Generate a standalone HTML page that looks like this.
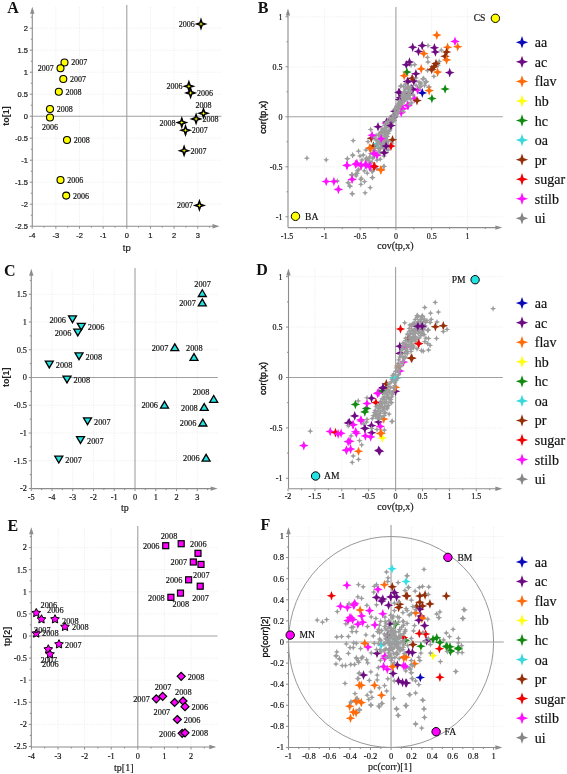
<!DOCTYPE html>
<html><head><meta charset="utf-8"><style>
html,body{margin:0;padding:0;background:#fff;}
body{width:567px;height:774px;overflow:hidden;}
svg{display:block;filter:blur(0.3px);}
</style></head><body>
<svg width="567" height="774" viewBox="0 0 567 774">
<rect width="567" height="774" fill="#fff"/>
<line x1="55.85" y1="7" x2="55.85" y2="226.2" stroke="#ebebeb" stroke-width="0.8" stroke-dasharray="1.2,1.2"/>
<line x1="79.5" y1="7" x2="79.5" y2="226.2" stroke="#ebebeb" stroke-width="0.8" stroke-dasharray="1.2,1.2"/>
<line x1="103.15" y1="7" x2="103.15" y2="226.2" stroke="#ebebeb" stroke-width="0.8" stroke-dasharray="1.2,1.2"/>
<line x1="150.45" y1="7" x2="150.45" y2="226.2" stroke="#ebebeb" stroke-width="0.8" stroke-dasharray="1.2,1.2"/>
<line x1="174.1" y1="7" x2="174.1" y2="226.2" stroke="#ebebeb" stroke-width="0.8" stroke-dasharray="1.2,1.2"/>
<line x1="197.75" y1="7" x2="197.75" y2="226.2" stroke="#ebebeb" stroke-width="0.8" stroke-dasharray="1.2,1.2"/>
<line x1="32.3" y1="28.2" x2="221.5" y2="28.2" stroke="#ebebeb" stroke-width="0.8" stroke-dasharray="1.2,1.2"/>
<line x1="32.3" y1="50.2" x2="221.5" y2="50.2" stroke="#ebebeb" stroke-width="0.8" stroke-dasharray="1.2,1.2"/>
<line x1="32.3" y1="72.2" x2="221.5" y2="72.2" stroke="#ebebeb" stroke-width="0.8" stroke-dasharray="1.2,1.2"/>
<line x1="32.3" y1="94.2" x2="221.5" y2="94.2" stroke="#ebebeb" stroke-width="0.8" stroke-dasharray="1.2,1.2"/>
<line x1="32.3" y1="138.2" x2="221.5" y2="138.2" stroke="#ebebeb" stroke-width="0.8" stroke-dasharray="1.2,1.2"/>
<line x1="32.3" y1="160.2" x2="221.5" y2="160.2" stroke="#ebebeb" stroke-width="0.8" stroke-dasharray="1.2,1.2"/>
<line x1="32.3" y1="182.2" x2="221.5" y2="182.2" stroke="#ebebeb" stroke-width="0.8" stroke-dasharray="1.2,1.2"/>
<line x1="32.3" y1="204.2" x2="221.5" y2="204.2" stroke="#ebebeb" stroke-width="0.8" stroke-dasharray="1.2,1.2"/>
<line x1="126.8" y1="5" x2="126.8" y2="226.2" stroke="#a0a0a0" stroke-width="1.1"/>
<line x1="32.3" y1="116.2" x2="221.5" y2="116.2" stroke="#a0a0a0" stroke-width="1.1"/>
<line x1="32.3" y1="226.2" x2="32.3" y2="11.8" stroke="#8c8c8c" stroke-width="1.1"/>
<path d="M32.3 6.8 L30.1 13.8 L34.5 13.8 Z" fill="#8c8c8c"/>
<line x1="32.3" y1="226.2" x2="214.5" y2="226.2" stroke="#8c8c8c" stroke-width="1.1"/>
<path d="M219.5 226.2 L212.5 224 L212.5 228.4 Z" fill="#8c8c8c"/>
<line x1="29.8" y1="226.2" x2="32.3" y2="226.2" stroke="#8c8c8c" stroke-width="1"/>
<line x1="29.8" y1="204.2" x2="32.3" y2="204.2" stroke="#8c8c8c" stroke-width="1"/>
<line x1="29.8" y1="182.2" x2="32.3" y2="182.2" stroke="#8c8c8c" stroke-width="1"/>
<line x1="29.8" y1="160.2" x2="32.3" y2="160.2" stroke="#8c8c8c" stroke-width="1"/>
<line x1="29.8" y1="138.2" x2="32.3" y2="138.2" stroke="#8c8c8c" stroke-width="1"/>
<line x1="29.8" y1="116.2" x2="32.3" y2="116.2" stroke="#8c8c8c" stroke-width="1"/>
<line x1="29.8" y1="94.2" x2="32.3" y2="94.2" stroke="#8c8c8c" stroke-width="1"/>
<line x1="29.8" y1="72.2" x2="32.3" y2="72.2" stroke="#8c8c8c" stroke-width="1"/>
<line x1="29.8" y1="50.2" x2="32.3" y2="50.2" stroke="#8c8c8c" stroke-width="1"/>
<line x1="29.8" y1="28.2" x2="32.3" y2="28.2" stroke="#8c8c8c" stroke-width="1"/>
<line x1="30.8" y1="215.2" x2="32.3" y2="215.2" stroke="#8c8c8c" stroke-width="1"/>
<line x1="30.8" y1="193.2" x2="32.3" y2="193.2" stroke="#8c8c8c" stroke-width="1"/>
<line x1="30.8" y1="171.2" x2="32.3" y2="171.2" stroke="#8c8c8c" stroke-width="1"/>
<line x1="30.8" y1="149.2" x2="32.3" y2="149.2" stroke="#8c8c8c" stroke-width="1"/>
<line x1="30.8" y1="127.2" x2="32.3" y2="127.2" stroke="#8c8c8c" stroke-width="1"/>
<line x1="30.8" y1="105.2" x2="32.3" y2="105.2" stroke="#8c8c8c" stroke-width="1"/>
<line x1="30.8" y1="83.2" x2="32.3" y2="83.2" stroke="#8c8c8c" stroke-width="1"/>
<line x1="30.8" y1="61.2" x2="32.3" y2="61.2" stroke="#8c8c8c" stroke-width="1"/>
<line x1="30.8" y1="39.2" x2="32.3" y2="39.2" stroke="#8c8c8c" stroke-width="1"/>
<line x1="30.8" y1="17.2" x2="32.3" y2="17.2" stroke="#8c8c8c" stroke-width="1"/>
<line x1="32.2" y1="226.2" x2="32.2" y2="228.7" stroke="#8c8c8c" stroke-width="1"/>
<line x1="55.85" y1="226.2" x2="55.85" y2="228.7" stroke="#8c8c8c" stroke-width="1"/>
<line x1="79.5" y1="226.2" x2="79.5" y2="228.7" stroke="#8c8c8c" stroke-width="1"/>
<line x1="103.15" y1="226.2" x2="103.15" y2="228.7" stroke="#8c8c8c" stroke-width="1"/>
<line x1="126.8" y1="226.2" x2="126.8" y2="228.7" stroke="#8c8c8c" stroke-width="1"/>
<line x1="150.45" y1="226.2" x2="150.45" y2="228.7" stroke="#8c8c8c" stroke-width="1"/>
<line x1="174.1" y1="226.2" x2="174.1" y2="228.7" stroke="#8c8c8c" stroke-width="1"/>
<line x1="197.75" y1="226.2" x2="197.75" y2="228.7" stroke="#8c8c8c" stroke-width="1"/>
<line x1="44.03" y1="226.2" x2="44.03" y2="227.7" stroke="#8c8c8c" stroke-width="1"/>
<line x1="67.67" y1="226.2" x2="67.67" y2="227.7" stroke="#8c8c8c" stroke-width="1"/>
<line x1="91.33" y1="226.2" x2="91.33" y2="227.7" stroke="#8c8c8c" stroke-width="1"/>
<line x1="114.97" y1="226.2" x2="114.97" y2="227.7" stroke="#8c8c8c" stroke-width="1"/>
<line x1="138.62" y1="226.2" x2="138.62" y2="227.7" stroke="#8c8c8c" stroke-width="1"/>
<line x1="162.27" y1="226.2" x2="162.27" y2="227.7" stroke="#8c8c8c" stroke-width="1"/>
<line x1="185.93" y1="226.2" x2="185.93" y2="227.7" stroke="#8c8c8c" stroke-width="1"/>
<line x1="209.57" y1="226.2" x2="209.57" y2="227.7" stroke="#8c8c8c" stroke-width="1"/>
<text x="28" y="229" font-size="7.5" font-family="Liberation Sans" text-anchor="end" fill="#111" stroke="#111" stroke-width="0.18" >-2.5</text>
<text x="28" y="207" font-size="7.5" font-family="Liberation Sans" text-anchor="end" fill="#111" stroke="#111" stroke-width="0.18" >-2</text>
<text x="28" y="185" font-size="7.5" font-family="Liberation Sans" text-anchor="end" fill="#111" stroke="#111" stroke-width="0.18" >-1.5</text>
<text x="28" y="163" font-size="7.5" font-family="Liberation Sans" text-anchor="end" fill="#111" stroke="#111" stroke-width="0.18" >-1</text>
<text x="28" y="141" font-size="7.5" font-family="Liberation Sans" text-anchor="end" fill="#111" stroke="#111" stroke-width="0.18" >-0.5</text>
<text x="28" y="119" font-size="7.5" font-family="Liberation Sans" text-anchor="end" fill="#111" stroke="#111" stroke-width="0.18" >0</text>
<text x="28" y="97" font-size="7.5" font-family="Liberation Sans" text-anchor="end" fill="#111" stroke="#111" stroke-width="0.18" >0.5</text>
<text x="28" y="75" font-size="7.5" font-family="Liberation Sans" text-anchor="end" fill="#111" stroke="#111" stroke-width="0.18" >1</text>
<text x="28" y="53" font-size="7.5" font-family="Liberation Sans" text-anchor="end" fill="#111" stroke="#111" stroke-width="0.18" >1.5</text>
<text x="28" y="31" font-size="7.5" font-family="Liberation Sans" text-anchor="end" fill="#111" stroke="#111" stroke-width="0.18" >2</text>
<text x="32.2" y="237.5" font-size="7.5" font-family="Liberation Sans" text-anchor="middle" fill="#111" stroke="#111" stroke-width="0.18" >-4</text>
<text x="55.85" y="237.5" font-size="7.5" font-family="Liberation Sans" text-anchor="middle" fill="#111" stroke="#111" stroke-width="0.18" >-3</text>
<text x="79.5" y="237.5" font-size="7.5" font-family="Liberation Sans" text-anchor="middle" fill="#111" stroke="#111" stroke-width="0.18" >-2</text>
<text x="103.15" y="237.5" font-size="7.5" font-family="Liberation Sans" text-anchor="middle" fill="#111" stroke="#111" stroke-width="0.18" >-1</text>
<text x="126.8" y="237.5" font-size="7.5" font-family="Liberation Sans" text-anchor="middle" fill="#111" stroke="#111" stroke-width="0.18" >0</text>
<text x="150.45" y="237.5" font-size="7.5" font-family="Liberation Sans" text-anchor="middle" fill="#111" stroke="#111" stroke-width="0.18" >1</text>
<text x="174.1" y="237.5" font-size="7.5" font-family="Liberation Sans" text-anchor="middle" fill="#111" stroke="#111" stroke-width="0.18" >2</text>
<text x="197.75" y="237.5" font-size="7.5" font-family="Liberation Sans" text-anchor="middle" fill="#111" stroke="#111" stroke-width="0.18" >3</text>
<text x="7.3" y="13" font-size="16" font-family="Liberation Serif" text-anchor="start" fill="#111" font-weight="bold" >A</text>
<text x="126.8" y="250.5" font-size="9.5" font-family="Liberation Sans" text-anchor="middle" fill="#222" stroke="#111" stroke-width="0.18" >tp</text>
<text x="0" y="0" font-size="9" font-family="Liberation Sans" font-weight="bold" fill="#222" text-anchor="middle" transform="translate(9.0,116) rotate(-90)">to[1]</text>
<circle cx="64.5" cy="62.5" r="3.5" fill="#ffff00" stroke="#000" stroke-width="1.1"/>
<text x="71.2" y="65.4" font-size="8.0" font-family="Liberation Serif" text-anchor="start" fill="#111" stroke="#111" stroke-width="0.18" >2007</text>
<circle cx="60.5" cy="68.3" r="3.5" fill="#ffff00" stroke="#000" stroke-width="1.1"/>
<text x="53.8" y="71.2" font-size="8.0" font-family="Liberation Serif" text-anchor="end" fill="#111" stroke="#111" stroke-width="0.18" >2007</text>
<circle cx="63.3" cy="79" r="3.5" fill="#ffff00" stroke="#000" stroke-width="1.1"/>
<text x="70" y="81.9" font-size="8.0" font-family="Liberation Serif" text-anchor="start" fill="#111" stroke="#111" stroke-width="0.18" >2007</text>
<circle cx="58.8" cy="91.8" r="3.5" fill="#ffff00" stroke="#000" stroke-width="1.1"/>
<text x="65.5" y="94.7" font-size="8.0" font-family="Liberation Serif" text-anchor="start" fill="#111" stroke="#111" stroke-width="0.18" >2008</text>
<circle cx="50" cy="109" r="3.5" fill="#ffff00" stroke="#000" stroke-width="1.1"/>
<text x="56.7" y="111.9" font-size="8.0" font-family="Liberation Serif" text-anchor="start" fill="#111" stroke="#111" stroke-width="0.18" >2008</text>
<circle cx="50" cy="117.5" r="3.5" fill="#ffff00" stroke="#000" stroke-width="1.1"/>
<text x="50" y="129.5" font-size="8.0" font-family="Liberation Serif" text-anchor="middle" fill="#111" stroke="#111" stroke-width="0.18" >2006</text>
<circle cx="67" cy="140" r="3.5" fill="#ffff00" stroke="#000" stroke-width="1.1"/>
<text x="73.7" y="142.9" font-size="8.0" font-family="Liberation Serif" text-anchor="start" fill="#111" stroke="#111" stroke-width="0.18" >2008</text>
<circle cx="60.5" cy="180" r="3.5" fill="#ffff00" stroke="#000" stroke-width="1.1"/>
<text x="67.2" y="182.9" font-size="8.0" font-family="Liberation Serif" text-anchor="start" fill="#111" stroke="#111" stroke-width="0.18" >2006</text>
<circle cx="66.2" cy="195.6" r="3.5" fill="#ffff00" stroke="#000" stroke-width="1.1"/>
<text x="72.9" y="198.5" font-size="8.0" font-family="Liberation Serif" text-anchor="start" fill="#111" stroke="#111" stroke-width="0.18" >2006</text>
<path d="M201 19.7 L202.09 22.91 L205.3 24 L202.09 25.09 L201 28.3 L199.91 25.09 L196.7 24 L199.91 22.91Z" fill="#ffff00" stroke="#000" stroke-width="1.5" stroke-linejoin="miter"/>
<text x="194.7" y="26.9" font-size="8.0" font-family="Liberation Serif" text-anchor="end" fill="#111" stroke="#111" stroke-width="0.18" >2006</text>
<path d="M188.9 81.9 L189.99 85.11 L193.2 86.2 L189.99 87.29 L188.9 90.5 L187.81 87.29 L184.6 86.2 L187.81 85.11Z" fill="#ffff00" stroke="#000" stroke-width="1.5" stroke-linejoin="miter"/>
<text x="182.6" y="89.1" font-size="8.0" font-family="Liberation Serif" text-anchor="end" fill="#111" stroke="#111" stroke-width="0.18" >2006</text>
<path d="M190.6 88.6 L191.69 91.81 L194.9 92.9 L191.69 93.99 L190.6 97.2 L189.51 93.99 L186.3 92.9 L189.51 91.81Z" fill="#ffff00" stroke="#000" stroke-width="1.5" stroke-linejoin="miter"/>
<text x="196.9" y="95.8" font-size="8.0" font-family="Liberation Serif" text-anchor="start" fill="#111" stroke="#111" stroke-width="0.18" >2006</text>
<path d="M203.5 108.9 L204.59 112.11 L207.8 113.2 L204.59 114.29 L203.5 117.5 L202.41 114.29 L199.2 113.2 L202.41 112.11Z" fill="#ffff00" stroke="#000" stroke-width="1.5" stroke-linejoin="miter"/>
<text x="203.5" y="107.7" font-size="8.0" font-family="Liberation Serif" text-anchor="middle" fill="#111" stroke="#111" stroke-width="0.18" >2008</text>
<path d="M196.1 114.6 L197.19 117.81 L200.4 118.9 L197.19 119.99 L196.1 123.2 L195.01 119.99 L191.8 118.9 L195.01 117.81Z" fill="#ffff00" stroke="#000" stroke-width="1.5" stroke-linejoin="miter"/>
<text x="202.4" y="121.8" font-size="8.0" font-family="Liberation Serif" text-anchor="start" fill="#111" stroke="#111" stroke-width="0.18" >2008</text>
<path d="M181.8 118.3 L182.89 121.51 L186.1 122.6 L182.89 123.69 L181.8 126.9 L180.71 123.69 L177.5 122.6 L180.71 121.51Z" fill="#ffff00" stroke="#000" stroke-width="1.5" stroke-linejoin="miter"/>
<text x="175.5" y="125.5" font-size="8.0" font-family="Liberation Serif" text-anchor="end" fill="#111" stroke="#111" stroke-width="0.18" >2008</text>
<path d="M185.5 126 L186.59 129.21 L189.8 130.3 L186.59 131.39 L185.5 134.6 L184.41 131.39 L181.2 130.3 L184.41 129.21Z" fill="#ffff00" stroke="#000" stroke-width="1.5" stroke-linejoin="miter"/>
<text x="191.8" y="133.2" font-size="8.0" font-family="Liberation Serif" text-anchor="start" fill="#111" stroke="#111" stroke-width="0.18" >2007</text>
<path d="M184.1 146.5 L185.19 149.71 L188.4 150.8 L185.19 151.89 L184.1 155.1 L183.01 151.89 L179.8 150.8 L183.01 149.71Z" fill="#ffff00" stroke="#000" stroke-width="1.5" stroke-linejoin="miter"/>
<text x="190.4" y="153.7" font-size="8.0" font-family="Liberation Serif" text-anchor="start" fill="#111" stroke="#111" stroke-width="0.18" >2007</text>
<path d="M199.4 201.1 L200.49 204.31 L203.7 205.4 L200.49 206.49 L199.4 209.7 L198.31 206.49 L195.1 205.4 L198.31 204.31Z" fill="#ffff00" stroke="#000" stroke-width="1.5" stroke-linejoin="miter"/>
<text x="193.1" y="208.3" font-size="8.0" font-family="Liberation Serif" text-anchor="end" fill="#111" stroke="#111" stroke-width="0.18" >2007</text>
<line x1="52" y1="270" x2="52" y2="488.6" stroke="#ebebeb" stroke-width="0.8" stroke-dasharray="1.2,1.2"/>
<line x1="72.75" y1="270" x2="72.75" y2="488.6" stroke="#ebebeb" stroke-width="0.8" stroke-dasharray="1.2,1.2"/>
<line x1="93.5" y1="270" x2="93.5" y2="488.6" stroke="#ebebeb" stroke-width="0.8" stroke-dasharray="1.2,1.2"/>
<line x1="114.25" y1="270" x2="114.25" y2="488.6" stroke="#ebebeb" stroke-width="0.8" stroke-dasharray="1.2,1.2"/>
<line x1="155.75" y1="270" x2="155.75" y2="488.6" stroke="#ebebeb" stroke-width="0.8" stroke-dasharray="1.2,1.2"/>
<line x1="176.5" y1="270" x2="176.5" y2="488.6" stroke="#ebebeb" stroke-width="0.8" stroke-dasharray="1.2,1.2"/>
<line x1="197.25" y1="270" x2="197.25" y2="488.6" stroke="#ebebeb" stroke-width="0.8" stroke-dasharray="1.2,1.2"/>
<line x1="31.3" y1="294.25" x2="217.7" y2="294.25" stroke="#ebebeb" stroke-width="0.8" stroke-dasharray="1.2,1.2"/>
<line x1="31.3" y1="322" x2="217.7" y2="322" stroke="#ebebeb" stroke-width="0.8" stroke-dasharray="1.2,1.2"/>
<line x1="31.3" y1="349.75" x2="217.7" y2="349.75" stroke="#ebebeb" stroke-width="0.8" stroke-dasharray="1.2,1.2"/>
<line x1="31.3" y1="405.25" x2="217.7" y2="405.25" stroke="#ebebeb" stroke-width="0.8" stroke-dasharray="1.2,1.2"/>
<line x1="31.3" y1="433" x2="217.7" y2="433" stroke="#ebebeb" stroke-width="0.8" stroke-dasharray="1.2,1.2"/>
<line x1="31.3" y1="460.75" x2="217.7" y2="460.75" stroke="#ebebeb" stroke-width="0.8" stroke-dasharray="1.2,1.2"/>
<line x1="135" y1="268" x2="135" y2="488.6" stroke="#a0a0a0" stroke-width="1.1"/>
<line x1="31.3" y1="377.5" x2="217.7" y2="377.5" stroke="#a0a0a0" stroke-width="1.1"/>
<line x1="31.3" y1="488.6" x2="31.3" y2="273.8" stroke="#8c8c8c" stroke-width="1.1"/>
<path d="M31.3 268.8 L29.1 275.8 L33.5 275.8 Z" fill="#8c8c8c"/>
<line x1="31.3" y1="488.6" x2="212.7" y2="488.6" stroke="#8c8c8c" stroke-width="1.1"/>
<path d="M217.7 488.6 L210.7 486.4 L210.7 490.8 Z" fill="#8c8c8c"/>
<line x1="28.8" y1="488.5" x2="31.3" y2="488.5" stroke="#8c8c8c" stroke-width="1"/>
<line x1="28.8" y1="460.75" x2="31.3" y2="460.75" stroke="#8c8c8c" stroke-width="1"/>
<line x1="28.8" y1="433" x2="31.3" y2="433" stroke="#8c8c8c" stroke-width="1"/>
<line x1="28.8" y1="405.25" x2="31.3" y2="405.25" stroke="#8c8c8c" stroke-width="1"/>
<line x1="28.8" y1="377.5" x2="31.3" y2="377.5" stroke="#8c8c8c" stroke-width="1"/>
<line x1="28.8" y1="349.75" x2="31.3" y2="349.75" stroke="#8c8c8c" stroke-width="1"/>
<line x1="28.8" y1="322" x2="31.3" y2="322" stroke="#8c8c8c" stroke-width="1"/>
<line x1="28.8" y1="294.25" x2="31.3" y2="294.25" stroke="#8c8c8c" stroke-width="1"/>
<line x1="29.8" y1="474.62" x2="31.3" y2="474.62" stroke="#8c8c8c" stroke-width="1"/>
<line x1="29.8" y1="446.88" x2="31.3" y2="446.88" stroke="#8c8c8c" stroke-width="1"/>
<line x1="29.8" y1="419.12" x2="31.3" y2="419.12" stroke="#8c8c8c" stroke-width="1"/>
<line x1="29.8" y1="391.38" x2="31.3" y2="391.38" stroke="#8c8c8c" stroke-width="1"/>
<line x1="29.8" y1="363.62" x2="31.3" y2="363.62" stroke="#8c8c8c" stroke-width="1"/>
<line x1="29.8" y1="335.88" x2="31.3" y2="335.88" stroke="#8c8c8c" stroke-width="1"/>
<line x1="29.8" y1="308.12" x2="31.3" y2="308.12" stroke="#8c8c8c" stroke-width="1"/>
<line x1="29.8" y1="280.38" x2="31.3" y2="280.38" stroke="#8c8c8c" stroke-width="1"/>
<line x1="31.25" y1="488.6" x2="31.25" y2="491.1" stroke="#8c8c8c" stroke-width="1"/>
<line x1="52" y1="488.6" x2="52" y2="491.1" stroke="#8c8c8c" stroke-width="1"/>
<line x1="72.75" y1="488.6" x2="72.75" y2="491.1" stroke="#8c8c8c" stroke-width="1"/>
<line x1="93.5" y1="488.6" x2="93.5" y2="491.1" stroke="#8c8c8c" stroke-width="1"/>
<line x1="114.25" y1="488.6" x2="114.25" y2="491.1" stroke="#8c8c8c" stroke-width="1"/>
<line x1="135" y1="488.6" x2="135" y2="491.1" stroke="#8c8c8c" stroke-width="1"/>
<line x1="155.75" y1="488.6" x2="155.75" y2="491.1" stroke="#8c8c8c" stroke-width="1"/>
<line x1="176.5" y1="488.6" x2="176.5" y2="491.1" stroke="#8c8c8c" stroke-width="1"/>
<line x1="197.25" y1="488.6" x2="197.25" y2="491.1" stroke="#8c8c8c" stroke-width="1"/>
<line x1="41.62" y1="488.6" x2="41.62" y2="490.1" stroke="#8c8c8c" stroke-width="1"/>
<line x1="62.38" y1="488.6" x2="62.38" y2="490.1" stroke="#8c8c8c" stroke-width="1"/>
<line x1="83.12" y1="488.6" x2="83.12" y2="490.1" stroke="#8c8c8c" stroke-width="1"/>
<line x1="103.88" y1="488.6" x2="103.88" y2="490.1" stroke="#8c8c8c" stroke-width="1"/>
<line x1="124.62" y1="488.6" x2="124.62" y2="490.1" stroke="#8c8c8c" stroke-width="1"/>
<line x1="145.38" y1="488.6" x2="145.38" y2="490.1" stroke="#8c8c8c" stroke-width="1"/>
<line x1="166.12" y1="488.6" x2="166.12" y2="490.1" stroke="#8c8c8c" stroke-width="1"/>
<line x1="186.88" y1="488.6" x2="186.88" y2="490.1" stroke="#8c8c8c" stroke-width="1"/>
<line x1="207.62" y1="488.6" x2="207.62" y2="490.1" stroke="#8c8c8c" stroke-width="1"/>
<text x="27" y="491.3" font-size="8.3" font-family="Liberation Serif" text-anchor="end" fill="#111" stroke="#111" stroke-width="0.18" >-2</text>
<text x="27" y="463.55" font-size="8.3" font-family="Liberation Serif" text-anchor="end" fill="#111" stroke="#111" stroke-width="0.18" >-1.5</text>
<text x="27" y="435.8" font-size="8.3" font-family="Liberation Serif" text-anchor="end" fill="#111" stroke="#111" stroke-width="0.18" >-1</text>
<text x="27" y="408.05" font-size="8.3" font-family="Liberation Serif" text-anchor="end" fill="#111" stroke="#111" stroke-width="0.18" >-0.5</text>
<text x="27" y="380.3" font-size="8.3" font-family="Liberation Serif" text-anchor="end" fill="#111" stroke="#111" stroke-width="0.18" >0</text>
<text x="27" y="352.55" font-size="8.3" font-family="Liberation Serif" text-anchor="end" fill="#111" stroke="#111" stroke-width="0.18" >0.5</text>
<text x="27" y="324.8" font-size="8.3" font-family="Liberation Serif" text-anchor="end" fill="#111" stroke="#111" stroke-width="0.18" >1</text>
<text x="27" y="297.05" font-size="8.3" font-family="Liberation Serif" text-anchor="end" fill="#111" stroke="#111" stroke-width="0.18" >1.5</text>
<text x="31.25" y="500" font-size="8.3" font-family="Liberation Serif" text-anchor="middle" fill="#111" stroke="#111" stroke-width="0.18" >-5</text>
<text x="52" y="500" font-size="8.3" font-family="Liberation Serif" text-anchor="middle" fill="#111" stroke="#111" stroke-width="0.18" >-4</text>
<text x="72.75" y="500" font-size="8.3" font-family="Liberation Serif" text-anchor="middle" fill="#111" stroke="#111" stroke-width="0.18" >-3</text>
<text x="93.5" y="500" font-size="8.3" font-family="Liberation Serif" text-anchor="middle" fill="#111" stroke="#111" stroke-width="0.18" >-2</text>
<text x="114.25" y="500" font-size="8.3" font-family="Liberation Serif" text-anchor="middle" fill="#111" stroke="#111" stroke-width="0.18" >-1</text>
<text x="135" y="500" font-size="8.3" font-family="Liberation Serif" text-anchor="middle" fill="#111" stroke="#111" stroke-width="0.18" >0</text>
<text x="155.75" y="500" font-size="8.3" font-family="Liberation Serif" text-anchor="middle" fill="#111" stroke="#111" stroke-width="0.18" >1</text>
<text x="176.5" y="500" font-size="8.3" font-family="Liberation Serif" text-anchor="middle" fill="#111" stroke="#111" stroke-width="0.18" >2</text>
<text x="197.25" y="500" font-size="8.3" font-family="Liberation Serif" text-anchor="middle" fill="#111" stroke="#111" stroke-width="0.18" >3</text>
<text x="4" y="275.5" font-size="16" font-family="Liberation Serif" text-anchor="start" fill="#111" font-weight="bold" >C</text>
<text x="124.9" y="510.8" font-size="10" font-family="Liberation Serif" text-anchor="middle" fill="#222" stroke="#111" stroke-width="0.18" >tp</text>
<text x="0" y="0" font-size="9" font-family="Liberation Sans" font-weight="bold" fill="#222" text-anchor="middle" transform="translate(9.2,377.3) rotate(-90)">to[1]</text>
<path d="M68.5 315.9 L76.5 315.9 L72.5 322.7 Z" fill="#22e2e2" stroke="#000" stroke-width="1.3" stroke-linejoin="miter"/>
<text x="66" y="322.8" font-size="8.3" font-family="Liberation Serif" text-anchor="end" fill="#111" stroke="#111" stroke-width="0.18" >2006</text>
<path d="M77.3 323.4 L85.3 323.4 L81.3 330.2 Z" fill="#22e2e2" stroke="#000" stroke-width="1.3" stroke-linejoin="miter"/>
<text x="87.8" y="330.3" font-size="8.3" font-family="Liberation Serif" text-anchor="start" fill="#111" stroke="#111" stroke-width="0.18" >2006</text>
<path d="M73.8 329.1 L81.8 329.1 L77.8 335.9 Z" fill="#22e2e2" stroke="#000" stroke-width="1.3" stroke-linejoin="miter"/>
<text x="71.3" y="336" font-size="8.3" font-family="Liberation Serif" text-anchor="end" fill="#111" stroke="#111" stroke-width="0.18" >2006</text>
<path d="M75 352.9 L83 352.9 L79 359.7 Z" fill="#22e2e2" stroke="#000" stroke-width="1.3" stroke-linejoin="miter"/>
<text x="85.5" y="359.8" font-size="8.3" font-family="Liberation Serif" text-anchor="start" fill="#111" stroke="#111" stroke-width="0.18" >2008</text>
<path d="M45.3 361.1 L53.3 361.1 L49.3 367.9 Z" fill="#22e2e2" stroke="#000" stroke-width="1.3" stroke-linejoin="miter"/>
<text x="55.8" y="368" font-size="8.3" font-family="Liberation Serif" text-anchor="start" fill="#111" stroke="#111" stroke-width="0.18" >2008</text>
<path d="M63 376.1 L71 376.1 L67 382.9 Z" fill="#22e2e2" stroke="#000" stroke-width="1.3" stroke-linejoin="miter"/>
<text x="73.5" y="383" font-size="8.3" font-family="Liberation Serif" text-anchor="start" fill="#111" stroke="#111" stroke-width="0.18" >2008</text>
<path d="M83.5 417.9 L91.5 417.9 L87.5 424.7 Z" fill="#22e2e2" stroke="#000" stroke-width="1.3" stroke-linejoin="miter"/>
<text x="94" y="424.8" font-size="8.3" font-family="Liberation Serif" text-anchor="start" fill="#111" stroke="#111" stroke-width="0.18" >2007</text>
<path d="M76.5 436.6 L84.5 436.6 L80.5 443.4 Z" fill="#22e2e2" stroke="#000" stroke-width="1.3" stroke-linejoin="miter"/>
<text x="87" y="443.5" font-size="8.3" font-family="Liberation Serif" text-anchor="start" fill="#111" stroke="#111" stroke-width="0.18" >2007</text>
<path d="M54.8 456.2 L62.8 456.2 L58.8 463 Z" fill="#22e2e2" stroke="#000" stroke-width="1.3" stroke-linejoin="miter"/>
<text x="65.3" y="463.1" font-size="8.3" font-family="Liberation Serif" text-anchor="start" fill="#111" stroke="#111" stroke-width="0.18" >2007</text>
<path d="M198.3 296.5 L206.3 296.5 L202.3 289.7 Z" fill="#22e2e2" stroke="#000" stroke-width="1.3" stroke-linejoin="miter"/>
<text x="194.3" y="287.1" font-size="8.3" font-family="Liberation Serif" text-anchor="start" fill="#111" stroke="#111" stroke-width="0.18" >2007</text>
<path d="M198.3 305.9 L206.3 305.9 L202.3 299.1 Z" fill="#22e2e2" stroke="#000" stroke-width="1.3" stroke-linejoin="miter"/>
<text x="195.8" y="306" font-size="8.3" font-family="Liberation Serif" text-anchor="end" fill="#111" stroke="#111" stroke-width="0.18" >2007</text>
<path d="M170.8 350.7 L178.8 350.7 L174.8 343.9 Z" fill="#22e2e2" stroke="#000" stroke-width="1.3" stroke-linejoin="miter"/>
<text x="168.3" y="350.8" font-size="8.3" font-family="Liberation Serif" text-anchor="end" fill="#111" stroke="#111" stroke-width="0.18" >2007</text>
<path d="M190 360.4 L198 360.4 L194 353.6 Z" fill="#22e2e2" stroke="#000" stroke-width="1.3" stroke-linejoin="miter"/>
<text x="186" y="351.2" font-size="8.3" font-family="Liberation Serif" text-anchor="start" fill="#111" stroke="#111" stroke-width="0.18" >2008</text>
<path d="M160.5 408.2 L168.5 408.2 L164.5 401.4 Z" fill="#22e2e2" stroke="#000" stroke-width="1.3" stroke-linejoin="miter"/>
<text x="158" y="408.3" font-size="8.3" font-family="Liberation Serif" text-anchor="end" fill="#111" stroke="#111" stroke-width="0.18" >2006</text>
<path d="M209.7 402.3 L217.7 402.3 L213.7 395.5 Z" fill="#22e2e2" stroke="#000" stroke-width="1.3" stroke-linejoin="miter"/>
<text x="192.7" y="394.9" font-size="8.3" font-family="Liberation Serif" text-anchor="start" fill="#111" stroke="#111" stroke-width="0.18" >2008</text>
<path d="M200.2 410.4 L208.2 410.4 L204.2 403.6 Z" fill="#22e2e2" stroke="#000" stroke-width="1.3" stroke-linejoin="miter"/>
<text x="197.7" y="410.5" font-size="8.3" font-family="Liberation Serif" text-anchor="end" fill="#111" stroke="#111" stroke-width="0.18" >2008</text>
<path d="M198.9 426 L206.9 426 L202.9 419.2 Z" fill="#22e2e2" stroke="#000" stroke-width="1.3" stroke-linejoin="miter"/>
<text x="196.4" y="426.1" font-size="8.3" font-family="Liberation Serif" text-anchor="end" fill="#111" stroke="#111" stroke-width="0.18" >2006</text>
<path d="M202.1 461.1 L210.1 461.1 L206.1 454.3 Z" fill="#22e2e2" stroke="#000" stroke-width="1.3" stroke-linejoin="miter"/>
<text x="199.6" y="461.2" font-size="8.3" font-family="Liberation Serif" text-anchor="end" fill="#111" stroke="#111" stroke-width="0.18" >2006</text>
<line x1="58" y1="528" x2="58" y2="747" stroke="#ebebeb" stroke-width="0.8" stroke-dasharray="1.2,1.2"/>
<line x1="84.6" y1="528" x2="84.6" y2="747" stroke="#ebebeb" stroke-width="0.8" stroke-dasharray="1.2,1.2"/>
<line x1="111.2" y1="528" x2="111.2" y2="747" stroke="#ebebeb" stroke-width="0.8" stroke-dasharray="1.2,1.2"/>
<line x1="164.4" y1="528" x2="164.4" y2="747" stroke="#ebebeb" stroke-width="0.8" stroke-dasharray="1.2,1.2"/>
<line x1="191" y1="528" x2="191" y2="747" stroke="#ebebeb" stroke-width="0.8" stroke-dasharray="1.2,1.2"/>
<line x1="31.3" y1="547.6" x2="217.5" y2="547.6" stroke="#ebebeb" stroke-width="0.8" stroke-dasharray="1.2,1.2"/>
<line x1="31.3" y1="569.7" x2="217.5" y2="569.7" stroke="#ebebeb" stroke-width="0.8" stroke-dasharray="1.2,1.2"/>
<line x1="31.3" y1="591.8" x2="217.5" y2="591.8" stroke="#ebebeb" stroke-width="0.8" stroke-dasharray="1.2,1.2"/>
<line x1="31.3" y1="613.9" x2="217.5" y2="613.9" stroke="#ebebeb" stroke-width="0.8" stroke-dasharray="1.2,1.2"/>
<line x1="31.3" y1="658.1" x2="217.5" y2="658.1" stroke="#ebebeb" stroke-width="0.8" stroke-dasharray="1.2,1.2"/>
<line x1="31.3" y1="680.2" x2="217.5" y2="680.2" stroke="#ebebeb" stroke-width="0.8" stroke-dasharray="1.2,1.2"/>
<line x1="31.3" y1="702.3" x2="217.5" y2="702.3" stroke="#ebebeb" stroke-width="0.8" stroke-dasharray="1.2,1.2"/>
<line x1="31.3" y1="724.4" x2="217.5" y2="724.4" stroke="#ebebeb" stroke-width="0.8" stroke-dasharray="1.2,1.2"/>
<line x1="137.8" y1="526" x2="137.8" y2="747" stroke="#a0a0a0" stroke-width="1.1"/>
<line x1="31.3" y1="636" x2="217.5" y2="636" stroke="#a0a0a0" stroke-width="1.1"/>
<line x1="31.3" y1="747" x2="31.3" y2="532.3" stroke="#8c8c8c" stroke-width="1.1"/>
<path d="M31.3 527.3 L29.1 534.3 L33.5 534.3 Z" fill="#8c8c8c"/>
<line x1="31.3" y1="747" x2="211.3" y2="747" stroke="#8c8c8c" stroke-width="1.1"/>
<path d="M216.3 747 L209.3 744.8 L209.3 749.2 Z" fill="#8c8c8c"/>
<line x1="28.8" y1="746.5" x2="31.3" y2="746.5" stroke="#8c8c8c" stroke-width="1"/>
<line x1="28.8" y1="724.4" x2="31.3" y2="724.4" stroke="#8c8c8c" stroke-width="1"/>
<line x1="28.8" y1="702.3" x2="31.3" y2="702.3" stroke="#8c8c8c" stroke-width="1"/>
<line x1="28.8" y1="680.2" x2="31.3" y2="680.2" stroke="#8c8c8c" stroke-width="1"/>
<line x1="28.8" y1="658.1" x2="31.3" y2="658.1" stroke="#8c8c8c" stroke-width="1"/>
<line x1="28.8" y1="636" x2="31.3" y2="636" stroke="#8c8c8c" stroke-width="1"/>
<line x1="28.8" y1="613.9" x2="31.3" y2="613.9" stroke="#8c8c8c" stroke-width="1"/>
<line x1="28.8" y1="591.8" x2="31.3" y2="591.8" stroke="#8c8c8c" stroke-width="1"/>
<line x1="28.8" y1="569.7" x2="31.3" y2="569.7" stroke="#8c8c8c" stroke-width="1"/>
<line x1="28.8" y1="547.6" x2="31.3" y2="547.6" stroke="#8c8c8c" stroke-width="1"/>
<line x1="29.8" y1="735.45" x2="31.3" y2="735.45" stroke="#8c8c8c" stroke-width="1"/>
<line x1="29.8" y1="713.35" x2="31.3" y2="713.35" stroke="#8c8c8c" stroke-width="1"/>
<line x1="29.8" y1="691.25" x2="31.3" y2="691.25" stroke="#8c8c8c" stroke-width="1"/>
<line x1="29.8" y1="669.15" x2="31.3" y2="669.15" stroke="#8c8c8c" stroke-width="1"/>
<line x1="29.8" y1="647.05" x2="31.3" y2="647.05" stroke="#8c8c8c" stroke-width="1"/>
<line x1="29.8" y1="624.95" x2="31.3" y2="624.95" stroke="#8c8c8c" stroke-width="1"/>
<line x1="29.8" y1="602.85" x2="31.3" y2="602.85" stroke="#8c8c8c" stroke-width="1"/>
<line x1="29.8" y1="580.75" x2="31.3" y2="580.75" stroke="#8c8c8c" stroke-width="1"/>
<line x1="29.8" y1="558.65" x2="31.3" y2="558.65" stroke="#8c8c8c" stroke-width="1"/>
<line x1="29.8" y1="536.55" x2="31.3" y2="536.55" stroke="#8c8c8c" stroke-width="1"/>
<line x1="31.4" y1="747" x2="31.4" y2="749.5" stroke="#8c8c8c" stroke-width="1"/>
<line x1="58" y1="747" x2="58" y2="749.5" stroke="#8c8c8c" stroke-width="1"/>
<line x1="84.6" y1="747" x2="84.6" y2="749.5" stroke="#8c8c8c" stroke-width="1"/>
<line x1="111.2" y1="747" x2="111.2" y2="749.5" stroke="#8c8c8c" stroke-width="1"/>
<line x1="137.8" y1="747" x2="137.8" y2="749.5" stroke="#8c8c8c" stroke-width="1"/>
<line x1="164.4" y1="747" x2="164.4" y2="749.5" stroke="#8c8c8c" stroke-width="1"/>
<line x1="191" y1="747" x2="191" y2="749.5" stroke="#8c8c8c" stroke-width="1"/>
<line x1="44.7" y1="747" x2="44.7" y2="748.5" stroke="#8c8c8c" stroke-width="1"/>
<line x1="71.3" y1="747" x2="71.3" y2="748.5" stroke="#8c8c8c" stroke-width="1"/>
<line x1="97.9" y1="747" x2="97.9" y2="748.5" stroke="#8c8c8c" stroke-width="1"/>
<line x1="124.5" y1="747" x2="124.5" y2="748.5" stroke="#8c8c8c" stroke-width="1"/>
<line x1="151.1" y1="747" x2="151.1" y2="748.5" stroke="#8c8c8c" stroke-width="1"/>
<line x1="177.7" y1="747" x2="177.7" y2="748.5" stroke="#8c8c8c" stroke-width="1"/>
<line x1="204.3" y1="747" x2="204.3" y2="748.5" stroke="#8c8c8c" stroke-width="1"/>
<text x="27" y="749.3" font-size="8.3" font-family="Liberation Serif" text-anchor="end" fill="#111" stroke="#111" stroke-width="0.18" >-2.5</text>
<text x="27" y="727.2" font-size="8.3" font-family="Liberation Serif" text-anchor="end" fill="#111" stroke="#111" stroke-width="0.18" >-2</text>
<text x="27" y="705.1" font-size="8.3" font-family="Liberation Serif" text-anchor="end" fill="#111" stroke="#111" stroke-width="0.18" >-1.5</text>
<text x="27" y="683" font-size="8.3" font-family="Liberation Serif" text-anchor="end" fill="#111" stroke="#111" stroke-width="0.18" >-1</text>
<text x="27" y="660.9" font-size="8.3" font-family="Liberation Serif" text-anchor="end" fill="#111" stroke="#111" stroke-width="0.18" >-0.5</text>
<text x="27" y="638.8" font-size="8.3" font-family="Liberation Serif" text-anchor="end" fill="#111" stroke="#111" stroke-width="0.18" >0</text>
<text x="27" y="616.7" font-size="8.3" font-family="Liberation Serif" text-anchor="end" fill="#111" stroke="#111" stroke-width="0.18" >0.5</text>
<text x="27" y="594.6" font-size="8.3" font-family="Liberation Serif" text-anchor="end" fill="#111" stroke="#111" stroke-width="0.18" >1</text>
<text x="27" y="572.5" font-size="8.3" font-family="Liberation Serif" text-anchor="end" fill="#111" stroke="#111" stroke-width="0.18" >1.5</text>
<text x="27" y="550.4" font-size="8.3" font-family="Liberation Serif" text-anchor="end" fill="#111" stroke="#111" stroke-width="0.18" >2</text>
<text x="31.4" y="759.3" font-size="8.3" font-family="Liberation Serif" text-anchor="middle" fill="#111" stroke="#111" stroke-width="0.18" >-4</text>
<text x="58" y="759.3" font-size="8.3" font-family="Liberation Serif" text-anchor="middle" fill="#111" stroke="#111" stroke-width="0.18" >-3</text>
<text x="84.6" y="759.3" font-size="8.3" font-family="Liberation Serif" text-anchor="middle" fill="#111" stroke="#111" stroke-width="0.18" >-2</text>
<text x="111.2" y="759.3" font-size="8.3" font-family="Liberation Serif" text-anchor="middle" fill="#111" stroke="#111" stroke-width="0.18" >-1</text>
<text x="137.8" y="759.3" font-size="8.3" font-family="Liberation Serif" text-anchor="middle" fill="#111" stroke="#111" stroke-width="0.18" >0</text>
<text x="164.4" y="759.3" font-size="8.3" font-family="Liberation Serif" text-anchor="middle" fill="#111" stroke="#111" stroke-width="0.18" >1</text>
<text x="191" y="759.3" font-size="8.3" font-family="Liberation Serif" text-anchor="middle" fill="#111" stroke="#111" stroke-width="0.18" >2</text>
<text x="7.5" y="530.5" font-size="16" font-family="Liberation Serif" text-anchor="start" fill="#111" font-weight="bold" >E</text>
<text x="123.8" y="770.5" font-size="10" font-family="Liberation Serif" text-anchor="middle" fill="#222" stroke="#111" stroke-width="0.18" >tp[1]</text>
<text x="0" y="0" font-size="9" font-family="Liberation Sans" fill="#222" text-anchor="middle" font-weight="bold" transform="translate(10.2,636.5) rotate(-90)">tp[2]</text>
<path d="M36.3 608.4 L37.65 611.14 L40.67 611.58 L38.49 613.71 L39 616.72 L36.3 615.3 L33.6 616.72 L34.11 613.71 L31.93 611.58 L34.95 611.14Z" fill="#ff00ff" stroke="#000" stroke-width="1" stroke-linejoin="miter"/>
<path d="M41.5 614.7 L42.85 617.44 L45.87 617.88 L43.69 620.01 L44.2 623.02 L41.5 621.6 L38.8 623.02 L39.31 620.01 L37.13 617.88 L40.15 617.44Z" fill="#ff00ff" stroke="#000" stroke-width="1" stroke-linejoin="miter"/>
<path d="M55 614.7 L56.35 617.44 L59.37 617.88 L57.19 620.01 L57.7 623.02 L55 621.6 L52.3 623.02 L52.81 620.01 L50.63 617.88 L53.65 617.44Z" fill="#ff00ff" stroke="#000" stroke-width="1" stroke-linejoin="miter"/>
<path d="M65 622.2 L66.35 624.94 L69.37 625.38 L67.19 627.51 L67.7 630.52 L65 629.1 L62.3 630.52 L62.81 627.51 L60.63 625.38 L63.65 624.94Z" fill="#ff00ff" stroke="#000" stroke-width="1" stroke-linejoin="miter"/>
<path d="M36.3 628.9 L37.65 631.64 L40.67 632.08 L38.49 634.21 L39 637.22 L36.3 635.8 L33.6 637.22 L34.11 634.21 L31.93 632.08 L34.95 631.64Z" fill="#ff00ff" stroke="#000" stroke-width="1" stroke-linejoin="miter"/>
<path d="M59 639.7 L60.35 642.44 L63.37 642.88 L61.19 645.01 L61.7 648.02 L59 646.6 L56.3 648.02 L56.81 645.01 L54.63 642.88 L57.65 642.44Z" fill="#ff00ff" stroke="#000" stroke-width="1" stroke-linejoin="miter"/>
<path d="M48.3 644.7 L49.65 647.44 L52.67 647.88 L50.49 650.01 L51 653.02 L48.3 651.6 L45.6 653.02 L46.11 650.01 L43.93 647.88 L46.95 647.44Z" fill="#ff00ff" stroke="#000" stroke-width="1" stroke-linejoin="miter"/>
<path d="M50 649.7 L51.35 652.44 L54.37 652.88 L52.19 655.01 L52.7 658.02 L50 656.6 L47.3 658.02 L47.81 655.01 L45.63 652.88 L48.65 652.44Z" fill="#ff00ff" stroke="#000" stroke-width="1" stroke-linejoin="miter"/>
<text x="40.5" y="608" font-size="8.3" font-family="Liberation Serif" text-anchor="start" fill="#111" stroke="#111" stroke-width="0.18" >2006</text>
<text x="47" y="613" font-size="8.3" font-family="Liberation Serif" text-anchor="start" fill="#111" stroke="#111" stroke-width="0.18" >2006</text>
<text x="62" y="623.7" font-size="8.3" font-family="Liberation Serif" text-anchor="start" fill="#111" stroke="#111" stroke-width="0.18" >2008</text>
<text x="72" y="630.2" font-size="8.3" font-family="Liberation Serif" text-anchor="start" fill="#111" stroke="#111" stroke-width="0.18" >2008</text>
<text x="34" y="632.5" font-size="8.3" font-family="Liberation Serif" text-anchor="start" fill="#111" stroke="#111" stroke-width="0.18" >2007</text>
<text x="42" y="636.2" font-size="8.3" font-family="Liberation Serif" text-anchor="start" fill="#111" stroke="#111" stroke-width="0.18" >2008</text>
<text x="65" y="647.7" font-size="8.3" font-family="Liberation Serif" text-anchor="start" fill="#111" stroke="#111" stroke-width="0.18" >2007</text>
<text x="40.5" y="662.7" font-size="8.3" font-family="Liberation Serif" text-anchor="start" fill="#111" stroke="#111" stroke-width="0.18" >2007</text>
<text x="42" y="666.5" font-size="8.3" font-family="Liberation Serif" text-anchor="start" fill="#111" stroke="#111" stroke-width="0.18" >2006</text>
<rect x="162.7" y="542.7" width="6" height="6" fill="#ff00ff" stroke="#000" stroke-width="1.2"/>
<text x="159.5" y="549" font-size="8.3" font-family="Liberation Serif" text-anchor="end" fill="#111" stroke="#111" stroke-width="0.18" >2006</text>
<rect x="178.2" y="540.7" width="6" height="6" fill="#ff00ff" stroke="#000" stroke-width="1.2"/>
<text x="160.7" y="538.5" font-size="8.3" font-family="Liberation Serif" text-anchor="start" fill="#111" stroke="#111" stroke-width="0.18" >2008</text>
<rect x="195" y="550.3" width="6" height="6" fill="#ff00ff" stroke="#000" stroke-width="1.2"/>
<text x="190" y="546.8" font-size="8.3" font-family="Liberation Serif" text-anchor="start" fill="#111" stroke="#111" stroke-width="0.18" >2006</text>
<rect x="190.3" y="559" width="6" height="6" fill="#ff00ff" stroke="#000" stroke-width="1.2"/>
<text x="187.1" y="565.3" font-size="8.3" font-family="Liberation Serif" text-anchor="end" fill="#111" stroke="#111" stroke-width="0.18" >2007</text>
<rect x="198" y="561.4" width="6" height="6" fill="#ff00ff" stroke="#000" stroke-width="1.2"/>
<text x="193" y="578.4" font-size="8.3" font-family="Liberation Serif" text-anchor="start" fill="#111" stroke="#111" stroke-width="0.18" >2007</text>
<rect x="185.6" y="576.8" width="6" height="6" fill="#ff00ff" stroke="#000" stroke-width="1.2"/>
<text x="182.4" y="583.1" font-size="8.3" font-family="Liberation Serif" text-anchor="end" fill="#111" stroke="#111" stroke-width="0.18" >2006</text>
<rect x="197.2" y="583.2" width="6" height="6" fill="#ff00ff" stroke="#000" stroke-width="1.2"/>
<text x="192.2" y="600.5" font-size="8.3" font-family="Liberation Serif" text-anchor="start" fill="#111" stroke="#111" stroke-width="0.18" >2007</text>
<rect x="177.5" y="590.1" width="6" height="6" fill="#ff00ff" stroke="#000" stroke-width="1.2"/>
<text x="172.5" y="607.3" font-size="8.3" font-family="Liberation Serif" text-anchor="start" fill="#111" stroke="#111" stroke-width="0.18" >2008</text>
<rect x="167.9" y="594.3" width="6" height="6" fill="#ff00ff" stroke="#000" stroke-width="1.2"/>
<text x="164.7" y="600.6" font-size="8.3" font-family="Liberation Serif" text-anchor="end" fill="#111" stroke="#111" stroke-width="0.18" >2008</text>
<path d="M181.2 672.3 L185.2 676.3 L181.2 680.3 L177.2 676.3 Z" fill="#ff00ff" stroke="#000" stroke-width="1.2"/>
<text x="187.7" y="679.6" font-size="8.3" font-family="Liberation Serif" text-anchor="start" fill="#111" stroke="#111" stroke-width="0.18" >2008</text>
<path d="M162.7 692.3 L166.7 696.3 L162.7 700.3 L158.7 696.3 Z" fill="#ff00ff" stroke="#000" stroke-width="1.2"/>
<text x="154.7" y="689.8" font-size="8.3" font-family="Liberation Serif" text-anchor="start" fill="#111" stroke="#111" stroke-width="0.18" >2007</text>
<path d="M156.3 694.8 L160.3 698.8 L156.3 702.8 L152.3 698.8 Z" fill="#ff00ff" stroke="#000" stroke-width="1.2"/>
<text x="149.8" y="702.1" font-size="8.3" font-family="Liberation Serif" text-anchor="end" fill="#111" stroke="#111" stroke-width="0.18" >2007</text>
<path d="M174.6 698.5 L178.6 702.5 L174.6 706.5 L170.6 702.5 Z" fill="#ff00ff" stroke="#000" stroke-width="1.2"/>
<text x="153.6" y="714.5" font-size="8.3" font-family="Liberation Serif" text-anchor="start" fill="#111" stroke="#111" stroke-width="0.18" >2007</text>
<path d="M183 697 L187 701 L183 705 L179 701 Z" fill="#ff00ff" stroke="#000" stroke-width="1.2"/>
<text x="175" y="694.5" font-size="8.3" font-family="Liberation Serif" text-anchor="start" fill="#111" stroke="#111" stroke-width="0.18" >2008</text>
<path d="M185 702.7 L189 706.7 L185 710.7 L181 706.7 Z" fill="#ff00ff" stroke="#000" stroke-width="1.2"/>
<text x="191.5" y="710" font-size="8.3" font-family="Liberation Serif" text-anchor="start" fill="#111" stroke="#111" stroke-width="0.18" >2006</text>
<path d="M177.3 715.5 L181.3 719.5 L177.3 723.5 L173.3 719.5 Z" fill="#ff00ff" stroke="#000" stroke-width="1.2"/>
<text x="183.8" y="722.8" font-size="8.3" font-family="Liberation Serif" text-anchor="start" fill="#111" stroke="#111" stroke-width="0.18" >2006</text>
<path d="M182.2 729.3 L186.2 733.3 L182.2 737.3 L178.2 733.3 Z" fill="#ff00ff" stroke="#000" stroke-width="1.2"/>
<text x="175.7" y="736.6" font-size="8.3" font-family="Liberation Serif" text-anchor="end" fill="#111" stroke="#111" stroke-width="0.18" >2006</text>
<path d="M185 728.8 L189 732.8 L185 736.8 L181 732.8 Z" fill="#ff00ff" stroke="#000" stroke-width="1.2"/>
<text x="191.5" y="736.1" font-size="8.3" font-family="Liberation Serif" text-anchor="start" fill="#111" stroke="#111" stroke-width="0.18" >2008</text>
<line x1="324.4" y1="9" x2="324.4" y2="227.6" stroke="#ebebeb" stroke-width="0.8" stroke-dasharray="1.2,1.2"/>
<line x1="360.15" y1="9" x2="360.15" y2="227.6" stroke="#ebebeb" stroke-width="0.8" stroke-dasharray="1.2,1.2"/>
<line x1="431.65" y1="9" x2="431.65" y2="227.6" stroke="#ebebeb" stroke-width="0.8" stroke-dasharray="1.2,1.2"/>
<line x1="467.4" y1="9" x2="467.4" y2="227.6" stroke="#ebebeb" stroke-width="0.8" stroke-dasharray="1.2,1.2"/>
<line x1="288" y1="16.8" x2="502.8" y2="16.8" stroke="#ebebeb" stroke-width="0.8" stroke-dasharray="1.2,1.2"/>
<line x1="288" y1="66.8" x2="502.8" y2="66.8" stroke="#ebebeb" stroke-width="0.8" stroke-dasharray="1.2,1.2"/>
<line x1="288" y1="166.8" x2="502.8" y2="166.8" stroke="#ebebeb" stroke-width="0.8" stroke-dasharray="1.2,1.2"/>
<line x1="288" y1="216.8" x2="502.8" y2="216.8" stroke="#ebebeb" stroke-width="0.8" stroke-dasharray="1.2,1.2"/>
<line x1="395.9" y1="7" x2="395.9" y2="227.6" stroke="#a0a0a0" stroke-width="1.1"/>
<line x1="288" y1="116.8" x2="502.8" y2="116.8" stroke="#a0a0a0" stroke-width="1.1"/>
<line x1="288" y1="227.6" x2="288" y2="13.5" stroke="#8c8c8c" stroke-width="1.1"/>
<path d="M288 8.5 L285.8 15.5 L290.2 15.5 Z" fill="#8c8c8c"/>
<line x1="288" y1="227.6" x2="497.4" y2="227.6" stroke="#8c8c8c" stroke-width="1.1"/>
<path d="M502.4 227.6 L495.4 225.4 L495.4 229.8 Z" fill="#8c8c8c"/>
<line x1="285.5" y1="216.8" x2="288" y2="216.8" stroke="#8c8c8c" stroke-width="1"/>
<line x1="285.5" y1="166.8" x2="288" y2="166.8" stroke="#8c8c8c" stroke-width="1"/>
<line x1="285.5" y1="116.8" x2="288" y2="116.8" stroke="#8c8c8c" stroke-width="1"/>
<line x1="285.5" y1="66.8" x2="288" y2="66.8" stroke="#8c8c8c" stroke-width="1"/>
<line x1="285.5" y1="16.8" x2="288" y2="16.8" stroke="#8c8c8c" stroke-width="1"/>
<line x1="286.5" y1="191.8" x2="288" y2="191.8" stroke="#8c8c8c" stroke-width="1"/>
<line x1="286.5" y1="141.8" x2="288" y2="141.8" stroke="#8c8c8c" stroke-width="1"/>
<line x1="286.5" y1="91.8" x2="288" y2="91.8" stroke="#8c8c8c" stroke-width="1"/>
<line x1="286.5" y1="41.8" x2="288" y2="41.8" stroke="#8c8c8c" stroke-width="1"/>
<line x1="324.4" y1="227.6" x2="324.4" y2="230.1" stroke="#8c8c8c" stroke-width="1"/>
<line x1="360.15" y1="227.6" x2="360.15" y2="230.1" stroke="#8c8c8c" stroke-width="1"/>
<line x1="395.9" y1="227.6" x2="395.9" y2="230.1" stroke="#8c8c8c" stroke-width="1"/>
<line x1="431.65" y1="227.6" x2="431.65" y2="230.1" stroke="#8c8c8c" stroke-width="1"/>
<line x1="467.4" y1="227.6" x2="467.4" y2="230.1" stroke="#8c8c8c" stroke-width="1"/>
<line x1="306.52" y1="227.6" x2="306.52" y2="229.1" stroke="#8c8c8c" stroke-width="1"/>
<line x1="342.27" y1="227.6" x2="342.27" y2="229.1" stroke="#8c8c8c" stroke-width="1"/>
<line x1="378.02" y1="227.6" x2="378.02" y2="229.1" stroke="#8c8c8c" stroke-width="1"/>
<line x1="413.77" y1="227.6" x2="413.77" y2="229.1" stroke="#8c8c8c" stroke-width="1"/>
<line x1="449.52" y1="227.6" x2="449.52" y2="229.1" stroke="#8c8c8c" stroke-width="1"/>
<line x1="485.27" y1="227.6" x2="485.27" y2="229.1" stroke="#8c8c8c" stroke-width="1"/>
<text x="282.5" y="219.6" font-size="8" font-family="Liberation Serif" text-anchor="end" fill="#111" stroke="#111" stroke-width="0.18" >-1</text>
<text x="282.5" y="169.6" font-size="8" font-family="Liberation Serif" text-anchor="end" fill="#111" stroke="#111" stroke-width="0.18" >-0.5</text>
<text x="282.5" y="119.6" font-size="8" font-family="Liberation Serif" text-anchor="end" fill="#111" stroke="#111" stroke-width="0.18" >0</text>
<text x="282.5" y="69.6" font-size="8" font-family="Liberation Serif" text-anchor="end" fill="#111" stroke="#111" stroke-width="0.18" >0.5</text>
<text x="282.5" y="19.6" font-size="8" font-family="Liberation Serif" text-anchor="end" fill="#111" stroke="#111" stroke-width="0.18" >1</text>
<text x="324.4" y="238.8" font-size="8" font-family="Liberation Serif" text-anchor="middle" fill="#111" stroke="#111" stroke-width="0.18" >-1</text>
<text x="360.15" y="238.8" font-size="8" font-family="Liberation Serif" text-anchor="middle" fill="#111" stroke="#111" stroke-width="0.18" >-0.5</text>
<text x="395.9" y="238.8" font-size="8" font-family="Liberation Serif" text-anchor="middle" fill="#111" stroke="#111" stroke-width="0.18" >0</text>
<text x="431.65" y="238.8" font-size="8" font-family="Liberation Serif" text-anchor="middle" fill="#111" stroke="#111" stroke-width="0.18" >0.5</text>
<text x="467.4" y="238.8" font-size="8" font-family="Liberation Serif" text-anchor="middle" fill="#111" stroke="#111" stroke-width="0.18" >1</text>
<text x="287" y="238.8" font-size="8" font-family="Liberation Serif" text-anchor="middle" fill="#111" stroke="#111" stroke-width="0.18" >-1.5</text>
<text x="257.8" y="13.4" font-size="16" font-family="Liberation Serif" text-anchor="start" fill="#111" font-weight="bold" >B</text>
<text x="395.5" y="249" font-size="10" font-family="Liberation Serif" text-anchor="middle" fill="#222" stroke="#111" stroke-width="0.18" >cov(tp,x)</text>
<text x="0" y="0" font-size="9" font-family="Liberation Sans" fill="#111" stroke="#111" stroke-width="0.35" text-anchor="middle" transform="translate(266,117.3) rotate(-90)">cor(tp,x)</text>
<path d="M522 36.1 L523.58 40.72 L528.2 42.3 L523.58 43.88 L522 48.5 L520.42 43.88 L515.8 42.3 L520.42 40.72Z" fill="#0808b8"/>
<text x="534.8" y="47.3" font-size="14" font-family="Liberation Serif" text-anchor="start" fill="#111" stroke="#111" stroke-width="0.18" >aa</text>
<path d="M522 55.66 L523.58 60.28 L528.2 61.86 L523.58 63.44 L522 68.06 L520.42 63.44 L515.8 61.86 L520.42 60.28Z" fill="#6e0a82"/>
<text x="534.8" y="66.86" font-size="14" font-family="Liberation Serif" text-anchor="start" fill="#111" stroke="#111" stroke-width="0.18" >ac</text>
<path d="M522 75.22 L523.58 79.84 L528.2 81.42 L523.58 83 L522 87.62 L520.42 83 L515.8 81.42 L520.42 79.84Z" fill="#ff6a0a"/>
<text x="534.8" y="86.42" font-size="14" font-family="Liberation Serif" text-anchor="start" fill="#111" stroke="#111" stroke-width="0.18" >flav</text>
<path d="M522 94.78 L523.58 99.4 L528.2 100.98 L523.58 102.56 L522 107.18 L520.42 102.56 L515.8 100.98 L520.42 99.4Z" fill="#ffff10"/>
<text x="534.8" y="105.98" font-size="14" font-family="Liberation Serif" text-anchor="start" fill="#111" stroke="#111" stroke-width="0.18" >hb</text>
<path d="M522 114.34 L523.58 118.96 L528.2 120.54 L523.58 122.12 L522 126.74 L520.42 122.12 L515.8 120.54 L520.42 118.96Z" fill="#108a10"/>
<text x="534.8" y="125.54" font-size="14" font-family="Liberation Serif" text-anchor="start" fill="#111" stroke="#111" stroke-width="0.18" >hc</text>
<path d="M522 133.9 L523.58 138.52 L528.2 140.1 L523.58 141.68 L522 146.3 L520.42 141.68 L515.8 140.1 L520.42 138.52Z" fill="#38d8dc"/>
<text x="534.8" y="145.1" font-size="14" font-family="Liberation Serif" text-anchor="start" fill="#111" stroke="#111" stroke-width="0.18" >oa</text>
<path d="M522 153.46 L523.58 158.08 L528.2 159.66 L523.58 161.24 L522 165.86 L520.42 161.24 L515.8 159.66 L520.42 158.08Z" fill="#952f0a"/>
<text x="534.8" y="164.66" font-size="14" font-family="Liberation Serif" text-anchor="start" fill="#111" stroke="#111" stroke-width="0.18" >pr</text>
<path d="M522 173.02 L523.58 177.64 L528.2 179.22 L523.58 180.8 L522 185.42 L520.42 180.8 L515.8 179.22 L520.42 177.64Z" fill="#f00000"/>
<text x="534.8" y="184.22" font-size="14" font-family="Liberation Serif" text-anchor="start" fill="#111" stroke="#111" stroke-width="0.18" >sugar</text>
<path d="M522 192.58 L523.58 197.2 L528.2 198.78 L523.58 200.36 L522 204.98 L520.42 200.36 L515.8 198.78 L520.42 197.2Z" fill="#ff10ff"/>
<text x="534.8" y="203.78" font-size="14" font-family="Liberation Serif" text-anchor="start" fill="#111" stroke="#111" stroke-width="0.18" >stilb</text>
<path d="M522 212.14 L523.58 216.76 L528.2 218.34 L523.58 219.92 L522 224.54 L520.42 219.92 L515.8 218.34 L520.42 216.76Z" fill="#858585"/>
<text x="534.8" y="223.34" font-size="14" font-family="Liberation Serif" text-anchor="start" fill="#111" stroke="#111" stroke-width="0.18" >ui</text>
<line x1="314.9" y1="269" x2="314.9" y2="488.7" stroke="#ebebeb" stroke-width="0.8" stroke-dasharray="1.2,1.2"/>
<line x1="341.8" y1="269" x2="341.8" y2="488.7" stroke="#ebebeb" stroke-width="0.8" stroke-dasharray="1.2,1.2"/>
<line x1="368.7" y1="269" x2="368.7" y2="488.7" stroke="#ebebeb" stroke-width="0.8" stroke-dasharray="1.2,1.2"/>
<line x1="422.5" y1="269" x2="422.5" y2="488.7" stroke="#ebebeb" stroke-width="0.8" stroke-dasharray="1.2,1.2"/>
<line x1="449.4" y1="269" x2="449.4" y2="488.7" stroke="#ebebeb" stroke-width="0.8" stroke-dasharray="1.2,1.2"/>
<line x1="476.3" y1="269" x2="476.3" y2="488.7" stroke="#ebebeb" stroke-width="0.8" stroke-dasharray="1.2,1.2"/>
<line x1="288.5" y1="276.7" x2="502.8" y2="276.7" stroke="#ebebeb" stroke-width="0.8" stroke-dasharray="1.2,1.2"/>
<line x1="288.5" y1="327.1" x2="502.8" y2="327.1" stroke="#ebebeb" stroke-width="0.8" stroke-dasharray="1.2,1.2"/>
<line x1="288.5" y1="427.9" x2="502.8" y2="427.9" stroke="#ebebeb" stroke-width="0.8" stroke-dasharray="1.2,1.2"/>
<line x1="288.5" y1="478.3" x2="502.8" y2="478.3" stroke="#ebebeb" stroke-width="0.8" stroke-dasharray="1.2,1.2"/>
<line x1="395.6" y1="267" x2="395.6" y2="488.7" stroke="#a0a0a0" stroke-width="1.1"/>
<line x1="288.5" y1="377.5" x2="502.8" y2="377.5" stroke="#a0a0a0" stroke-width="1.1"/>
<line x1="288.5" y1="488.7" x2="288.5" y2="273.5" stroke="#8c8c8c" stroke-width="1.1"/>
<path d="M288.5 268.5 L286.3 275.5 L290.7 275.5 Z" fill="#8c8c8c"/>
<line x1="288.5" y1="488.7" x2="497.4" y2="488.7" stroke="#8c8c8c" stroke-width="1.1"/>
<path d="M502.4 488.7 L495.4 486.5 L495.4 490.9 Z" fill="#8c8c8c"/>
<line x1="286" y1="478.3" x2="288.5" y2="478.3" stroke="#8c8c8c" stroke-width="1"/>
<line x1="286" y1="427.9" x2="288.5" y2="427.9" stroke="#8c8c8c" stroke-width="1"/>
<line x1="286" y1="377.5" x2="288.5" y2="377.5" stroke="#8c8c8c" stroke-width="1"/>
<line x1="286" y1="327.1" x2="288.5" y2="327.1" stroke="#8c8c8c" stroke-width="1"/>
<line x1="286" y1="276.7" x2="288.5" y2="276.7" stroke="#8c8c8c" stroke-width="1"/>
<line x1="287" y1="453.1" x2="288.5" y2="453.1" stroke="#8c8c8c" stroke-width="1"/>
<line x1="287" y1="402.7" x2="288.5" y2="402.7" stroke="#8c8c8c" stroke-width="1"/>
<line x1="287" y1="352.3" x2="288.5" y2="352.3" stroke="#8c8c8c" stroke-width="1"/>
<line x1="287" y1="301.9" x2="288.5" y2="301.9" stroke="#8c8c8c" stroke-width="1"/>
<line x1="288" y1="488.7" x2="288" y2="491.2" stroke="#8c8c8c" stroke-width="1"/>
<line x1="314.9" y1="488.7" x2="314.9" y2="491.2" stroke="#8c8c8c" stroke-width="1"/>
<line x1="341.8" y1="488.7" x2="341.8" y2="491.2" stroke="#8c8c8c" stroke-width="1"/>
<line x1="368.7" y1="488.7" x2="368.7" y2="491.2" stroke="#8c8c8c" stroke-width="1"/>
<line x1="395.6" y1="488.7" x2="395.6" y2="491.2" stroke="#8c8c8c" stroke-width="1"/>
<line x1="422.5" y1="488.7" x2="422.5" y2="491.2" stroke="#8c8c8c" stroke-width="1"/>
<line x1="449.4" y1="488.7" x2="449.4" y2="491.2" stroke="#8c8c8c" stroke-width="1"/>
<line x1="476.3" y1="488.7" x2="476.3" y2="491.2" stroke="#8c8c8c" stroke-width="1"/>
<line x1="301.45" y1="488.7" x2="301.45" y2="490.2" stroke="#8c8c8c" stroke-width="1"/>
<line x1="328.35" y1="488.7" x2="328.35" y2="490.2" stroke="#8c8c8c" stroke-width="1"/>
<line x1="355.25" y1="488.7" x2="355.25" y2="490.2" stroke="#8c8c8c" stroke-width="1"/>
<line x1="382.15" y1="488.7" x2="382.15" y2="490.2" stroke="#8c8c8c" stroke-width="1"/>
<line x1="409.05" y1="488.7" x2="409.05" y2="490.2" stroke="#8c8c8c" stroke-width="1"/>
<line x1="435.95" y1="488.7" x2="435.95" y2="490.2" stroke="#8c8c8c" stroke-width="1"/>
<line x1="462.85" y1="488.7" x2="462.85" y2="490.2" stroke="#8c8c8c" stroke-width="1"/>
<line x1="489.75" y1="488.7" x2="489.75" y2="490.2" stroke="#8c8c8c" stroke-width="1"/>
<text x="282.5" y="481.1" font-size="8" font-family="Liberation Serif" text-anchor="end" fill="#111" stroke="#111" stroke-width="0.18" >-1</text>
<text x="282.5" y="430.7" font-size="8" font-family="Liberation Serif" text-anchor="end" fill="#111" stroke="#111" stroke-width="0.18" >-0.5</text>
<text x="282.5" y="380.3" font-size="8" font-family="Liberation Serif" text-anchor="end" fill="#111" stroke="#111" stroke-width="0.18" >0</text>
<text x="282.5" y="329.9" font-size="8" font-family="Liberation Serif" text-anchor="end" fill="#111" stroke="#111" stroke-width="0.18" >0.5</text>
<text x="282.5" y="279.5" font-size="8" font-family="Liberation Serif" text-anchor="end" fill="#111" stroke="#111" stroke-width="0.18" >1</text>
<text x="288" y="499" font-size="8" font-family="Liberation Serif" text-anchor="middle" fill="#111" stroke="#111" stroke-width="0.18" >-2</text>
<text x="314.9" y="499" font-size="8" font-family="Liberation Serif" text-anchor="middle" fill="#111" stroke="#111" stroke-width="0.18" >-1.5</text>
<text x="341.8" y="499" font-size="8" font-family="Liberation Serif" text-anchor="middle" fill="#111" stroke="#111" stroke-width="0.18" >-1</text>
<text x="368.7" y="499" font-size="8" font-family="Liberation Serif" text-anchor="middle" fill="#111" stroke="#111" stroke-width="0.18" >-0.5</text>
<text x="395.6" y="499" font-size="8" font-family="Liberation Serif" text-anchor="middle" fill="#111" stroke="#111" stroke-width="0.18" >0</text>
<text x="422.5" y="499" font-size="8" font-family="Liberation Serif" text-anchor="middle" fill="#111" stroke="#111" stroke-width="0.18" >0.5</text>
<text x="449.4" y="499" font-size="8" font-family="Liberation Serif" text-anchor="middle" fill="#111" stroke="#111" stroke-width="0.18" >1</text>
<text x="476.3" y="499" font-size="8" font-family="Liberation Serif" text-anchor="middle" fill="#111" stroke="#111" stroke-width="0.18" >1.5</text>
<text x="256.3" y="274.7" font-size="16" font-family="Liberation Serif" text-anchor="start" fill="#111" font-weight="bold" >D</text>
<text x="395.5" y="509.5" font-size="10" font-family="Liberation Serif" text-anchor="middle" fill="#222" stroke="#111" stroke-width="0.18" >cov(tp,x)</text>
<text x="0" y="0" font-size="9" font-family="Liberation Sans" fill="#111" stroke="#111" stroke-width="0.35" text-anchor="middle" transform="translate(266,378.5) rotate(-90)">cor(tp,x)</text>
<path d="M522 296.9 L523.58 301.52 L528.2 303.1 L523.58 304.68 L522 309.3 L520.42 304.68 L515.8 303.1 L520.42 301.52Z" fill="#0808b8"/>
<text x="534.8" y="308.1" font-size="14" font-family="Liberation Serif" text-anchor="start" fill="#111" stroke="#111" stroke-width="0.18" >aa</text>
<path d="M522 316.46 L523.58 321.08 L528.2 322.66 L523.58 324.24 L522 328.86 L520.42 324.24 L515.8 322.66 L520.42 321.08Z" fill="#6e0a82"/>
<text x="534.8" y="327.66" font-size="14" font-family="Liberation Serif" text-anchor="start" fill="#111" stroke="#111" stroke-width="0.18" >ac</text>
<path d="M522 336.02 L523.58 340.64 L528.2 342.22 L523.58 343.8 L522 348.42 L520.42 343.8 L515.8 342.22 L520.42 340.64Z" fill="#ff6a0a"/>
<text x="534.8" y="347.22" font-size="14" font-family="Liberation Serif" text-anchor="start" fill="#111" stroke="#111" stroke-width="0.18" >flav</text>
<path d="M522 355.58 L523.58 360.2 L528.2 361.78 L523.58 363.36 L522 367.98 L520.42 363.36 L515.8 361.78 L520.42 360.2Z" fill="#ffff10"/>
<text x="534.8" y="366.78" font-size="14" font-family="Liberation Serif" text-anchor="start" fill="#111" stroke="#111" stroke-width="0.18" >hb</text>
<path d="M522 375.14 L523.58 379.76 L528.2 381.34 L523.58 382.92 L522 387.54 L520.42 382.92 L515.8 381.34 L520.42 379.76Z" fill="#108a10"/>
<text x="534.8" y="386.34" font-size="14" font-family="Liberation Serif" text-anchor="start" fill="#111" stroke="#111" stroke-width="0.18" >hc</text>
<path d="M522 394.7 L523.58 399.32 L528.2 400.9 L523.58 402.48 L522 407.1 L520.42 402.48 L515.8 400.9 L520.42 399.32Z" fill="#38d8dc"/>
<text x="534.8" y="405.9" font-size="14" font-family="Liberation Serif" text-anchor="start" fill="#111" stroke="#111" stroke-width="0.18" >oa</text>
<path d="M522 414.26 L523.58 418.88 L528.2 420.46 L523.58 422.04 L522 426.66 L520.42 422.04 L515.8 420.46 L520.42 418.88Z" fill="#952f0a"/>
<text x="534.8" y="425.46" font-size="14" font-family="Liberation Serif" text-anchor="start" fill="#111" stroke="#111" stroke-width="0.18" >pr</text>
<path d="M522 433.82 L523.58 438.44 L528.2 440.02 L523.58 441.6 L522 446.22 L520.42 441.6 L515.8 440.02 L520.42 438.44Z" fill="#f00000"/>
<text x="534.8" y="445.02" font-size="14" font-family="Liberation Serif" text-anchor="start" fill="#111" stroke="#111" stroke-width="0.18" >sugar</text>
<path d="M522 453.38 L523.58 458 L528.2 459.58 L523.58 461.16 L522 465.78 L520.42 461.16 L515.8 459.58 L520.42 458Z" fill="#ff10ff"/>
<text x="534.8" y="464.58" font-size="14" font-family="Liberation Serif" text-anchor="start" fill="#111" stroke="#111" stroke-width="0.18" >stilb</text>
<path d="M522 472.94 L523.58 477.56 L528.2 479.14 L523.58 480.72 L522 485.34 L520.42 480.72 L515.8 479.14 L520.42 477.56Z" fill="#858585"/>
<text x="534.8" y="484.14" font-size="14" font-family="Liberation Serif" text-anchor="start" fill="#111" stroke="#111" stroke-width="0.18" >ui</text>
<line x1="309.01" y1="527" x2="309.01" y2="747.5" stroke="#ebebeb" stroke-width="0.8" stroke-dasharray="1.2,1.2"/>
<line x1="329.52" y1="527" x2="329.52" y2="747.5" stroke="#ebebeb" stroke-width="0.8" stroke-dasharray="1.2,1.2"/>
<line x1="350.03" y1="527" x2="350.03" y2="747.5" stroke="#ebebeb" stroke-width="0.8" stroke-dasharray="1.2,1.2"/>
<line x1="370.54" y1="527" x2="370.54" y2="747.5" stroke="#ebebeb" stroke-width="0.8" stroke-dasharray="1.2,1.2"/>
<line x1="411.56" y1="527" x2="411.56" y2="747.5" stroke="#ebebeb" stroke-width="0.8" stroke-dasharray="1.2,1.2"/>
<line x1="432.07" y1="527" x2="432.07" y2="747.5" stroke="#ebebeb" stroke-width="0.8" stroke-dasharray="1.2,1.2"/>
<line x1="452.58" y1="527" x2="452.58" y2="747.5" stroke="#ebebeb" stroke-width="0.8" stroke-dasharray="1.2,1.2"/>
<line x1="473.09" y1="527" x2="473.09" y2="747.5" stroke="#ebebeb" stroke-width="0.8" stroke-dasharray="1.2,1.2"/>
<line x1="493.6" y1="527" x2="493.6" y2="747.5" stroke="#ebebeb" stroke-width="0.8" stroke-dasharray="1.2,1.2"/>
<line x1="288.5" y1="536.5" x2="503.8" y2="536.5" stroke="#ebebeb" stroke-width="0.8" stroke-dasharray="1.2,1.2"/>
<line x1="288.5" y1="557.6" x2="503.8" y2="557.6" stroke="#ebebeb" stroke-width="0.8" stroke-dasharray="1.2,1.2"/>
<line x1="288.5" y1="578.7" x2="503.8" y2="578.7" stroke="#ebebeb" stroke-width="0.8" stroke-dasharray="1.2,1.2"/>
<line x1="288.5" y1="599.8" x2="503.8" y2="599.8" stroke="#ebebeb" stroke-width="0.8" stroke-dasharray="1.2,1.2"/>
<line x1="288.5" y1="620.9" x2="503.8" y2="620.9" stroke="#ebebeb" stroke-width="0.8" stroke-dasharray="1.2,1.2"/>
<line x1="288.5" y1="663.1" x2="503.8" y2="663.1" stroke="#ebebeb" stroke-width="0.8" stroke-dasharray="1.2,1.2"/>
<line x1="288.5" y1="684.2" x2="503.8" y2="684.2" stroke="#ebebeb" stroke-width="0.8" stroke-dasharray="1.2,1.2"/>
<line x1="288.5" y1="705.3" x2="503.8" y2="705.3" stroke="#ebebeb" stroke-width="0.8" stroke-dasharray="1.2,1.2"/>
<line x1="288.5" y1="726.4" x2="503.8" y2="726.4" stroke="#ebebeb" stroke-width="0.8" stroke-dasharray="1.2,1.2"/>
<line x1="391.05" y1="525" x2="391.05" y2="747.5" stroke="#a0a0a0" stroke-width="1.1"/>
<line x1="288.5" y1="642" x2="503.8" y2="642" stroke="#a0a0a0" stroke-width="1.1"/>
<line x1="288.5" y1="747.5" x2="288.5" y2="532.3" stroke="#8c8c8c" stroke-width="1.1"/>
<path d="M288.5 527.3 L286.3 534.3 L290.7 534.3 Z" fill="#8c8c8c"/>
<line x1="288.5" y1="747.5" x2="497.4" y2="747.5" stroke="#8c8c8c" stroke-width="1.1"/>
<path d="M502.4 747.5 L495.4 745.3 L495.4 749.7 Z" fill="#8c8c8c"/>
<line x1="286" y1="747.5" x2="288.5" y2="747.5" stroke="#8c8c8c" stroke-width="1"/>
<line x1="286" y1="726.4" x2="288.5" y2="726.4" stroke="#8c8c8c" stroke-width="1"/>
<line x1="286" y1="705.3" x2="288.5" y2="705.3" stroke="#8c8c8c" stroke-width="1"/>
<line x1="286" y1="684.2" x2="288.5" y2="684.2" stroke="#8c8c8c" stroke-width="1"/>
<line x1="286" y1="663.1" x2="288.5" y2="663.1" stroke="#8c8c8c" stroke-width="1"/>
<line x1="286" y1="642" x2="288.5" y2="642" stroke="#8c8c8c" stroke-width="1"/>
<line x1="286" y1="620.9" x2="288.5" y2="620.9" stroke="#8c8c8c" stroke-width="1"/>
<line x1="286" y1="599.8" x2="288.5" y2="599.8" stroke="#8c8c8c" stroke-width="1"/>
<line x1="286" y1="578.7" x2="288.5" y2="578.7" stroke="#8c8c8c" stroke-width="1"/>
<line x1="286" y1="557.6" x2="288.5" y2="557.6" stroke="#8c8c8c" stroke-width="1"/>
<line x1="286" y1="536.5" x2="288.5" y2="536.5" stroke="#8c8c8c" stroke-width="1"/>
<line x1="287" y1="736.95" x2="288.5" y2="736.95" stroke="#8c8c8c" stroke-width="1"/>
<line x1="287" y1="715.85" x2="288.5" y2="715.85" stroke="#8c8c8c" stroke-width="1"/>
<line x1="287" y1="694.75" x2="288.5" y2="694.75" stroke="#8c8c8c" stroke-width="1"/>
<line x1="287" y1="673.65" x2="288.5" y2="673.65" stroke="#8c8c8c" stroke-width="1"/>
<line x1="287" y1="652.55" x2="288.5" y2="652.55" stroke="#8c8c8c" stroke-width="1"/>
<line x1="287" y1="631.45" x2="288.5" y2="631.45" stroke="#8c8c8c" stroke-width="1"/>
<line x1="287" y1="610.35" x2="288.5" y2="610.35" stroke="#8c8c8c" stroke-width="1"/>
<line x1="287" y1="589.25" x2="288.5" y2="589.25" stroke="#8c8c8c" stroke-width="1"/>
<line x1="287" y1="568.15" x2="288.5" y2="568.15" stroke="#8c8c8c" stroke-width="1"/>
<line x1="287" y1="547.05" x2="288.5" y2="547.05" stroke="#8c8c8c" stroke-width="1"/>
<line x1="288.5" y1="747.5" x2="288.5" y2="750" stroke="#8c8c8c" stroke-width="1"/>
<line x1="309.01" y1="747.5" x2="309.01" y2="750" stroke="#8c8c8c" stroke-width="1"/>
<line x1="329.52" y1="747.5" x2="329.52" y2="750" stroke="#8c8c8c" stroke-width="1"/>
<line x1="350.03" y1="747.5" x2="350.03" y2="750" stroke="#8c8c8c" stroke-width="1"/>
<line x1="370.54" y1="747.5" x2="370.54" y2="750" stroke="#8c8c8c" stroke-width="1"/>
<line x1="391.05" y1="747.5" x2="391.05" y2="750" stroke="#8c8c8c" stroke-width="1"/>
<line x1="411.56" y1="747.5" x2="411.56" y2="750" stroke="#8c8c8c" stroke-width="1"/>
<line x1="432.07" y1="747.5" x2="432.07" y2="750" stroke="#8c8c8c" stroke-width="1"/>
<line x1="452.58" y1="747.5" x2="452.58" y2="750" stroke="#8c8c8c" stroke-width="1"/>
<line x1="473.09" y1="747.5" x2="473.09" y2="750" stroke="#8c8c8c" stroke-width="1"/>
<line x1="493.6" y1="747.5" x2="493.6" y2="750" stroke="#8c8c8c" stroke-width="1"/>
<line x1="298.75" y1="747.5" x2="298.75" y2="749" stroke="#8c8c8c" stroke-width="1"/>
<line x1="319.26" y1="747.5" x2="319.26" y2="749" stroke="#8c8c8c" stroke-width="1"/>
<line x1="339.78" y1="747.5" x2="339.78" y2="749" stroke="#8c8c8c" stroke-width="1"/>
<line x1="360.29" y1="747.5" x2="360.29" y2="749" stroke="#8c8c8c" stroke-width="1"/>
<line x1="380.8" y1="747.5" x2="380.8" y2="749" stroke="#8c8c8c" stroke-width="1"/>
<line x1="401.31" y1="747.5" x2="401.31" y2="749" stroke="#8c8c8c" stroke-width="1"/>
<line x1="421.81" y1="747.5" x2="421.81" y2="749" stroke="#8c8c8c" stroke-width="1"/>
<line x1="442.32" y1="747.5" x2="442.32" y2="749" stroke="#8c8c8c" stroke-width="1"/>
<line x1="462.84" y1="747.5" x2="462.84" y2="749" stroke="#8c8c8c" stroke-width="1"/>
<line x1="483.35" y1="747.5" x2="483.35" y2="749" stroke="#8c8c8c" stroke-width="1"/>
<text x="283.9" y="750.3" font-size="8.5" font-family="Liberation Serif" text-anchor="end" fill="#111" stroke="#111" stroke-width="0.18" >-1</text>
<text x="283.9" y="729.2" font-size="8.5" font-family="Liberation Serif" text-anchor="end" fill="#111" stroke="#111" stroke-width="0.18" >-0.8</text>
<text x="283.9" y="708.1" font-size="8.5" font-family="Liberation Serif" text-anchor="end" fill="#111" stroke="#111" stroke-width="0.18" >-0.6</text>
<text x="283.9" y="687" font-size="8.5" font-family="Liberation Serif" text-anchor="end" fill="#111" stroke="#111" stroke-width="0.18" >-0.4</text>
<text x="283.9" y="665.9" font-size="8.5" font-family="Liberation Serif" text-anchor="end" fill="#111" stroke="#111" stroke-width="0.18" >-0.2</text>
<text x="283.9" y="644.8" font-size="8.5" font-family="Liberation Serif" text-anchor="end" fill="#111" stroke="#111" stroke-width="0.18" >0</text>
<text x="283.9" y="623.7" font-size="8.5" font-family="Liberation Serif" text-anchor="end" fill="#111" stroke="#111" stroke-width="0.18" >0.2</text>
<text x="283.9" y="602.6" font-size="8.5" font-family="Liberation Serif" text-anchor="end" fill="#111" stroke="#111" stroke-width="0.18" >0.4</text>
<text x="283.9" y="581.5" font-size="8.5" font-family="Liberation Serif" text-anchor="end" fill="#111" stroke="#111" stroke-width="0.18" >0.6</text>
<text x="283.9" y="560.4" font-size="8.5" font-family="Liberation Serif" text-anchor="end" fill="#111" stroke="#111" stroke-width="0.18" >0.8</text>
<text x="283.9" y="539.3" font-size="8.5" font-family="Liberation Serif" text-anchor="end" fill="#111" stroke="#111" stroke-width="0.18" >1</text>
<text x="288.5" y="759" font-size="8.5" font-family="Liberation Serif" text-anchor="middle" fill="#111" stroke="#111" stroke-width="0.18" >-1</text>
<text x="309.01" y="759" font-size="8.5" font-family="Liberation Serif" text-anchor="middle" fill="#111" stroke="#111" stroke-width="0.18" >-0.8</text>
<text x="329.52" y="759" font-size="8.5" font-family="Liberation Serif" text-anchor="middle" fill="#111" stroke="#111" stroke-width="0.18" >-0.6</text>
<text x="350.03" y="759" font-size="8.5" font-family="Liberation Serif" text-anchor="middle" fill="#111" stroke="#111" stroke-width="0.18" >-0.4</text>
<text x="370.54" y="759" font-size="8.5" font-family="Liberation Serif" text-anchor="middle" fill="#111" stroke="#111" stroke-width="0.18" >-0.2</text>
<text x="391.05" y="759" font-size="8.5" font-family="Liberation Serif" text-anchor="middle" fill="#111" stroke="#111" stroke-width="0.18" >0</text>
<text x="411.56" y="759" font-size="8.5" font-family="Liberation Serif" text-anchor="middle" fill="#111" stroke="#111" stroke-width="0.18" >0.2</text>
<text x="432.07" y="759" font-size="8.5" font-family="Liberation Serif" text-anchor="middle" fill="#111" stroke="#111" stroke-width="0.18" >0.4</text>
<text x="452.58" y="759" font-size="8.5" font-family="Liberation Serif" text-anchor="middle" fill="#111" stroke="#111" stroke-width="0.18" >0.6</text>
<text x="473.09" y="759" font-size="8.5" font-family="Liberation Serif" text-anchor="middle" fill="#111" stroke="#111" stroke-width="0.18" >0.8</text>
<text x="493.6" y="759" font-size="8.5" font-family="Liberation Serif" text-anchor="middle" fill="#111" stroke="#111" stroke-width="0.18" >1</text>
<ellipse cx="391.05" cy="642" rx="102.55" ry="105.5" fill="none" stroke="#999" stroke-width="1"/>
<text x="260.4" y="530.1" font-size="16" font-family="Liberation Serif" text-anchor="start" fill="#111" font-weight="bold" >F</text>
<text x="390" y="770" font-size="10" font-family="Liberation Serif" text-anchor="middle" fill="#222" stroke="#111" stroke-width="0.18" >pc(corr)[1]</text>
<text x="0" y="0" font-size="9" font-family="Liberation Sans" fill="#111" stroke="#111" stroke-width="0.35" text-anchor="middle" transform="translate(267.5,637) rotate(-90)">pc(corr)[2]</text>
<path d="M522 555.7 L523.58 560.32 L528.2 561.9 L523.58 563.48 L522 568.1 L520.42 563.48 L515.8 561.9 L520.42 560.32Z" fill="#0808b8"/>
<text x="534.8" y="566.9" font-size="14" font-family="Liberation Serif" text-anchor="start" fill="#111" stroke="#111" stroke-width="0.18" >aa</text>
<path d="M522 575.23 L523.58 579.85 L528.2 581.43 L523.58 583.01 L522 587.63 L520.42 583.01 L515.8 581.43 L520.42 579.85Z" fill="#6e0a82"/>
<text x="534.8" y="586.43" font-size="14" font-family="Liberation Serif" text-anchor="start" fill="#111" stroke="#111" stroke-width="0.18" >ac</text>
<path d="M522 594.76 L523.58 599.38 L528.2 600.96 L523.58 602.54 L522 607.16 L520.42 602.54 L515.8 600.96 L520.42 599.38Z" fill="#ff6a0a"/>
<text x="534.8" y="605.96" font-size="14" font-family="Liberation Serif" text-anchor="start" fill="#111" stroke="#111" stroke-width="0.18" >flav</text>
<path d="M522 614.29 L523.58 618.91 L528.2 620.49 L523.58 622.07 L522 626.69 L520.42 622.07 L515.8 620.49 L520.42 618.91Z" fill="#ffff10"/>
<text x="534.8" y="625.49" font-size="14" font-family="Liberation Serif" text-anchor="start" fill="#111" stroke="#111" stroke-width="0.18" >hb</text>
<path d="M522 633.82 L523.58 638.44 L528.2 640.02 L523.58 641.6 L522 646.22 L520.42 641.6 L515.8 640.02 L520.42 638.44Z" fill="#108a10"/>
<text x="534.8" y="645.02" font-size="14" font-family="Liberation Serif" text-anchor="start" fill="#111" stroke="#111" stroke-width="0.18" >hc</text>
<path d="M522 653.35 L523.58 657.97 L528.2 659.55 L523.58 661.13 L522 665.75 L520.42 661.13 L515.8 659.55 L520.42 657.97Z" fill="#38d8dc"/>
<text x="534.8" y="664.55" font-size="14" font-family="Liberation Serif" text-anchor="start" fill="#111" stroke="#111" stroke-width="0.18" >oa</text>
<path d="M522 672.88 L523.58 677.5 L528.2 679.08 L523.58 680.66 L522 685.28 L520.42 680.66 L515.8 679.08 L520.42 677.5Z" fill="#952f0a"/>
<text x="534.8" y="684.08" font-size="14" font-family="Liberation Serif" text-anchor="start" fill="#111" stroke="#111" stroke-width="0.18" >pr</text>
<path d="M522 692.41 L523.58 697.03 L528.2 698.61 L523.58 700.19 L522 704.81 L520.42 700.19 L515.8 698.61 L520.42 697.03Z" fill="#f00000"/>
<text x="534.8" y="703.61" font-size="14" font-family="Liberation Serif" text-anchor="start" fill="#111" stroke="#111" stroke-width="0.18" >sugar</text>
<path d="M522 711.94 L523.58 716.56 L528.2 718.14 L523.58 719.72 L522 724.34 L520.42 719.72 L515.8 718.14 L520.42 716.56Z" fill="#ff10ff"/>
<text x="534.8" y="723.14" font-size="14" font-family="Liberation Serif" text-anchor="start" fill="#111" stroke="#111" stroke-width="0.18" >stilb</text>
<path d="M522 731.47 L523.58 736.09 L528.2 737.67 L523.58 739.25 L522 743.87 L520.42 739.25 L515.8 737.67 L520.42 736.09Z" fill="#858585"/>
<text x="534.8" y="742.67" font-size="14" font-family="Liberation Serif" text-anchor="start" fill="#111" stroke="#111" stroke-width="0.18" >ui</text>
<path d="M407.4 76.8 L408.72 80.28 L412.2 81.6 L408.72 82.92 L407.4 86.4 L406.08 82.92 L402.6 81.6 L406.08 80.28Z" fill="#6e0a82"/>
<path d="M413.8 76.3 L415.12 79.78 L418.6 81.1 L415.12 82.42 L413.8 85.9 L412.48 82.42 L409 81.1 L412.48 79.78Z" fill="#6e0a82"/>
<path d="M412.2 73.6 L413.52 77.08 L417 78.4 L413.52 79.72 L412.2 83.2 L410.88 79.72 L407.4 78.4 L410.88 77.08Z" fill="#952f0a"/>
<path d="M414.4 93.7 L415.72 97.18 L419.2 98.5 L415.72 99.82 L414.4 103.3 L413.08 99.82 L409.6 98.5 L413.08 97.18Z" fill="#ff10ff"/>
<path d="M417 95.8 L418.32 99.28 L421.8 100.6 L418.32 101.92 L417 105.4 L415.68 101.92 L412.2 100.6 L415.68 99.28Z" fill="#952f0a"/>
<path d="M417.6 85.2 L418.92 88.68 L422.4 90 L418.92 91.32 L417.6 94.8 L416.28 91.32 L412.8 90 L416.28 88.68Z" fill="#ff10ff"/>
<path d="M412.8 84.7 L414.12 88.18 L417.6 89.5 L414.12 90.82 L412.8 94.3 L411.48 90.82 L408 89.5 L411.48 88.18Z" fill="#6e0a82"/>
<path d="M408 76.8 L409.32 80.28 L412.8 81.6 L409.32 82.92 L408 86.4 L406.68 82.92 L403.2 81.6 L406.68 80.28Z" fill="#6e0a82"/>
<path d="M399.6 87.9 L400.92 91.38 L404.4 92.7 L400.92 94.02 L399.6 97.5 L398.28 94.02 L394.8 92.7 L398.28 91.38Z" fill="#6e0a82"/>
<path d="M400.1 94.8 L401.42 98.28 L404.9 99.6 L401.42 100.92 L400.1 104.4 L398.78 100.92 L395.3 99.6 L398.78 98.28Z" fill="#6e0a82"/>
<path d="M408.6 89 L409.92 92.48 L413.4 93.8 L409.92 95.12 L408.6 98.6 L407.28 95.12 L403.8 93.8 L407.28 92.48Z" fill="#6e0a82"/>
<path d="M398.8 87.5 L400.12 90.98 L403.6 92.3 L400.12 93.62 L398.8 97.1 L397.48 93.62 L394 92.3 L397.48 90.98Z" fill="#6e0a82"/>
<path d="M400.6 92.8 L401.92 96.28 L405.4 97.6 L401.92 98.92 L400.6 102.4 L399.28 98.92 L395.8 97.6 L399.28 96.28Z" fill="#6e0a82"/>
<path d="M399.6 94.8 L400.92 98.28 L404.4 99.6 L400.92 100.92 L399.6 104.4 L398.28 100.92 L394.8 99.6 L398.28 98.28Z" fill="#6e0a82"/>
<path d="M398.9 101.5 L400.22 104.98 L403.7 106.3 L400.22 107.62 L398.9 111.1 L397.58 107.62 L394.1 106.3 L397.58 104.98Z" fill="#6e0a82"/>
<path d="M394.7 106.4 L396.02 109.88 L399.5 111.2 L396.02 112.52 L394.7 116 L393.38 112.52 L389.9 111.2 L393.38 109.88Z" fill="#6e0a82"/>
<path d="M393.3 112.8 L394.62 116.28 L398.1 117.6 L394.62 118.92 L393.3 122.4 L391.98 118.92 L388.5 117.6 L391.98 116.28Z" fill="#6e0a82"/>
<path d="M396.4 106.9 L397.72 110.38 L401.2 111.7 L397.72 113.02 L396.4 116.5 L395.08 113.02 L391.6 111.7 L395.08 110.38Z" fill="#6e0a82"/>
<path d="M393.8 111.2 L395.12 114.68 L398.6 116 L395.12 117.32 L393.8 120.8 L392.48 117.32 L389 116 L392.48 114.68Z" fill="#6e0a82"/>
<path d="M392.2 115.4 L393.52 118.88 L397 120.2 L393.52 121.52 L392.2 125 L390.88 121.52 L387.4 120.2 L390.88 118.88Z" fill="#6e0a82"/>
<path d="M388.5 117.5 L389.82 120.98 L393.3 122.3 L389.82 123.62 L388.5 127.1 L387.18 123.62 L383.7 122.3 L387.18 120.98Z" fill="#6e0a82"/>
<path d="M401.7 104.3 L403.02 107.78 L406.5 109.1 L403.02 110.42 L401.7 113.9 L400.38 110.42 L396.9 109.1 L400.38 107.78Z" fill="#ff10ff"/>
<path d="M408.1 100.8 L409.42 104.28 L412.9 105.6 L409.42 106.92 L408.1 110.4 L406.78 106.92 L403.3 105.6 L406.78 104.28Z" fill="#ff10ff"/>
<path d="M386.2 118.4 L387.52 121.88 L391 123.2 L387.52 124.52 L386.2 128 L384.88 124.52 L381.4 123.2 L384.88 121.88Z" fill="#ff10ff"/>
<path d="M402.8 103.8 L404.12 107.28 L407.6 108.6 L404.12 109.92 L402.8 113.4 L401.48 109.92 L398 108.6 L401.48 107.28Z" fill="#ff10ff"/>
<path d="M401.2 108 L402.52 111.48 L406 112.8 L402.52 114.12 L401.2 117.6 L399.88 114.12 L396.4 112.8 L399.88 111.48Z" fill="#ff10ff"/>
<path d="M407.5 100.6 L408.82 104.08 L412.3 105.4 L408.82 106.72 L407.5 110.2 L406.18 106.72 L402.7 105.4 L406.18 104.08Z" fill="#ff10ff"/>
<path d="M386.6 117.3 L387.92 120.78 L391.4 122.1 L387.92 123.42 L386.6 126.9 L385.28 123.42 L381.8 122.1 L385.28 120.78Z" fill="#6e0a82"/>
<path d="M411.8 83.7 L413.12 87.18 L416.6 88.5 L413.12 89.82 L411.8 93.3 L410.48 89.82 L407 88.5 L410.48 87.18Z" fill="#6e0a82"/>
<path d="M371.3 133.5 L372.62 136.98 L376.1 138.3 L372.62 139.62 L371.3 143.1 L369.98 139.62 L366.5 138.3 L369.98 136.98Z" fill="#952f0a"/>
<path d="M392.5 135 L393.82 138.48 L397.3 139.8 L393.82 141.12 L392.5 144.6 L391.18 141.12 L387.7 139.8 L391.18 138.48Z" fill="#952f0a"/>
<path d="M373.4 141.3 L374.72 144.78 L378.2 146.1 L374.72 147.42 L373.4 150.9 L372.08 147.42 L368.6 146.1 L372.08 144.78Z" fill="#952f0a"/>
<path d="M377.6 139 L378.92 142.48 L382.4 143.8 L378.92 145.12 L377.6 148.6 L376.28 145.12 L372.8 143.8 L376.28 142.48Z" fill="#30e0e8"/>
<path d="M369.6 143.2 L370.92 146.68 L374.4 148 L370.92 149.32 L369.6 152.8 L368.28 149.32 L364.8 148 L368.28 146.68Z" fill="#ff6a0a"/>
<path d="M383.9 148 L385.22 151.48 L388.7 152.8 L385.22 154.12 L383.9 157.6 L382.58 154.12 L379.1 152.8 L382.58 151.48Z" fill="#6e0a82"/>
<path d="M373.9 149.1 L375.22 152.58 L378.7 153.9 L375.22 155.22 L373.9 158.7 L372.58 155.22 L369.1 153.9 L372.58 152.58Z" fill="#ff10ff"/>
<path d="M428 42.5 L428.88 44.72 L431.1 45.6 L428.88 46.48 L428 48.7 L427.12 46.48 L424.9 45.6 L427.12 44.72Z" fill="#9c9c9c"/>
<path d="M441.3 47.1 L442.18 49.32 L444.4 50.2 L442.18 51.08 L441.3 53.3 L440.42 51.08 L438.2 50.2 L440.42 49.32Z" fill="#9c9c9c"/>
<path d="M427.5 54.2 L428.38 56.42 L430.6 57.3 L428.38 58.18 L427.5 60.4 L426.62 58.18 L424.4 57.3 L426.62 56.42Z" fill="#9c9c9c"/>
<path d="M428 58.9 L428.88 61.12 L431.1 62 L428.88 62.88 L428 65.1 L427.12 62.88 L424.9 62 L427.12 61.12Z" fill="#9c9c9c"/>
<path d="M414.8 61.6 L415.68 63.82 L417.9 64.7 L415.68 65.58 L414.8 67.8 L413.92 65.58 L411.7 64.7 L413.92 63.82Z" fill="#9c9c9c"/>
<path d="M411.1 62.1 L411.98 64.32 L414.2 65.2 L411.98 66.08 L411.1 68.3 L410.22 66.08 L408 65.2 L410.22 64.32Z" fill="#9c9c9c"/>
<path d="M439.2 58.4 L440.08 60.62 L442.3 61.5 L440.08 62.38 L439.2 64.6 L438.32 62.38 L436.1 61.5 L438.32 60.62Z" fill="#9c9c9c"/>
<path d="M438.1 62.1 L438.98 64.32 L441.2 65.2 L438.98 66.08 L438.1 68.3 L437.22 66.08 L435 65.2 L437.22 64.32Z" fill="#9c9c9c"/>
<path d="M427.5 67.4 L428.38 69.62 L430.6 70.5 L428.38 71.38 L427.5 73.6 L426.62 71.38 L424.4 70.5 L426.62 69.62Z" fill="#9c9c9c"/>
<path d="M430.7 66.3 L431.58 68.52 L433.8 69.4 L431.58 70.28 L430.7 72.5 L429.82 70.28 L427.6 69.4 L429.82 68.52Z" fill="#9c9c9c"/>
<path d="M433.9 73.2 L434.78 75.42 L437 76.3 L434.78 77.18 L433.9 79.4 L433.02 77.18 L430.8 76.3 L433.02 75.42Z" fill="#9c9c9c"/>
<path d="M415.9 74.8 L416.78 77.02 L419 77.9 L416.78 78.78 L415.9 81 L415.02 78.78 L412.8 77.9 L415.02 77.02Z" fill="#9c9c9c"/>
<path d="M422.8 75.9 L423.68 78.12 L425.9 79 L423.68 79.88 L422.8 82.1 L421.92 79.88 L419.7 79 L421.92 78.12Z" fill="#9c9c9c"/>
<path d="M425.9 79 L426.78 81.22 L429 82.1 L426.78 82.98 L425.9 85.2 L425.02 82.98 L422.8 82.1 L425.02 81.22Z" fill="#9c9c9c"/>
<path d="M419 79 L419.88 81.22 L422.1 82.1 L419.88 82.98 L419 85.2 L418.12 82.98 L415.9 82.1 L418.12 81.22Z" fill="#9c9c9c"/>
<path d="M428.7 84.3 L429.58 86.52 L431.8 87.4 L429.58 88.28 L428.7 90.5 L427.82 88.28 L425.6 87.4 L427.82 86.52Z" fill="#9c9c9c"/>
<path d="M425.5 79 L426.38 81.22 L428.6 82.1 L426.38 82.98 L425.5 85.2 L424.62 82.98 L422.4 82.1 L424.62 81.22Z" fill="#9c9c9c"/>
<path d="M401.2 82.7 L402.08 84.92 L404.3 85.8 L402.08 86.68 L401.2 88.9 L400.32 86.68 L398.1 85.8 L400.32 84.92Z" fill="#9c9c9c"/>
<path d="M405.4 81.1 L406.28 83.32 L408.5 84.2 L406.28 85.08 L405.4 87.3 L404.52 85.08 L402.3 84.2 L404.52 83.32Z" fill="#9c9c9c"/>
<path d="M403.8 89.6 L404.68 91.82 L406.9 92.7 L404.68 93.58 L403.8 95.8 L402.92 93.58 L400.7 92.7 L402.92 91.82Z" fill="#9c9c9c"/>
<path d="M405.4 92.8 L406.28 95.02 L408.5 95.9 L406.28 96.78 L405.4 99 L404.52 96.78 L402.3 95.9 L404.52 95.02Z" fill="#9c9c9c"/>
<path d="M403.3 95.9 L404.18 98.12 L406.4 99 L404.18 99.88 L403.3 102.1 L402.42 99.88 L400.2 99 L402.42 98.12Z" fill="#9c9c9c"/>
<path d="M411.7 99.7 L412.58 101.92 L414.8 102.8 L412.58 103.68 L411.7 105.9 L410.82 103.68 L408.6 102.8 L410.82 101.92Z" fill="#9c9c9c"/>
<path d="M416 82.2 L416.88 84.42 L419.1 85.3 L416.88 86.18 L416 88.4 L415.12 86.18 L412.9 85.3 L415.12 84.42Z" fill="#9c9c9c"/>
<path d="M420.2 81.1 L421.08 83.32 L423.3 84.2 L421.08 85.08 L420.2 87.3 L419.32 85.08 L417.1 84.2 L419.32 83.32Z" fill="#9c9c9c"/>
<path d="M420.7 83.2 L421.58 85.42 L423.8 86.3 L421.58 87.18 L420.7 89.4 L419.82 87.18 L417.6 86.3 L419.82 85.42Z" fill="#9c9c9c"/>
<path d="M404.3 98.1 L405.18 100.32 L407.4 101.2 L405.18 102.08 L404.3 104.3 L403.42 102.08 L401.2 101.2 L403.42 100.32Z" fill="#9c9c9c"/>
<path d="M409.6 101.2 L410.48 103.42 L412.7 104.3 L410.48 105.18 L409.6 107.4 L408.72 105.18 L406.5 104.3 L408.72 103.42Z" fill="#9c9c9c"/>
<path d="M400.6 83.1 L401.48 85.32 L403.7 86.2 L401.48 87.08 L400.6 89.3 L399.72 87.08 L397.5 86.2 L399.72 85.32Z" fill="#9c9c9c"/>
<path d="M407 84.9 L407.88 87.12 L410.1 88 L407.88 88.88 L407 91.1 L406.12 88.88 L403.9 88 L406.12 87.12Z" fill="#9c9c9c"/>
<path d="M410 88.9 L410.88 91.12 L413.1 92 L410.88 92.88 L410 95.1 L409.12 92.88 L406.9 92 L409.12 91.12Z" fill="#9c9c9c"/>
<path d="M413 91.9 L413.88 94.12 L416.1 95 L413.88 95.88 L413 98.1 L412.12 95.88 L409.9 95 L412.12 94.12Z" fill="#9c9c9c"/>
<path d="M407 95.9 L407.88 98.12 L410.1 99 L407.88 99.88 L407 102.1 L406.12 99.88 L403.9 99 L406.12 98.12Z" fill="#9c9c9c"/>
<path d="M402 100.9 L402.88 103.12 L405.1 104 L402.88 104.88 L402 107.1 L401.12 104.88 L398.9 104 L401.12 103.12Z" fill="#9c9c9c"/>
<path d="M403.9 96.1 L404.78 98.32 L407 99.2 L404.78 100.08 L403.9 102.3 L403.02 100.08 L400.8 99.2 L403.02 98.32Z" fill="#9c9c9c"/>
<path d="M406.7 94.7 L407.58 96.92 L409.8 97.8 L407.58 98.68 L406.7 100.9 L405.82 98.68 L403.6 97.8 L405.82 96.92Z" fill="#9c9c9c"/>
<path d="M399.6 99.7 L400.48 101.92 L402.7 102.8 L400.48 103.68 L399.6 105.9 L398.72 103.68 L396.5 102.8 L398.72 101.92Z" fill="#9c9c9c"/>
<path d="M398.2 108.9 L399.08 111.12 L401.3 112 L399.08 112.88 L398.2 115.1 L397.32 112.88 L395.1 112 L397.32 111.12Z" fill="#9c9c9c"/>
<path d="M396.8 111.7 L397.68 113.92 L399.9 114.8 L397.68 115.68 L396.8 117.9 L395.92 115.68 L393.7 114.8 L395.92 113.92Z" fill="#9c9c9c"/>
<path d="M394 117.3 L394.88 119.52 L397.1 120.4 L394.88 121.28 L394 123.5 L393.12 121.28 L390.9 120.4 L393.12 119.52Z" fill="#9c9c9c"/>
<path d="M391.2 118 L392.08 120.22 L394.3 121.1 L392.08 121.98 L391.2 124.2 L390.32 121.98 L388.1 121.1 L390.32 120.22Z" fill="#9c9c9c"/>
<path d="M388.4 121.5 L389.28 123.72 L391.5 124.6 L389.28 125.48 L388.4 127.7 L387.52 125.48 L385.3 124.6 L387.52 123.72Z" fill="#9c9c9c"/>
<path d="M384.1 125.8 L384.98 128.02 L387.2 128.9 L384.98 129.78 L384.1 132 L383.22 129.78 L381 128.9 L383.22 128.02Z" fill="#9c9c9c"/>
<path d="M380.6 129.3 L381.48 131.52 L383.7 132.4 L381.48 133.28 L380.6 135.5 L379.72 133.28 L377.5 132.4 L379.72 131.52Z" fill="#9c9c9c"/>
<path d="M386.9 129.3 L387.78 131.52 L390 132.4 L387.78 133.28 L386.9 135.5 L386.02 133.28 L383.8 132.4 L386.02 131.52Z" fill="#9c9c9c"/>
<path d="M403.2 108.1 L404.08 110.32 L406.3 111.2 L404.08 112.08 L403.2 114.3 L402.32 112.08 L400.1 111.2 L402.32 110.32Z" fill="#9c9c9c"/>
<path d="M397.5 103.2 L398.38 105.42 L400.6 106.3 L398.38 107.18 L397.5 109.4 L396.62 107.18 L394.4 106.3 L396.62 105.42Z" fill="#9c9c9c"/>
<path d="M395.4 105.3 L396.28 107.52 L398.5 108.4 L396.28 109.28 L395.4 111.5 L394.52 109.28 L392.3 108.4 L394.52 107.52Z" fill="#9c9c9c"/>
<path d="M389.8 115.2 L390.68 117.42 L392.9 118.3 L390.68 119.18 L389.8 121.4 L388.92 119.18 L386.7 118.3 L388.92 117.42Z" fill="#9c9c9c"/>
<path d="M386.3 124.4 L387.18 126.62 L389.4 127.5 L387.18 128.38 L386.3 130.6 L385.42 128.38 L383.2 127.5 L385.42 126.62Z" fill="#9c9c9c"/>
<path d="M383.4 128.6 L384.28 130.82 L386.5 131.7 L384.28 132.58 L383.4 134.8 L382.52 132.58 L380.3 131.7 L382.52 130.82Z" fill="#9c9c9c"/>
<path d="M378.5 132.2 L379.38 134.42 L381.6 135.3 L379.38 136.18 L378.5 138.4 L377.62 136.18 L375.4 135.3 L377.62 134.42Z" fill="#9c9c9c"/>
<path d="M385 132.4 L385.88 134.62 L388.1 135.5 L385.88 136.38 L385 138.6 L384.12 136.38 L381.9 135.5 L384.12 134.62Z" fill="#9c9c9c"/>
<path d="M389 127.9 L389.88 130.12 L392.1 131 L389.88 131.88 L389 134.1 L388.12 131.88 L385.9 131 L388.12 130.12Z" fill="#9c9c9c"/>
<path d="M370.7 126.4 L371.58 128.62 L373.8 129.5 L371.58 130.38 L370.7 132.6 L369.82 130.38 L367.6 129.5 L369.82 128.62Z" fill="#9c9c9c"/>
<path d="M353.2 137.5 L354.08 139.72 L356.3 140.6 L354.08 141.48 L353.2 143.7 L352.32 141.48 L350.1 140.6 L352.32 139.72Z" fill="#9c9c9c"/>
<path d="M368 138.6 L368.88 140.82 L371.1 141.7 L368.88 142.58 L368 144.8 L367.12 142.58 L364.9 141.7 L367.12 140.82Z" fill="#9c9c9c"/>
<path d="M358.5 148.1 L359.38 150.32 L361.6 151.2 L359.38 152.08 L358.5 154.3 L357.62 152.08 L355.4 151.2 L357.62 150.32Z" fill="#9c9c9c"/>
<path d="M352.7 151.8 L353.58 154.02 L355.8 154.9 L353.58 155.78 L352.7 158 L351.82 155.78 L349.6 154.9 L351.82 154.02Z" fill="#9c9c9c"/>
<path d="M347.4 155.5 L348.28 157.72 L350.5 158.6 L348.28 159.48 L347.4 161.7 L346.52 159.48 L344.3 158.6 L346.52 157.72Z" fill="#9c9c9c"/>
<path d="M383.4 163.5 L384.28 165.72 L386.5 166.6 L384.28 167.48 L383.4 169.7 L382.52 167.48 L380.3 166.6 L382.52 165.72Z" fill="#9c9c9c"/>
<path d="M371.7 167.7 L372.58 169.92 L374.8 170.8 L372.58 171.68 L371.7 173.9 L370.82 171.68 L368.6 170.8 L370.82 169.92Z" fill="#9c9c9c"/>
<path d="M364.3 167.7 L365.18 169.92 L367.4 170.8 L365.18 171.68 L364.3 173.9 L363.42 171.68 L361.2 170.8 L363.42 169.92Z" fill="#9c9c9c"/>
<path d="M357.5 167.7 L358.38 169.92 L360.6 170.8 L358.38 171.68 L357.5 173.9 L356.62 171.68 L354.4 170.8 L356.62 169.92Z" fill="#9c9c9c"/>
<path d="M355.9 170.9 L356.78 173.12 L359 174 L356.78 174.88 L355.9 177.1 L355.02 174.88 L352.8 174 L355.02 173.12Z" fill="#9c9c9c"/>
<path d="M351.6 171.9 L352.48 174.12 L354.7 175 L352.48 175.88 L351.6 178.1 L350.72 175.88 L348.5 175 L350.72 174.12Z" fill="#9c9c9c"/>
<path d="M361.2 175.1 L362.08 177.32 L364.3 178.2 L362.08 179.08 L361.2 181.3 L360.32 179.08 L358.1 178.2 L360.32 177.32Z" fill="#9c9c9c"/>
<path d="M372.3 174.6 L373.18 176.82 L375.4 177.7 L373.18 178.58 L372.3 180.8 L371.42 178.58 L369.2 177.7 L371.42 176.82Z" fill="#9c9c9c"/>
<path d="M382.3 129.6 L383.18 131.82 L385.4 132.7 L383.18 133.58 L382.3 135.8 L381.42 133.58 L379.2 132.7 L381.42 131.82Z" fill="#9c9c9c"/>
<path d="M386.6 129.6 L387.48 131.82 L389.7 132.7 L387.48 133.58 L386.6 135.8 L385.72 133.58 L383.5 132.7 L385.72 131.82Z" fill="#9c9c9c"/>
<path d="M385.5 133.9 L386.38 136.12 L388.6 137 L386.38 137.88 L385.5 140.1 L384.62 137.88 L382.4 137 L384.62 136.12Z" fill="#9c9c9c"/>
<path d="M387.6 137.9 L388.48 140.12 L390.7 141 L388.48 141.88 L387.6 144.1 L386.72 141.88 L384.5 141 L386.72 140.12Z" fill="#9c9c9c"/>
<path d="M382.3 142.3 L383.18 144.52 L385.4 145.4 L383.18 146.28 L382.3 148.5 L381.42 146.28 L379.2 145.4 L381.42 144.52Z" fill="#9c9c9c"/>
<path d="M378.5 145.4 L379.38 147.62 L381.6 148.5 L379.38 149.38 L378.5 151.6 L377.62 149.38 L375.4 148.5 L377.62 147.62Z" fill="#9c9c9c"/>
<path d="M375 147.6 L375.88 149.82 L378.1 150.7 L375.88 151.58 L375 153.8 L374.12 151.58 L371.9 150.7 L374.12 149.82Z" fill="#9c9c9c"/>
<path d="M380.2 156.1 L381.08 158.32 L383.3 159.2 L381.08 160.08 L380.2 162.3 L379.32 160.08 L377.1 159.2 L379.32 158.32Z" fill="#9c9c9c"/>
<path d="M377 157.1 L377.88 159.32 L380.1 160.2 L377.88 161.08 L377 163.3 L376.12 161.08 L373.9 160.2 L376.12 159.32Z" fill="#9c9c9c"/>
<path d="M371.7 159.2 L372.58 161.42 L374.8 162.3 L372.58 163.18 L371.7 165.4 L370.82 163.18 L368.6 162.3 L370.82 161.42Z" fill="#9c9c9c"/>
<path d="M366.4 155 L367.28 157.22 L369.5 158.1 L367.28 158.98 L366.4 161.2 L365.52 158.98 L363.3 158.1 L365.52 157.22Z" fill="#9c9c9c"/>
<path d="M363.3 151.9 L364.18 154.12 L366.4 155 L364.18 155.88 L363.3 158.1 L362.42 155.88 L360.2 155 L362.42 154.12Z" fill="#9c9c9c"/>
<path d="M376 136.9 L376.88 139.12 L379.1 140 L376.88 140.88 L376 143.1 L375.12 140.88 L372.9 140 L375.12 139.12Z" fill="#9c9c9c"/>
<path d="M380 139.9 L380.88 142.12 L383.1 143 L380.88 143.88 L380 146.1 L379.12 143.88 L376.9 143 L379.12 142.12Z" fill="#9c9c9c"/>
<path d="M386 142.9 L386.88 145.12 L389.1 146 L386.88 146.88 L386 149.1 L385.12 146.88 L382.9 146 L385.12 145.12Z" fill="#9c9c9c"/>
<path d="M374 133.9 L374.88 136.12 L377.1 137 L374.88 137.88 L374 140.1 L373.12 137.88 L370.9 137 L373.12 136.12Z" fill="#9c9c9c"/>
<path d="M366 146.9 L366.88 149.12 L369.1 150 L366.88 150.88 L366 153.1 L365.12 150.88 L362.9 150 L365.12 149.12Z" fill="#9c9c9c"/>
<path d="M362 156.9 L362.88 159.12 L365.1 160 L362.88 160.88 L362 163.1 L361.12 160.88 L358.9 160 L361.12 159.12Z" fill="#9c9c9c"/>
<path d="M368 156.9 L368.88 159.12 L371.1 160 L368.88 160.88 L368 163.1 L367.12 160.88 L364.9 160 L367.12 159.12Z" fill="#9c9c9c"/>
<path d="M380 149.9 L380.88 152.12 L383.1 153 L380.88 153.88 L380 156.1 L379.12 153.88 L376.9 153 L379.12 152.12Z" fill="#9c9c9c"/>
<path d="M384 152.9 L384.88 155.12 L387.1 156 L384.88 156.88 L384 159.1 L383.12 156.88 L380.9 156 L383.12 155.12Z" fill="#9c9c9c"/>
<path d="M388 146.9 L388.88 149.12 L391.1 150 L388.88 150.88 L388 153.1 L387.12 150.88 L384.9 150 L387.12 149.12Z" fill="#9c9c9c"/>
<path d="M360 152.9 L360.88 155.12 L363.1 156 L360.88 156.88 L360 159.1 L359.12 156.88 L356.9 156 L359.12 155.12Z" fill="#9c9c9c"/>
<path d="M306.9 155.1 L307.78 157.32 L310 158.2 L307.78 159.08 L306.9 161.3 L306.02 159.08 L303.8 158.2 L306.02 157.32Z" fill="#9c9c9c"/>
<path d="M326.2 156.7 L327.08 158.92 L329.3 159.8 L327.08 160.68 L326.2 162.9 L325.32 160.68 L323.1 159.8 L325.32 158.92Z" fill="#9c9c9c"/>
<path d="M347.4 155.7 L348.28 157.92 L350.5 158.8 L348.28 159.68 L347.4 161.9 L346.52 159.68 L344.3 158.8 L346.52 157.92Z" fill="#9c9c9c"/>
<path d="M352.7 152.5 L353.58 154.72 L355.8 155.6 L353.58 156.48 L352.7 158.7 L351.82 156.48 L349.6 155.6 L351.82 154.72Z" fill="#9c9c9c"/>
<path d="M337.3 177.9 L338.18 180.12 L340.4 181 L338.18 181.88 L337.3 184.1 L336.42 181.88 L334.2 181 L336.42 180.12Z" fill="#9c9c9c"/>
<path d="M352.1 171.5 L352.98 173.72 L355.2 174.6 L352.98 175.48 L352.1 177.7 L351.22 175.48 L349 174.6 L351.22 173.72Z" fill="#9c9c9c"/>
<path d="M348.4 179.5 L349.28 181.72 L351.5 182.6 L349.28 183.48 L348.4 185.7 L347.52 183.48 L345.3 182.6 L347.52 181.72Z" fill="#9c9c9c"/>
<path d="M350 183.2 L350.88 185.42 L353.1 186.3 L350.88 187.18 L350 189.4 L349.12 187.18 L346.9 186.3 L349.12 185.42Z" fill="#9c9c9c"/>
<path d="M352.1 190.6 L352.98 192.82 L355.2 193.7 L352.98 194.58 L352.1 196.8 L351.22 194.58 L349 193.7 L351.22 192.82Z" fill="#9c9c9c"/>
<path d="M384.2 163.2 L385.08 165.42 L387.3 166.3 L385.08 167.18 L384.2 169.4 L383.32 167.18 L381.1 166.3 L383.32 165.42Z" fill="#9c9c9c"/>
<path d="M376.7 165.4 L377.58 167.62 L379.8 168.5 L377.58 169.38 L376.7 171.6 L375.82 169.38 L373.6 168.5 L375.82 167.62Z" fill="#9c9c9c"/>
<path d="M372.5 168.5 L373.38 170.72 L375.6 171.6 L373.38 172.48 L372.5 174.7 L371.62 172.48 L369.4 171.6 L371.62 170.72Z" fill="#9c9c9c"/>
<path d="M367.2 170.1 L368.08 172.32 L370.3 173.2 L368.08 174.08 L367.2 176.3 L366.32 174.08 L364.1 173.2 L366.32 172.32Z" fill="#9c9c9c"/>
<path d="M358.8 166.4 L359.68 168.62 L361.9 169.5 L359.68 170.38 L358.8 172.6 L357.92 170.38 L355.7 169.5 L357.92 168.62Z" fill="#9c9c9c"/>
<path d="M357.2 170.1 L358.08 172.32 L360.3 173.2 L358.08 174.08 L357.2 176.3 L356.32 174.08 L354.1 173.2 L356.32 172.32Z" fill="#9c9c9c"/>
<path d="M351.9 171.7 L352.78 173.92 L355 174.8 L352.78 175.68 L351.9 177.9 L351.02 175.68 L348.8 174.8 L351.02 173.92Z" fill="#9c9c9c"/>
<path d="M356.1 172.8 L356.98 175.02 L359.2 175.9 L356.98 176.78 L356.1 179 L355.22 176.78 L353 175.9 L355.22 175.02Z" fill="#9c9c9c"/>
<path d="M372.5 174.4 L373.38 176.62 L375.6 177.5 L373.38 178.38 L372.5 180.6 L371.62 178.38 L369.4 177.5 L371.62 176.62Z" fill="#9c9c9c"/>
<path d="M360.9 176.5 L361.78 178.72 L364 179.6 L361.78 180.48 L360.9 182.7 L360.02 180.48 L357.8 179.6 L360.02 178.72Z" fill="#9c9c9c"/>
<path d="M364.6 178.6 L365.48 180.82 L367.7 181.7 L365.48 182.58 L364.6 184.8 L363.72 182.58 L361.5 181.7 L363.72 180.82Z" fill="#9c9c9c"/>
<path d="M348.2 179.7 L349.08 181.92 L351.3 182.8 L349.08 183.68 L348.2 185.9 L347.32 183.68 L345.1 182.8 L347.32 181.92Z" fill="#9c9c9c"/>
<path d="M349.8 182.8 L350.68 185.02 L352.9 185.9 L350.68 186.78 L349.8 189 L348.92 186.78 L346.7 185.9 L348.92 185.02Z" fill="#9c9c9c"/>
<path d="M360.9 181.2 L361.78 183.42 L364 184.3 L361.78 185.18 L360.9 187.4 L360.02 185.18 L357.8 184.3 L360.02 183.42Z" fill="#9c9c9c"/>
<path d="M370.2 184.6 L371.08 186.82 L373.3 187.7 L371.08 188.58 L370.2 190.8 L369.32 188.58 L367.1 187.7 L369.32 186.82Z" fill="#9c9c9c"/>
<path d="M365.1 189.7 L365.98 191.92 L368.2 192.8 L365.98 193.68 L365.1 195.9 L364.22 193.68 L362 192.8 L364.22 191.92Z" fill="#9c9c9c"/>
<path d="M352.4 190.8 L353.28 193.02 L355.5 193.9 L353.28 194.78 L352.4 197 L351.52 194.78 L349.3 193.9 L351.52 193.02Z" fill="#9c9c9c"/>
<path d="M369.3 160.1 L370.18 162.32 L372.4 163.2 L370.18 164.08 L369.3 166.3 L368.42 164.08 L366.2 163.2 L368.42 162.32Z" fill="#9c9c9c"/>
<path d="M423.7 75.3 L424.58 77.52 L426.8 78.4 L424.58 79.28 L423.7 81.5 L422.82 79.28 L420.6 78.4 L422.82 77.52Z" fill="#9c9c9c"/>
<path d="M426.3 78.4 L427.18 80.62 L429.4 81.5 L427.18 82.38 L426.3 84.6 L425.42 82.38 L423.2 81.5 L425.42 80.62Z" fill="#9c9c9c"/>
<path d="M424.6 82.3 L425.48 84.52 L427.7 85.4 L425.48 86.28 L424.6 88.5 L423.72 86.28 L421.5 85.4 L423.72 84.52Z" fill="#9c9c9c"/>
<path d="M429 83.7 L429.88 85.92 L432.1 86.8 L429.88 87.68 L429 89.9 L428.12 87.68 L425.9 86.8 L428.12 85.92Z" fill="#9c9c9c"/>
<path d="M421 80.1 L421.88 82.32 L424.1 83.2 L421.88 84.08 L421 86.3 L420.12 84.08 L417.9 83.2 L420.12 82.32Z" fill="#9c9c9c"/>
<path d="M419.7 84.5 L420.58 86.72 L422.8 87.6 L420.58 88.48 L419.7 90.7 L418.82 88.48 L416.6 87.6 L418.82 86.72Z" fill="#9c9c9c"/>
<path d="M403.6 83.42 L404.47 85.64 L406.7 86.52 L404.47 87.39 L403.6 89.62 L402.72 87.39 L400.5 86.52 L402.72 85.64Z" fill="#9c9c9c"/>
<path d="M408.12 82.91 L409 85.13 L411.22 86.01 L409 86.89 L408.12 89.11 L407.25 86.89 L405.02 86.01 L407.25 85.13Z" fill="#9c9c9c"/>
<path d="M410.52 83.66 L411.4 85.89 L413.62 86.76 L411.4 87.64 L410.52 89.86 L409.64 87.64 L407.42 86.76 L409.64 85.89Z" fill="#9c9c9c"/>
<path d="M405.14 86.05 L406.02 88.27 L408.24 89.15 L406.02 90.03 L405.14 92.25 L404.26 90.03 L402.04 89.15 L404.26 88.27Z" fill="#9c9c9c"/>
<path d="M407.81 85.39 L408.69 87.61 L410.91 88.49 L408.69 89.36 L407.81 91.59 L406.94 89.36 L404.71 88.49 L406.94 87.61Z" fill="#9c9c9c"/>
<path d="M410.01 85.71 L410.88 87.93 L413.11 88.81 L410.88 89.69 L410.01 91.91 L409.13 89.69 L406.91 88.81 L409.13 87.93Z" fill="#9c9c9c"/>
<path d="M404.6 88.05 L405.48 90.27 L407.7 91.15 L405.48 92.02 L404.6 94.25 L403.73 92.02 L401.5 91.15 L403.73 90.27Z" fill="#9c9c9c"/>
<path d="M408.51 88.44 L409.38 90.66 L411.61 91.54 L409.38 92.41 L408.51 94.64 L407.63 92.41 L405.41 91.54 L407.63 90.66Z" fill="#9c9c9c"/>
<path d="M410.56 87.98 L411.44 90.2 L413.66 91.08 L411.44 91.96 L410.56 94.18 L409.68 91.96 L407.46 91.08 L409.68 90.2Z" fill="#9c9c9c"/>
<path d="M405.59 92.71 L406.47 94.94 L408.69 95.81 L406.47 96.69 L405.59 98.91 L404.72 96.69 L402.49 95.81 L404.72 94.94Z" fill="#9c9c9c"/>
<path d="M408.7 92.42 L409.58 94.64 L411.8 95.52 L409.58 96.39 L408.7 98.62 L407.82 96.39 L405.6 95.52 L407.82 94.64Z" fill="#9c9c9c"/>
<path d="M410.08 91.73 L410.96 93.95 L413.18 94.83 L410.96 95.71 L410.08 97.93 L409.2 95.71 L406.98 94.83 L409.2 93.95Z" fill="#9c9c9c"/>
<path d="M404.39 94.28 L405.27 96.5 L407.49 97.38 L405.27 98.25 L404.39 100.48 L403.52 98.25 L401.29 97.38 L403.52 96.5Z" fill="#9c9c9c"/>
<path d="M408.88 94.88 L409.76 97.11 L411.98 97.98 L409.76 98.86 L408.88 101.08 L408.01 98.86 L405.78 97.98 L408.01 97.11Z" fill="#9c9c9c"/>
<path d="M410.37 95.96 L411.25 98.19 L413.47 99.06 L411.25 99.94 L410.37 102.16 L409.49 99.94 L407.27 99.06 L409.49 98.19Z" fill="#9c9c9c"/>
<path d="M407.93 91.28 L408.81 93.5 L411.03 94.38 L408.81 95.26 L407.93 97.48 L407.06 95.26 L404.83 94.38 L407.06 93.5Z" fill="#9c9c9c"/>
<path d="M404.74 89.62 L405.61 91.84 L407.84 92.72 L405.61 93.59 L404.74 95.82 L403.86 93.59 L401.64 92.72 L403.86 91.84Z" fill="#9c9c9c"/>
<path d="M406.43 94.32 L407.31 96.54 L409.53 97.42 L407.31 98.3 L406.43 100.52 L405.56 98.3 L403.33 97.42 L405.56 96.54Z" fill="#9c9c9c"/>
<path d="M402 91.7 L402.87 93.93 L405.1 94.8 L402.87 95.68 L402 97.9 L401.12 95.68 L398.9 94.8 L401.12 93.93Z" fill="#9c9c9c"/>
<path d="M405.07 96.63 L405.95 98.85 L408.17 99.73 L405.95 100.61 L405.07 102.83 L404.2 100.61 L401.97 99.73 L404.2 98.85Z" fill="#9c9c9c"/>
<path d="M401.88 93.99 L402.76 96.21 L404.98 97.09 L402.76 97.96 L401.88 100.19 L401 97.96 L398.78 97.09 L401 96.21Z" fill="#9c9c9c"/>
<path d="M402.63 98.74 L403.5 100.96 L405.73 101.84 L403.5 102.71 L402.63 104.94 L401.75 102.71 L399.53 101.84 L401.75 100.96Z" fill="#9c9c9c"/>
<path d="M399.79 97.57 L400.67 99.8 L402.89 100.67 L400.67 101.55 L399.79 103.77 L398.92 101.55 L396.69 100.67 L398.92 99.8Z" fill="#9c9c9c"/>
<path d="M400.21 101.44 L401.09 103.66 L403.31 104.54 L401.09 105.42 L400.21 107.64 L399.33 105.42 L397.11 104.54 L399.33 103.66Z" fill="#9c9c9c"/>
<path d="M397.86 100.97 L398.73 103.2 L400.96 104.07 L398.73 104.95 L397.86 107.17 L396.98 104.95 L394.76 104.07 L396.98 103.2Z" fill="#9c9c9c"/>
<path d="M399.79 103.98 L400.67 106.2 L402.89 107.08 L400.67 107.95 L399.79 110.18 L398.91 107.95 L396.69 107.08 L398.91 106.2Z" fill="#9c9c9c"/>
<path d="M397.11 102.7 L397.99 104.92 L400.21 105.8 L397.99 106.68 L397.11 108.9 L396.23 106.68 L394.01 105.8 L396.23 104.92Z" fill="#9c9c9c"/>
<path d="M398.3 106.67 L399.18 108.9 L401.4 109.77 L399.18 110.65 L398.3 112.87 L397.43 110.65 L395.2 109.77 L397.43 108.9Z" fill="#9c9c9c"/>
<path d="M394.59 106.62 L395.46 108.85 L397.69 109.72 L395.46 110.6 L394.59 112.82 L393.71 110.6 L391.49 109.72 L393.71 108.85Z" fill="#9c9c9c"/>
<path d="M396.4 109.57 L397.28 111.79 L399.5 112.67 L397.28 113.54 L396.4 115.77 L395.52 113.54 L393.3 112.67 L395.52 111.79Z" fill="#9c9c9c"/>
<path d="M394.91 109.38 L395.78 111.6 L398.01 112.48 L395.78 113.35 L394.91 115.58 L394.03 113.35 L391.81 112.48 L394.03 111.6Z" fill="#9c9c9c"/>
<path d="M395.28 113.51 L396.16 115.73 L398.38 116.61 L396.16 117.49 L395.28 119.71 L394.4 117.49 L392.18 116.61 L394.4 115.73Z" fill="#9c9c9c"/>
<path d="M392.95 111.81 L393.82 114.04 L396.05 114.91 L393.82 115.79 L392.95 118.01 L392.07 115.79 L389.85 114.91 L392.07 114.04Z" fill="#9c9c9c"/>
<path d="M393.78 116.44 L394.65 118.66 L396.88 119.54 L394.65 120.41 L393.78 122.64 L392.9 120.41 L390.68 119.54 L392.9 118.66Z" fill="#9c9c9c"/>
<path d="M392.06 114.81 L392.93 117.04 L395.16 117.91 L392.93 118.79 L392.06 121.01 L391.18 118.79 L388.96 117.91 L391.18 117.04Z" fill="#9c9c9c"/>
<path d="M393.69 117.87 L394.57 120.09 L396.79 120.97 L394.57 121.84 L393.69 124.07 L392.81 121.84 L390.59 120.97 L392.81 120.09Z" fill="#9c9c9c"/>
<path d="M389.72 115.58 L390.59 117.8 L392.82 118.68 L390.59 119.55 L389.72 121.78 L388.84 119.55 L386.62 118.68 L388.84 117.8Z" fill="#9c9c9c"/>
<path d="M391.31 119.95 L392.18 122.18 L394.41 123.05 L392.18 123.93 L391.31 126.15 L390.43 123.93 L388.21 123.05 L390.43 122.18Z" fill="#9c9c9c"/>
<path d="M387.81 118.32 L388.69 120.54 L390.91 121.42 L388.69 122.29 L387.81 124.52 L386.93 122.29 L384.71 121.42 L386.93 120.54Z" fill="#9c9c9c"/>
<path d="M389.89 123.39 L390.77 125.61 L392.99 126.49 L390.77 127.37 L389.89 129.59 L389.01 127.37 L386.79 126.49 L389.01 125.61Z" fill="#9c9c9c"/>
<path d="M386.06 119.89 L386.93 122.11 L389.16 122.99 L386.93 123.87 L386.06 126.09 L385.18 123.87 L382.96 122.99 L385.18 122.11Z" fill="#9c9c9c"/>
<path d="M390.32 124.92 L391.2 127.15 L393.42 128.02 L391.2 128.9 L390.32 131.12 L389.44 128.9 L387.22 128.02 L389.44 127.15Z" fill="#9c9c9c"/>
<path d="M386.71 123.87 L387.58 126.09 L389.81 126.97 L387.58 127.85 L386.71 130.07 L385.83 127.85 L383.61 126.97 L385.83 126.09Z" fill="#9c9c9c"/>
<path d="M384.52 122.14 L385.4 124.36 L387.62 125.24 L385.4 126.11 L384.52 128.34 L383.64 126.11 L381.42 125.24 L383.64 124.36Z" fill="#9c9c9c"/>
<path d="M389.88 126.97 L390.76 129.2 L392.98 130.07 L390.76 130.95 L389.88 133.17 L389 130.95 L386.78 130.07 L389 129.2Z" fill="#9c9c9c"/>
<path d="M386.4 127.12 L387.28 129.34 L389.5 130.22 L387.28 131.1 L386.4 133.32 L385.52 131.1 L383.3 130.22 L385.52 129.34Z" fill="#9c9c9c"/>
<path d="M382.11 125.86 L382.98 128.08 L385.21 128.96 L382.98 129.83 L382.11 132.06 L381.23 129.83 L379.01 128.96 L381.23 128.08Z" fill="#9c9c9c"/>
<path d="M388.22 130.65 L389.1 132.87 L391.32 133.75 L389.1 134.62 L388.22 136.85 L387.34 134.62 L385.12 133.75 L387.34 132.87Z" fill="#9c9c9c"/>
<path d="M384.21 128.51 L385.09 130.73 L387.31 131.61 L385.09 132.48 L384.21 134.71 L383.34 132.48 L381.11 131.61 L383.34 130.73Z" fill="#9c9c9c"/>
<path d="M381.06 128.67 L381.93 130.9 L384.16 131.77 L381.93 132.65 L381.06 134.87 L380.18 132.65 L377.96 131.77 L380.18 130.9Z" fill="#9c9c9c"/>
<path d="M387.35 133.46 L388.22 135.68 L390.45 136.56 L388.22 137.44 L387.35 139.66 L386.47 137.44 L384.25 136.56 L386.47 135.68Z" fill="#9c9c9c"/>
<path d="M384.69 132.61 L385.56 134.83 L387.79 135.71 L385.56 136.58 L384.69 138.81 L383.81 136.58 L381.59 135.71 L383.81 134.83Z" fill="#9c9c9c"/>
<path d="M379.92 130.52 L380.8 132.74 L383.02 133.62 L380.8 134.5 L379.92 136.72 L379.04 134.5 L376.82 133.62 L379.04 132.74Z" fill="#9c9c9c"/>
<path d="M386.55 136.73 L387.43 138.95 L389.65 139.83 L387.43 140.7 L386.55 142.93 L385.67 140.7 L383.45 139.83 L385.67 138.95Z" fill="#9c9c9c"/>
<path d="M382.37 135.63 L383.25 137.85 L385.47 138.73 L383.25 139.61 L382.37 141.83 L381.5 139.61 L379.27 138.73 L381.5 137.85Z" fill="#9c9c9c"/>
<path d="M379.96 134.76 L380.84 136.98 L383.06 137.86 L380.84 138.73 L379.96 140.96 L379.09 138.73 L376.86 137.86 L379.09 136.98Z" fill="#9c9c9c"/>
<path d="M384.45 140.24 L385.33 142.46 L387.55 143.34 L385.33 144.21 L384.45 146.44 L383.57 144.21 L381.35 143.34 L383.57 142.46Z" fill="#9c9c9c"/>
<path d="M381.35 138.31 L382.22 140.54 L384.45 141.41 L382.22 142.29 L381.35 144.51 L380.47 142.29 L378.25 141.41 L380.47 140.54Z" fill="#9c9c9c"/>
<path d="M378.98 138.28 L379.86 140.5 L382.08 141.38 L379.86 142.25 L378.98 144.48 L378.11 142.25 L375.88 141.38 L378.11 140.5Z" fill="#9c9c9c"/>
<path d="M383.09 144.45 L383.96 146.68 L386.19 147.55 L383.96 148.43 L383.09 150.65 L382.21 148.43 L379.99 147.55 L382.21 146.68Z" fill="#9c9c9c"/>
<path d="M381.07 141.6 L381.95 143.82 L384.17 144.7 L381.95 145.58 L381.07 147.8 L380.2 145.58 L377.97 144.7 L380.2 143.82Z" fill="#9c9c9c"/>
<path d="M378.36 139.51 L379.24 141.73 L381.46 142.61 L379.24 143.49 L378.36 145.71 L377.49 143.49 L375.26 142.61 L377.49 141.73Z" fill="#9c9c9c"/>
<path d="M380.47 145.56 L381.35 147.78 L383.57 148.66 L381.35 149.53 L380.47 151.76 L379.6 149.53 L377.37 148.66 L379.6 147.78Z" fill="#9c9c9c"/>
<path d="M379.3 145.19 L380.18 147.42 L382.4 148.29 L380.18 149.17 L379.3 151.39 L378.43 149.17 L376.2 148.29 L378.43 147.42Z" fill="#9c9c9c"/>
<path d="M376.31 141.96 L377.19 144.18 L379.41 145.06 L377.19 145.94 L376.31 148.16 L375.43 145.94 L373.21 145.06 L375.43 144.18Z" fill="#9c9c9c"/>
<path d="M379.73 148.52 L380.61 150.74 L382.83 151.62 L380.61 152.49 L379.73 154.72 L378.85 152.49 L376.63 151.62 L378.85 150.74Z" fill="#9c9c9c"/>
<path d="M374.9 144.92 L375.77 147.14 L378 148.02 L375.77 148.89 L374.9 151.12 L374.02 148.89 L371.8 148.02 L374.02 147.14Z" fill="#9c9c9c"/>
<path d="M376.91 151.33 L377.78 153.55 L380.01 154.43 L377.78 155.3 L376.91 157.53 L376.03 155.3 L373.81 154.43 L376.03 153.55Z" fill="#9c9c9c"/>
<path d="M373.17 147.87 L374.05 150.09 L376.27 150.97 L374.05 151.85 L373.17 154.07 L372.3 151.85 L370.07 150.97 L372.3 150.09Z" fill="#9c9c9c"/>
<path d="M373.79 153.88 L374.67 156.11 L376.89 156.98 L374.67 157.86 L373.79 160.08 L372.92 157.86 L370.69 156.98 L372.92 156.11Z" fill="#9c9c9c"/>
<path d="M370.75 150.57 L371.62 152.8 L373.85 153.67 L371.62 154.55 L370.75 156.77 L369.87 154.55 L367.65 153.67 L369.87 152.8Z" fill="#9c9c9c"/>
<path d="M372.71 155.29 L373.59 157.52 L375.81 158.39 L373.59 159.27 L372.71 161.49 L371.84 159.27 L369.61 158.39 L371.84 157.52Z" fill="#9c9c9c"/>
<path d="M369.53 153.97 L370.41 156.19 L372.63 157.07 L370.41 157.95 L369.53 160.17 L368.66 157.95 L366.43 157.07 L368.66 156.19Z" fill="#9c9c9c"/>
<path d="M370.05 159.01 L370.92 161.23 L373.15 162.11 L370.92 162.99 L370.05 165.21 L369.17 162.99 L366.95 162.11 L369.17 161.23Z" fill="#9c9c9c"/>
<path d="M366.2 155.81 L367.08 158.03 L369.3 158.91 L367.08 159.79 L366.2 162.01 L365.32 159.79 L363.1 158.91 L365.32 158.03Z" fill="#9c9c9c"/>
<path d="M376.11 132.23 L376.99 134.46 L379.21 135.33 L376.99 136.21 L376.11 138.43 L375.23 136.21 L373.01 135.33 L375.23 134.46Z" fill="#9c9c9c"/>
<path d="M380.07 131.69 L380.95 133.91 L383.17 134.79 L380.95 135.66 L380.07 137.89 L379.19 135.66 L376.97 134.79 L379.19 133.91Z" fill="#9c9c9c"/>
<path d="M382.38 128.17 L383.26 130.39 L385.48 131.27 L383.26 132.14 L382.38 134.37 L381.5 132.14 L379.28 131.27 L381.5 130.39Z" fill="#9c9c9c"/>
<path d="M378.51 136.58 L379.39 138.81 L381.61 139.68 L379.39 140.56 L378.51 142.78 L377.63 140.56 L375.41 139.68 L377.63 138.81Z" fill="#9c9c9c"/>
<path d="M381.26 134.51 L382.14 136.73 L384.36 137.61 L382.14 138.48 L381.26 140.71 L380.38 138.48 L378.16 137.61 L380.38 136.73Z" fill="#9c9c9c"/>
<path d="M385.57 130.9 L386.45 133.13 L388.67 134 L386.45 134.88 L385.57 137.1 L384.69 134.88 L382.47 134 L384.69 133.13Z" fill="#9c9c9c"/>
<path d="M381.13 138.45 L382.01 140.68 L384.23 141.55 L382.01 142.43 L381.13 144.65 L380.25 142.43 L378.03 141.55 L380.25 140.68Z" fill="#9c9c9c"/>
<path d="M383.78 137.85 L384.66 140.07 L386.88 140.95 L384.66 141.82 L383.78 144.05 L382.9 141.82 L380.68 140.95 L382.9 140.07Z" fill="#9c9c9c"/>
<path d="M385.92 133.28 L386.8 135.5 L389.02 136.38 L386.8 137.25 L385.92 139.48 L385.04 137.25 L382.82 136.38 L385.04 135.5Z" fill="#9c9c9c"/>
<path d="M384.01 141.01 L384.89 143.23 L387.11 144.11 L384.89 144.99 L384.01 147.21 L383.13 144.99 L380.91 144.11 L383.13 143.23Z" fill="#9c9c9c"/>
<path d="M385.05 138.79 L385.93 141.01 L388.15 141.89 L385.93 142.77 L385.05 144.99 L384.18 142.77 L381.95 141.89 L384.18 141.01Z" fill="#9c9c9c"/>
<path d="M388.46 138.38 L389.33 140.6 L391.56 141.48 L389.33 142.36 L388.46 144.58 L387.58 142.36 L385.36 141.48 L387.58 140.6Z" fill="#9c9c9c"/>
<path d="M383.94 143.2 L384.82 145.42 L387.04 146.3 L384.82 147.18 L383.94 149.4 L383.06 147.18 L380.84 146.3 L383.06 145.42Z" fill="#9c9c9c"/>
<path d="M387.89 142.03 L388.76 144.25 L390.99 145.13 L388.76 146 L387.89 148.23 L387.01 146 L384.79 145.13 L387.01 144.25Z" fill="#9c9c9c"/>
<path d="M391.82 140.75 L392.69 142.98 L394.92 143.85 L392.69 144.73 L391.82 146.95 L390.94 144.73 L388.72 143.85 L390.94 142.98Z" fill="#9c9c9c"/>
<path d="M389.12 143.81 L390 146.03 L392.22 146.91 L390 147.79 L389.12 150.01 L388.24 147.79 L386.02 146.91 L388.24 146.03Z" fill="#9c9c9c"/>
<path d="M436.8 30.3 L438.12 33.78 L441.6 35.1 L438.12 36.42 L436.8 39.9 L435.48 36.42 L432 35.1 L435.48 33.78Z" fill="#ff6a0a"/>
<path d="M455 36.6 L456.32 40.08 L459.8 41.4 L456.32 42.72 L455 46.2 L453.68 42.72 L450.2 41.4 L453.68 40.08Z" fill="#ff10ff"/>
<path d="M457.7 41.9 L459.02 45.38 L462.5 46.7 L459.02 48.02 L457.7 51.5 L456.38 48.02 L452.9 46.7 L456.38 45.38Z" fill="#ff6a0a"/>
<path d="M412.7 42.4 L414.02 45.88 L417.5 47.2 L414.02 48.52 L412.7 52 L411.38 48.52 L407.9 47.2 L411.38 45.88Z" fill="#6e0a82"/>
<path d="M422.2 40.8 L423.52 44.28 L427 45.6 L423.52 46.92 L422.2 50.4 L420.88 46.92 L417.4 45.6 L420.88 44.28Z" fill="#6e0a82"/>
<path d="M434.4 43 L435.72 46.48 L439.2 47.8 L435.72 49.12 L434.4 52.6 L433.08 49.12 L429.6 47.8 L433.08 46.48Z" fill="#6e0a82"/>
<path d="M418.5 46.7 L419.82 50.18 L423.3 51.5 L419.82 52.82 L418.5 56.3 L417.18 52.82 L413.7 51.5 L417.18 50.18Z" fill="#6e0a82"/>
<path d="M423.8 48.8 L425.12 52.28 L428.6 53.6 L425.12 54.92 L423.8 58.4 L422.48 54.92 L419 53.6 L422.48 52.28Z" fill="#ff6a0a"/>
<path d="M435.4 47.2 L436.72 50.68 L440.2 52 L436.72 53.32 L435.4 56.8 L434.08 53.32 L430.6 52 L434.08 50.68Z" fill="#6e0a82"/>
<path d="M447.6 42.4 L448.92 45.88 L452.4 47.2 L448.92 48.52 L447.6 52 L446.28 48.52 L442.8 47.2 L446.28 45.88Z" fill="#ff6a0a"/>
<path d="M446.6 47.2 L447.92 50.68 L451.4 52 L447.92 53.32 L446.6 56.8 L445.28 53.32 L441.8 52 L445.28 50.68Z" fill="#952f0a"/>
<path d="M445 51.4 L446.32 54.88 L449.8 56.2 L446.32 57.52 L445 61 L443.68 57.52 L440.2 56.2 L443.68 54.88Z" fill="#952f0a"/>
<path d="M446.6 55.1 L447.92 58.58 L451.4 59.9 L447.92 61.22 L446.6 64.7 L445.28 61.22 L441.8 59.9 L445.28 58.58Z" fill="#ff6a0a"/>
<path d="M409.5 57.2 L410.82 60.68 L414.3 62 L410.82 63.32 L409.5 66.8 L408.18 63.32 L404.7 62 L408.18 60.68Z" fill="#6e0a82"/>
<path d="M406.3 59.9 L407.62 63.38 L411.1 64.7 L407.62 66.02 L406.3 69.5 L404.98 66.02 L401.5 64.7 L404.98 63.38Z" fill="#6e0a82"/>
<path d="M421.2 64.1 L422.52 67.58 L426 68.9 L422.52 70.22 L421.2 73.7 L419.88 70.22 L416.4 68.9 L419.88 67.58Z" fill="#ff6a0a"/>
<path d="M436 58.8 L437.32 62.28 L440.8 63.6 L437.32 64.92 L436 68.4 L434.68 64.92 L431.2 63.6 L434.68 62.28Z" fill="#952f0a"/>
<path d="M433.9 62 L435.22 65.48 L438.7 66.8 L435.22 68.12 L433.9 71.6 L432.58 68.12 L429.1 66.8 L432.58 65.48Z" fill="#952f0a"/>
<path d="M431.7 64.6 L433.02 68.08 L436.5 69.4 L433.02 70.72 L431.7 74.2 L430.38 70.72 L426.9 69.4 L430.38 68.08Z" fill="#952f0a"/>
<path d="M437.6 67.3 L438.92 70.78 L442.4 72.1 L438.92 73.42 L437.6 76.9 L436.28 73.42 L432.8 72.1 L436.28 70.78Z" fill="#ff6a0a"/>
<path d="M449.7 67.8 L451.02 71.28 L454.5 72.6 L451.02 73.92 L449.7 77.4 L448.38 73.92 L444.9 72.6 L448.38 71.28Z" fill="#6e0a82"/>
<path d="M406.9 67.3 L408.22 70.78 L411.7 72.1 L408.22 73.42 L406.9 76.9 L405.58 73.42 L402.1 72.1 L405.58 70.78Z" fill="#108a10"/>
<path d="M404.2 71 L405.52 74.48 L409 75.8 L405.52 77.12 L404.2 80.6 L402.88 77.12 L399.4 75.8 L402.88 74.48Z" fill="#ff6a0a"/>
<path d="M415.9 68.9 L417.22 72.38 L420.7 73.7 L417.22 75.02 L415.9 78.5 L414.58 75.02 L411.1 73.7 L414.58 72.38Z" fill="#6e0a82"/>
<path d="M422.3 88.1 L423.62 91.58 L427.1 92.9 L423.62 94.22 L422.3 97.7 L420.98 94.22 L417.5 92.9 L420.98 91.58Z" fill="#0808b8"/>
<path d="M429.2 85.8 L430.52 89.28 L434 90.6 L430.52 91.92 L429.2 95.4 L427.88 91.92 L424.4 90.6 L427.88 89.28Z" fill="#ff6a0a"/>
<path d="M431.9 93.7 L433.22 97.18 L436.7 98.5 L433.22 99.82 L431.9 103.3 L430.58 99.82 L427.1 98.5 L430.58 97.18Z" fill="#108a10"/>
<path d="M346.9 160.7 L348.22 164.18 L351.7 165.5 L348.22 166.82 L346.9 170.3 L345.58 166.82 L342.1 165.5 L345.58 164.18Z" fill="#ff10ff"/>
<path d="M356.9 158.6 L358.22 162.08 L361.7 163.4 L358.22 164.72 L356.9 168.2 L355.58 164.72 L352.1 163.4 L355.58 162.08Z" fill="#ff10ff"/>
<path d="M361.2 160.7 L362.52 164.18 L366 165.5 L362.52 166.82 L361.2 170.3 L359.88 166.82 L356.4 165.5 L359.88 164.18Z" fill="#ff10ff"/>
<path d="M365.4 159.6 L366.72 163.08 L370.2 164.4 L366.72 165.72 L365.4 169.2 L364.08 165.72 L360.6 164.4 L364.08 163.08Z" fill="#ff10ff"/>
<path d="M369.6 161.8 L370.92 165.28 L374.4 166.6 L370.92 167.92 L369.6 171.4 L368.28 167.92 L364.8 166.6 L368.28 165.28Z" fill="#ff10ff"/>
<path d="M373.9 161.8 L375.22 165.28 L378.7 166.6 L375.22 167.92 L373.9 171.4 L372.58 167.92 L369.1 166.6 L372.58 165.28Z" fill="#f00000"/>
<path d="M380.7 164.9 L382.02 168.38 L385.5 169.7 L382.02 171.02 L380.7 174.5 L379.38 171.02 L375.9 169.7 L379.38 168.38Z" fill="#ff6a0a"/>
<path d="M326.2 176.7 L327.52 180.18 L331 181.5 L327.52 182.82 L326.2 186.3 L324.88 182.82 L321.4 181.5 L324.88 180.18Z" fill="#ff10ff"/>
<path d="M333.9 176.7 L335.22 180.18 L338.7 181.5 L335.22 182.82 L333.9 186.3 L332.58 182.82 L329.1 181.5 L332.58 180.18Z" fill="#ff10ff"/>
<path d="M338.4 184.6 L339.72 188.08 L343.2 189.4 L339.72 190.72 L338.4 194.2 L337.08 190.72 L333.6 189.4 L337.08 188.08Z" fill="#ff10ff"/>
<path d="M352.1 174.6 L353.42 178.08 L356.9 179.4 L353.42 180.72 L352.1 184.2 L350.78 180.72 L347.3 179.4 L350.78 178.08Z" fill="#ff10ff"/>
<path d="M381 165.2 L382.32 168.68 L385.8 170 L382.32 171.32 L381 174.8 L379.68 171.32 L376.2 170 L379.68 168.68Z" fill="#ff6a0a"/>
<path d="M347.1 160.5 L348.42 163.98 L351.9 165.3 L348.42 166.62 L347.1 170.1 L345.78 166.62 L342.3 165.3 L345.78 163.98Z" fill="#ff10ff"/>
<path d="M355.6 159.4 L356.92 162.88 L360.4 164.2 L356.92 165.52 L355.6 169 L354.28 165.52 L350.8 164.2 L354.28 162.88Z" fill="#ff10ff"/>
<path d="M360.9 160.5 L362.22 163.98 L365.7 165.3 L362.22 166.62 L360.9 170.1 L359.58 166.62 L356.1 165.3 L359.58 163.98Z" fill="#ff10ff"/>
<path d="M366.2 160.5 L367.52 163.98 L371 165.3 L367.52 166.62 L366.2 170.1 L364.88 166.62 L361.4 165.3 L364.88 163.98Z" fill="#ff10ff"/>
<path d="M370.4 161.5 L371.72 164.98 L375.2 166.3 L371.72 167.62 L370.4 171.1 L369.08 167.62 L365.6 166.3 L369.08 164.98Z" fill="#ff10ff"/>
<path d="M374.6 161.5 L375.92 164.98 L379.4 166.3 L375.92 167.62 L374.6 171.1 L373.28 167.62 L369.8 166.3 L373.28 164.98Z" fill="#f00000"/>
<path d="M445.1 84.2 L446.42 87.68 L449.9 89 L446.42 90.32 L445.1 93.8 L443.78 90.32 L440.3 89 L443.78 87.68Z" fill="#108a10"/>
<path d="M378 121.9 L379.32 125.38 L382.8 126.7 L379.32 128.02 L378 131.5 L376.68 128.02 L373.2 126.7 L376.68 125.38Z" fill="#6e0a82"/>
<path d="M391 120.8 L392.32 124.28 L395.8 125.6 L392.32 126.92 L391 130.4 L389.68 126.92 L386.2 125.6 L389.68 124.28Z" fill="#6e0a82"/>
<path d="M381.2 133.9 L382.52 137.38 L386 138.7 L382.52 140.02 L381.2 143.5 L379.88 140.02 L376.4 138.7 L379.88 137.38Z" fill="#ff10ff"/>
<path d="M372 130.4 L373.32 133.88 L376.8 135.2 L373.32 136.52 L372 140 L370.68 136.52 L367.2 135.2 L370.68 133.88Z" fill="#ff10ff"/>
<path d="M391 141.3 L392.32 144.78 L395.8 146.1 L392.32 147.42 L391 150.9 L389.68 147.42 L386.2 146.1 L389.68 144.78Z" fill="#f00000"/>
<path d="M370.6 143.4 L371.92 146.88 L375.4 148.2 L371.92 149.52 L370.6 153 L369.28 149.52 L365.8 148.2 L369.28 146.88Z" fill="#ff6a0a"/>
<path d="M384.3 148 L385.62 151.48 L389.1 152.8 L385.62 154.12 L384.3 157.6 L382.98 154.12 L379.5 152.8 L382.98 151.48Z" fill="#6e0a82"/>
<path d="M374.1 148.4 L375.42 151.88 L378.9 153.2 L375.42 154.52 L374.1 158 L372.78 154.52 L369.3 153.2 L372.78 151.88Z" fill="#ff10ff"/>
<path d="M377 150.5 L378.32 153.98 L381.8 155.3 L378.32 156.62 L377 160.1 L375.68 156.62 L372.2 155.3 L375.68 153.98Z" fill="#ff10ff"/>
<path d="M386.1 141.3 L387.42 144.78 L390.9 146.1 L387.42 147.42 L386.1 150.9 L384.78 147.42 L381.3 146.1 L384.78 144.78Z" fill="#6e0a82"/>
<path d="M435.4 321.9 L436.72 325.38 L440.2 326.7 L436.72 328.02 L435.4 331.5 L434.08 328.02 L430.6 326.7 L434.08 325.38Z" fill="#952f0a"/>
<path d="M443.3 320.9 L444.62 324.38 L448.1 325.7 L444.62 327.02 L443.3 330.5 L441.98 327.02 L438.5 325.7 L441.98 324.38Z" fill="#952f0a"/>
<path d="M418.5 338.9 L419.82 342.38 L423.3 343.7 L419.82 345.02 L418.5 348.5 L417.18 345.02 L413.7 343.7 L417.18 342.38Z" fill="#f00000"/>
<path d="M400.5 324.2 L401.82 327.68 L405.3 329 L401.82 330.32 L400.5 333.8 L399.18 330.32 L395.7 329 L399.18 327.68Z" fill="#f00000"/>
<path d="M416.6 321.5 L417.92 324.98 L421.4 326.3 L417.92 327.62 L416.6 331.1 L415.28 327.62 L411.8 326.3 L415.28 324.98Z" fill="#6e0a82"/>
<path d="M420.6 321.5 L421.92 324.98 L425.4 326.3 L421.92 327.62 L420.6 331.1 L419.28 327.62 L415.8 326.3 L419.28 324.98Z" fill="#6e0a82"/>
<path d="M408.2 333.4 L409.52 336.88 L413 338.2 L409.52 339.52 L408.2 343 L406.88 339.52 L403.4 338.2 L406.88 336.88Z" fill="#952f0a"/>
<path d="M399.8 341.4 L401.12 344.88 L404.6 346.2 L401.12 347.52 L399.8 351 L398.48 347.52 L395 346.2 L398.48 344.88Z" fill="#6e0a82"/>
<path d="M405.6 342.7 L406.92 346.18 L410.4 347.5 L406.92 348.82 L405.6 352.3 L404.28 348.82 L400.8 347.5 L404.28 346.18Z" fill="#ff10ff"/>
<path d="M400.3 348.4 L401.62 351.88 L405.1 353.2 L401.62 354.52 L400.3 358 L398.98 354.52 L395.5 353.2 L398.98 351.88Z" fill="#6e0a82"/>
<path d="M411.3 353.3 L412.62 356.78 L416.1 358.1 L412.62 359.42 L411.3 362.9 L409.98 359.42 L406.5 358.1 L409.98 356.78Z" fill="#952f0a"/>
<path d="M400 348.6 L401.32 352.08 L404.8 353.4 L401.32 354.72 L400 358.2 L398.68 354.72 L395.2 353.4 L398.68 352.08Z" fill="#6e0a82"/>
<path d="M411.9 353.4 L413.22 356.88 L416.7 358.2 L413.22 359.52 L411.9 363 L410.58 359.52 L407.1 358.2 L410.58 356.88Z" fill="#952f0a"/>
<path d="M386.3 379 L387.62 382.48 L391.1 383.8 L387.62 385.12 L386.3 388.6 L384.98 385.12 L381.5 383.8 L384.98 382.48Z" fill="#952f0a"/>
<path d="M400 366.2 L401.32 369.68 L404.8 371 L401.32 372.32 L400 375.8 L398.68 372.32 L395.2 371 L398.68 369.68Z" fill="#ff10ff"/>
<path d="M393.5 373.2 L394.82 376.68 L398.3 378 L394.82 379.32 L393.5 382.8 L392.18 379.32 L388.7 378 L392.18 376.68Z" fill="#30e0e8"/>
<path d="M397 373.2 L398.32 376.68 L401.8 378 L398.32 379.32 L397 382.8 L395.68 379.32 L392.2 378 L395.68 376.68Z" fill="#30e0e8"/>
<path d="M403.5 357.2 L404.82 360.68 L408.3 362 L404.82 363.32 L403.5 366.8 L402.18 363.32 L398.7 362 L402.18 360.68Z" fill="#ff10ff"/>
<path d="M398.5 361.2 L399.82 364.68 L403.3 366 L399.82 367.32 L398.5 370.8 L397.18 367.32 L393.7 366 L397.18 364.68Z" fill="#ff6a0a"/>
<path d="M395.6 386.5 L396.92 389.98 L400.4 391.3 L396.92 392.62 L395.6 396.1 L394.28 392.62 L390.8 391.3 L394.28 389.98Z" fill="#6e0a82"/>
<path d="M378.8 387.8 L380.12 391.28 L383.6 392.6 L380.12 393.92 L378.8 397.4 L377.48 393.92 L374 392.6 L377.48 391.28Z" fill="#ff10ff"/>
<path d="M382.3 386.1 L383.62 389.58 L387.1 390.9 L383.62 392.22 L382.3 395.7 L380.98 392.22 L377.5 390.9 L380.98 389.58Z" fill="#108a10"/>
<path d="M383.2 383.4 L384.52 386.88 L388 388.2 L384.52 389.52 L383.2 393 L381.88 389.52 L378.4 388.2 L381.88 386.88Z" fill="#6e0a82"/>
<path d="M395.6 382.5 L396.92 385.98 L400.4 387.3 L396.92 388.62 L395.6 392.1 L394.28 388.62 L390.8 387.3 L394.28 385.98Z" fill="#ff6a0a"/>
<path d="M355.4 399.6 L356.72 403.08 L360.2 404.4 L356.72 405.72 L355.4 409.2 L354.08 405.72 L350.6 404.4 L354.08 403.08Z" fill="#108a10"/>
<path d="M364.8 407.1 L366.12 410.58 L369.6 411.9 L366.12 413.22 L364.8 416.7 L363.48 413.22 L360 411.9 L363.48 410.58Z" fill="#108a10"/>
<path d="M366.6 403.6 L367.92 407.08 L371.4 408.4 L367.92 409.72 L366.6 413.2 L365.28 409.72 L361.8 408.4 L365.28 407.08Z" fill="#108a10"/>
<path d="M371.5 393.4 L372.82 396.88 L376.3 398.2 L372.82 399.52 L371.5 403 L370.18 399.52 L366.7 398.2 L370.18 396.88Z" fill="#6e0a82"/>
<path d="M367 398.7 L368.32 402.18 L371.8 403.5 L368.32 404.82 L367 408.3 L365.68 404.82 L362.2 403.5 L365.68 402.18Z" fill="#ff10ff"/>
<path d="M377.6 388.6 L378.92 392.08 L382.4 393.4 L378.92 394.72 L377.6 398.2 L376.28 394.72 L372.8 393.4 L376.28 392.08Z" fill="#ff10ff"/>
<path d="M386.4 382 L387.72 385.48 L391.2 386.8 L387.72 388.12 L386.4 391.6 L385.08 388.12 L381.6 386.8 L385.08 385.48Z" fill="#952f0a"/>
<path d="M382.9 382.8 L384.22 386.28 L387.7 387.6 L384.22 388.92 L382.9 392.4 L381.58 388.92 L378.1 387.6 L381.58 386.28Z" fill="#6e0a82"/>
<path d="M375.9 397.8 L377.22 401.28 L380.7 402.6 L377.22 403.92 L375.9 407.4 L374.58 403.92 L371.1 402.6 L374.58 401.28Z" fill="#f00000"/>
<path d="M354.7 411.1 L356.02 414.58 L359.5 415.9 L356.02 417.22 L354.7 420.7 L353.38 417.22 L349.9 415.9 L353.38 414.58Z" fill="#6e0a82"/>
<path d="M360.9 415 L362.22 418.48 L365.7 419.8 L362.22 421.12 L360.9 424.6 L359.58 421.12 L356.1 419.8 L359.58 418.48Z" fill="#ff10ff"/>
<path d="M352.9 419.9 L354.22 423.38 L357.7 424.7 L354.22 426.02 L352.9 429.5 L351.58 426.02 L348.1 424.7 L351.58 423.38Z" fill="#ff10ff"/>
<path d="M349.4 417.7 L350.72 421.18 L354.2 422.5 L350.72 423.82 L349.4 427.3 L348.08 423.82 L344.6 422.5 L348.08 421.18Z" fill="#6e0a82"/>
<path d="M355.6 426.9 L356.92 430.38 L360.4 431.7 L356.92 433.02 L355.6 436.5 L354.28 433.02 L350.8 431.7 L354.28 430.38Z" fill="#ff10ff"/>
<path d="M364.8 423.4 L366.12 426.88 L369.6 428.2 L366.12 429.52 L364.8 433 L363.48 429.52 L360 428.2 L363.48 426.88Z" fill="#6e0a82"/>
<path d="M371.5 420.8 L372.82 424.28 L376.3 425.6 L372.82 426.92 L371.5 430.4 L370.18 426.92 L366.7 425.6 L370.18 424.28Z" fill="#6e0a82"/>
<path d="M383.8 414.2 L385.12 417.68 L388.6 419 L385.12 420.32 L383.8 423.8 L382.48 420.32 L379 419 L382.48 417.68Z" fill="#ff6a0a"/>
<path d="M378.5 417.2 L379.82 420.68 L383.3 422 L379.82 423.32 L378.5 426.8 L377.18 423.32 L373.7 422 L377.18 420.68Z" fill="#6e0a82"/>
<path d="M380.3 421.6 L381.62 425.08 L385.1 426.4 L381.62 427.72 L380.3 431.2 L378.98 427.72 L375.5 426.4 L378.98 425.08Z" fill="#ff10ff"/>
<path d="M380.3 428.7 L381.62 432.18 L385.1 433.5 L381.62 434.82 L380.3 438.3 L378.98 434.82 L375.5 433.5 L378.98 432.18Z" fill="#ff6a0a"/>
<path d="M353.2 420 L354.52 423.48 L358 424.8 L354.52 426.12 L353.2 429.6 L351.88 426.12 L348.4 424.8 L351.88 423.48Z" fill="#ff10ff"/>
<path d="M356.4 428.4 L357.72 431.88 L361.2 433.2 L357.72 434.52 L356.4 438 L355.08 434.52 L351.6 433.2 L355.08 431.88Z" fill="#ff10ff"/>
<path d="M350 436.4 L351.32 439.88 L354.8 441.2 L351.32 442.52 L350 446 L348.68 442.52 L345.2 441.2 L348.68 439.88Z" fill="#ff10ff"/>
<path d="M346.3 445.4 L347.62 448.88 L351.1 450.2 L347.62 451.52 L346.3 455 L344.98 451.52 L341.5 450.2 L344.98 448.88Z" fill="#ff10ff"/>
<path d="M350.6 444.3 L351.92 447.78 L355.4 449.1 L351.92 450.42 L350.6 453.9 L349.28 450.42 L345.8 449.1 L349.28 447.78Z" fill="#ff10ff"/>
<path d="M358.5 446.4 L359.82 449.88 L363.3 451.2 L359.82 452.52 L358.5 456 L357.18 452.52 L353.7 451.2 L357.18 449.88Z" fill="#ff6a0a"/>
<path d="M382.3 433.2 L383.62 436.68 L387.1 438 L383.62 439.32 L382.3 442.8 L380.98 439.32 L377.5 438 L380.98 436.68Z" fill="#ffff10"/>
<path d="M381.3 428.4 L382.62 431.88 L386.1 433.2 L382.62 434.52 L381.3 438 L379.98 434.52 L376.5 433.2 L379.98 431.88Z" fill="#ff6a0a"/>
<path d="M378.6 445.4 L379.92 448.88 L383.4 450.2 L379.92 451.52 L378.6 455 L377.28 451.52 L373.8 450.2 L377.28 448.88Z" fill="#6e0a82"/>
<path d="M379.7 446.4 L381.02 449.88 L384.5 451.2 L381.02 452.52 L379.7 456 L378.38 452.52 L374.9 451.2 L378.38 449.88Z" fill="#6e0a82"/>
<path d="M364.9 423.7 L366.22 427.18 L369.7 428.5 L366.22 429.82 L364.9 433.3 L363.58 429.82 L360.1 428.5 L363.58 427.18Z" fill="#6e0a82"/>
<path d="M371.7 427.9 L373.02 431.38 L376.5 432.7 L373.02 434.02 L371.7 437.5 L370.38 434.02 L366.9 432.7 L370.38 431.38Z" fill="#6e0a82"/>
<path d="M365.4 431.1 L366.72 434.58 L370.2 435.9 L366.72 437.22 L365.4 440.7 L364.08 437.22 L360.6 435.9 L364.08 434.58Z" fill="#ff10ff"/>
<path d="M370.7 432.1 L372.02 435.58 L375.5 436.9 L372.02 438.22 L370.7 441.7 L369.38 438.22 L365.9 436.9 L369.38 435.58Z" fill="#ff10ff"/>
<path d="M341.1 428.4 L342.42 431.88 L345.9 433.2 L342.42 434.52 L341.1 438 L339.78 434.52 L336.3 433.2 L339.78 431.88Z" fill="#ff10ff"/>
<path d="M361.2 416.2 L362.52 419.68 L366 421 L362.52 422.32 L361.2 425.8 L359.88 422.32 L356.4 421 L359.88 419.68Z" fill="#ff10ff"/>
<path d="M303.8 440.8 L305.12 444.28 L308.6 445.6 L305.12 446.92 L303.8 450.4 L302.48 446.92 L299 445.6 L302.48 444.28Z" fill="#ff10ff"/>
<path d="M330.2 426.7 L331.52 430.18 L335 431.5 L331.52 432.82 L330.2 436.3 L328.88 432.82 L325.4 431.5 L328.88 430.18Z" fill="#ff10ff"/>
<path d="M335.5 427.8 L336.82 431.28 L340.3 432.6 L336.82 433.92 L335.5 437.4 L334.18 433.92 L330.7 432.6 L334.18 431.28Z" fill="#f00000"/>
<path d="M338.1 429.1 L339.42 432.58 L342.9 433.9 L339.42 435.22 L338.1 438.7 L336.78 435.22 L333.3 433.9 L336.78 432.58Z" fill="#ff10ff"/>
<path d="M348.2 418.2 L349.52 421.68 L353 423 L349.52 424.32 L348.2 427.8 L346.88 424.32 L343.4 423 L346.88 421.68Z" fill="#6e0a82"/>
<path d="M348.2 436.8 L349.52 440.28 L353 441.6 L349.52 442.92 L348.2 446.4 L346.88 442.92 L343.4 441.6 L346.88 440.28Z" fill="#ff10ff"/>
<path d="M346.6 445.2 L347.92 448.68 L351.4 450 L347.92 451.32 L346.6 454.8 L345.28 451.32 L341.8 450 L345.28 448.68Z" fill="#ff10ff"/>
<path d="M426.92 317.45 L427.8 319.67 L430.02 320.55 L427.8 321.43 L426.92 323.65 L426.05 321.43 L423.82 320.55 L426.05 319.67Z" fill="#9c9c9c"/>
<path d="M424.24 315.89 L425.12 318.12 L427.34 318.99 L425.12 319.87 L424.24 322.09 L423.36 319.87 L421.14 318.99 L423.36 318.12Z" fill="#9c9c9c"/>
<path d="M421.75 313.38 L422.63 315.6 L424.85 316.48 L422.63 317.35 L421.75 319.58 L420.88 317.35 L418.65 316.48 L420.88 315.6Z" fill="#9c9c9c"/>
<path d="M417.88 312.96 L418.76 315.18 L420.98 316.06 L418.76 316.94 L417.88 319.16 L417 316.94 L414.78 316.06 L417 315.18Z" fill="#9c9c9c"/>
<path d="M425.77 319.37 L426.64 321.59 L428.87 322.47 L426.64 323.35 L425.77 325.57 L424.89 323.35 L422.67 322.47 L424.89 321.59Z" fill="#9c9c9c"/>
<path d="M423.96 318.04 L424.83 320.26 L427.06 321.14 L424.83 322.02 L423.96 324.24 L423.08 322.02 L420.86 321.14 L423.08 320.26Z" fill="#9c9c9c"/>
<path d="M420.71 316.34 L421.59 318.56 L423.81 319.44 L421.59 320.32 L420.71 322.54 L419.83 320.32 L417.61 319.44 L419.83 318.56Z" fill="#9c9c9c"/>
<path d="M417.4 314.11 L418.28 316.33 L420.5 317.21 L418.28 318.09 L417.4 320.31 L416.53 318.09 L414.3 317.21 L416.53 316.33Z" fill="#9c9c9c"/>
<path d="M425.18 322.8 L426.06 325.02 L428.28 325.9 L426.06 326.78 L425.18 329 L424.3 326.78 L422.08 325.9 L424.3 325.02Z" fill="#9c9c9c"/>
<path d="M422.69 321.28 L423.56 323.5 L425.79 324.38 L423.56 325.25 L422.69 327.48 L421.81 325.25 L419.59 324.38 L421.81 323.5Z" fill="#9c9c9c"/>
<path d="M420.61 318.87 L421.48 321.09 L423.71 321.97 L421.48 322.85 L420.61 325.07 L419.73 322.85 L417.51 321.97 L419.73 321.09Z" fill="#9c9c9c"/>
<path d="M418.43 318.39 L419.31 320.61 L421.53 321.49 L419.31 322.37 L418.43 324.59 L417.55 322.37 L415.33 321.49 L417.55 320.61Z" fill="#9c9c9c"/>
<path d="M415.38 316.17 L416.26 318.39 L418.48 319.27 L416.26 320.15 L415.38 322.37 L414.51 320.15 L412.28 319.27 L414.51 318.39Z" fill="#9c9c9c"/>
<path d="M424.36 324.59 L425.24 326.81 L427.46 327.69 L425.24 328.56 L424.36 330.79 L423.48 328.56 L421.26 327.69 L423.48 326.81Z" fill="#9c9c9c"/>
<path d="M421.74 323.87 L422.61 326.09 L424.84 326.97 L422.61 327.85 L421.74 330.07 L420.86 327.85 L418.64 326.97 L420.86 326.09Z" fill="#9c9c9c"/>
<path d="M419.34 322.57 L420.22 324.8 L422.44 325.67 L420.22 326.55 L419.34 328.77 L418.47 326.55 L416.24 325.67 L418.47 324.8Z" fill="#9c9c9c"/>
<path d="M416.44 321.02 L417.32 323.24 L419.54 324.12 L417.32 324.99 L416.44 327.22 L415.57 324.99 L413.34 324.12 L415.57 323.24Z" fill="#9c9c9c"/>
<path d="M414.14 319.87 L415.01 322.09 L417.24 322.97 L415.01 323.84 L414.14 326.07 L413.26 323.84 L411.04 322.97 L413.26 322.09Z" fill="#9c9c9c"/>
<path d="M423.19 326.4 L424.07 328.62 L426.29 329.5 L424.07 330.38 L423.19 332.6 L422.32 330.38 L420.09 329.5 L422.32 328.62Z" fill="#9c9c9c"/>
<path d="M419.54 325.19 L420.42 327.41 L422.64 328.29 L420.42 329.16 L419.54 331.39 L418.67 329.16 L416.44 328.29 L418.67 327.41Z" fill="#9c9c9c"/>
<path d="M418.41 324.13 L419.29 326.35 L421.51 327.23 L419.29 328.11 L418.41 330.33 L417.53 328.11 L415.31 327.23 L417.53 326.35Z" fill="#9c9c9c"/>
<path d="M415.41 322.51 L416.29 324.73 L418.51 325.61 L416.29 326.49 L415.41 328.71 L414.53 326.49 L412.31 325.61 L414.53 324.73Z" fill="#9c9c9c"/>
<path d="M412.76 321.24 L413.64 323.46 L415.86 324.34 L413.64 325.22 L412.76 327.44 L411.88 325.22 L409.66 324.34 L411.88 323.46Z" fill="#9c9c9c"/>
<path d="M421.16 329.6 L422.04 331.82 L424.26 332.7 L422.04 333.57 L421.16 335.8 L420.28 333.57 L418.06 332.7 L420.28 331.82Z" fill="#9c9c9c"/>
<path d="M419 328.66 L419.88 330.88 L422.1 331.76 L419.88 332.64 L419 334.86 L418.12 332.64 L415.9 331.76 L418.12 330.88Z" fill="#9c9c9c"/>
<path d="M416.62 327.25 L417.5 329.48 L419.72 330.35 L417.5 331.23 L416.62 333.45 L415.75 331.23 L413.52 330.35 L415.75 329.48Z" fill="#9c9c9c"/>
<path d="M414.37 325.91 L415.25 328.13 L417.47 329.01 L415.25 329.88 L414.37 332.11 L413.49 329.88 L411.27 329.01 L413.49 328.13Z" fill="#9c9c9c"/>
<path d="M411.54 323.13 L412.42 325.36 L414.64 326.23 L412.42 327.11 L411.54 329.33 L410.67 327.11 L408.44 326.23 L410.67 325.36Z" fill="#9c9c9c"/>
<path d="M420.86 332.49 L421.74 334.71 L423.96 335.59 L421.74 336.46 L420.86 338.69 L419.98 336.46 L417.76 335.59 L419.98 334.71Z" fill="#9c9c9c"/>
<path d="M418.29 330.43 L419.17 332.66 L421.39 333.53 L419.17 334.41 L418.29 336.63 L417.41 334.41 L415.19 333.53 L417.41 332.66Z" fill="#9c9c9c"/>
<path d="M415.34 328.44 L416.22 330.66 L418.44 331.54 L416.22 332.41 L415.34 334.64 L414.47 332.41 L412.24 331.54 L414.47 330.66Z" fill="#9c9c9c"/>
<path d="M412.89 327.6 L413.77 329.82 L415.99 330.7 L413.77 331.57 L412.89 333.8 L412.01 331.57 L409.79 330.7 L412.01 329.82Z" fill="#9c9c9c"/>
<path d="M409.37 325.36 L410.25 327.58 L412.47 328.46 L410.25 329.33 L409.37 331.56 L408.5 329.33 L406.27 328.46 L408.5 327.58Z" fill="#9c9c9c"/>
<path d="M419.1 334.94 L419.97 337.16 L422.2 338.04 L419.97 338.92 L419.1 341.14 L418.22 338.92 L416 338.04 L418.22 337.16Z" fill="#9c9c9c"/>
<path d="M415.41 333.31 L416.28 335.53 L418.51 336.41 L416.28 337.29 L415.41 339.51 L414.53 337.29 L412.31 336.41 L414.53 335.53Z" fill="#9c9c9c"/>
<path d="M413.46 330.94 L414.33 333.16 L416.56 334.04 L414.33 334.92 L413.46 337.14 L412.58 334.92 L410.36 334.04 L412.58 333.16Z" fill="#9c9c9c"/>
<path d="M410.8 330.6 L411.68 332.83 L413.9 333.7 L411.68 334.58 L410.8 336.8 L409.93 334.58 L407.7 333.7 L409.93 332.83Z" fill="#9c9c9c"/>
<path d="M409.27 328.12 L410.14 330.34 L412.37 331.22 L410.14 332.09 L409.27 334.32 L408.39 332.09 L406.17 331.22 L408.39 330.34Z" fill="#9c9c9c"/>
<path d="M416.96 335.84 L417.84 338.06 L420.06 338.94 L417.84 339.81 L416.96 342.04 L416.08 339.81 L413.86 338.94 L416.08 338.06Z" fill="#9c9c9c"/>
<path d="M414.84 335.06 L415.72 337.29 L417.94 338.16 L415.72 339.04 L414.84 341.26 L413.96 339.04 L411.74 338.16 L413.96 337.29Z" fill="#9c9c9c"/>
<path d="M412.81 334.87 L413.69 337.09 L415.91 337.97 L413.69 338.85 L412.81 341.07 L411.93 338.85 L409.71 337.97 L411.93 337.09Z" fill="#9c9c9c"/>
<path d="M409.92 333.66 L410.8 335.89 L413.02 336.76 L410.8 337.64 L409.92 339.86 L409.04 337.64 L406.82 336.76 L409.04 335.89Z" fill="#9c9c9c"/>
<path d="M407.32 330.96 L408.19 333.18 L410.42 334.06 L408.19 334.93 L407.32 337.16 L406.44 334.93 L404.22 334.06 L406.44 333.18Z" fill="#9c9c9c"/>
<path d="M415.19 338.23 L416.06 340.45 L418.29 341.33 L416.06 342.2 L415.19 344.43 L414.31 342.2 L412.09 341.33 L414.31 340.45Z" fill="#9c9c9c"/>
<path d="M411.72 337.31 L412.6 339.53 L414.82 340.41 L412.6 341.29 L411.72 343.51 L410.85 341.29 L408.62 340.41 L410.85 339.53Z" fill="#9c9c9c"/>
<path d="M409.57 335.39 L410.44 337.61 L412.67 338.49 L410.44 339.37 L409.57 341.59 L408.69 339.37 L406.47 338.49 L408.69 337.61Z" fill="#9c9c9c"/>
<path d="M405.84 335.01 L406.72 337.24 L408.94 338.11 L406.72 338.99 L405.84 341.21 L404.96 338.99 L402.74 338.11 L404.96 337.24Z" fill="#9c9c9c"/>
<path d="M412.98 342.12 L413.85 344.34 L416.08 345.22 L413.85 346.1 L412.98 348.32 L412.1 346.1 L409.88 345.22 L412.1 344.34Z" fill="#9c9c9c"/>
<path d="M411.33 339.8 L412.2 342.02 L414.43 342.9 L412.2 343.78 L411.33 346 L410.45 343.78 L408.23 342.9 L410.45 342.02Z" fill="#9c9c9c"/>
<path d="M408.05 338.64 L408.92 340.86 L411.15 341.74 L408.92 342.61 L408.05 344.84 L407.17 342.61 L404.95 341.74 L407.17 340.86Z" fill="#9c9c9c"/>
<path d="M405.76 337.37 L406.63 339.59 L408.86 340.47 L406.63 341.34 L405.76 343.57 L404.88 341.34 L402.66 340.47 L404.88 339.59Z" fill="#9c9c9c"/>
<path d="M411.73 343.77 L412.6 345.99 L414.83 346.87 L412.6 347.75 L411.73 349.97 L410.85 347.75 L408.63 346.87 L410.85 345.99Z" fill="#9c9c9c"/>
<path d="M409.92 342.47 L410.79 344.69 L413.02 345.57 L410.79 346.45 L409.92 348.67 L409.04 346.45 L406.82 345.57 L409.04 344.69Z" fill="#9c9c9c"/>
<path d="M406.68 341.69 L407.56 343.92 L409.78 344.79 L407.56 345.67 L406.68 347.89 L405.8 345.67 L403.58 344.79 L405.8 343.92Z" fill="#9c9c9c"/>
<path d="M403.95 339.91 L404.83 342.13 L407.05 343.01 L404.83 343.88 L403.95 346.11 L403.07 343.88 L400.85 343.01 L403.07 342.13Z" fill="#9c9c9c"/>
<path d="M410.83 346.04 L411.71 348.27 L413.93 349.14 L411.71 350.02 L410.83 352.24 L409.96 350.02 L407.73 349.14 L409.96 348.27Z" fill="#9c9c9c"/>
<path d="M406.88 343.72 L407.75 345.94 L409.98 346.82 L407.75 347.7 L406.88 349.92 L406 347.7 L403.78 346.82 L406 345.94Z" fill="#9c9c9c"/>
<path d="M403.4 343.12 L404.27 345.34 L406.5 346.22 L404.27 347.1 L403.4 349.32 L402.52 347.1 L400.3 346.22 L402.52 345.34Z" fill="#9c9c9c"/>
<path d="M407.74 348.63 L408.61 350.85 L410.84 351.73 L408.61 352.6 L407.74 354.83 L406.86 352.6 L404.64 351.73 L406.86 350.85Z" fill="#9c9c9c"/>
<path d="M405.81 346.4 L406.69 348.62 L408.91 349.5 L406.69 350.37 L405.81 352.6 L404.93 350.37 L402.71 349.5 L404.93 348.62Z" fill="#9c9c9c"/>
<path d="M402.9 345.71 L403.78 347.93 L406 348.81 L403.78 349.68 L402.9 351.91 L402.02 349.68 L399.8 348.81 L402.02 347.93Z" fill="#9c9c9c"/>
<path d="M407.23 350.64 L408.11 352.86 L410.33 353.74 L408.11 354.61 L407.23 356.84 L406.35 354.61 L404.13 353.74 L406.35 352.86Z" fill="#9c9c9c"/>
<path d="M404.73 350.08 L405.61 352.3 L407.83 353.18 L405.61 354.06 L404.73 356.28 L403.85 354.06 L401.63 353.18 L403.85 352.3Z" fill="#9c9c9c"/>
<path d="M401.09 347.82 L401.97 350.05 L404.19 350.92 L401.97 351.8 L401.09 354.02 L400.22 351.8 L397.99 350.92 L400.22 350.05Z" fill="#9c9c9c"/>
<path d="M405.66 354.05 L406.54 356.27 L408.76 357.15 L406.54 358.02 L405.66 360.25 L404.78 358.02 L402.56 357.15 L404.78 356.27Z" fill="#9c9c9c"/>
<path d="M400.62 351.22 L401.5 353.45 L403.72 354.32 L401.5 355.2 L400.62 357.42 L399.75 355.2 L397.52 354.32 L399.75 353.45Z" fill="#9c9c9c"/>
<path d="M404.03 355.28 L404.91 357.51 L407.13 358.38 L404.91 359.26 L404.03 361.48 L403.15 359.26 L400.93 358.38 L403.15 357.51Z" fill="#9c9c9c"/>
<path d="M399.9 353.93 L400.78 356.15 L403 357.03 L400.78 357.9 L399.9 360.13 L399.02 357.9 L396.8 357.03 L399.02 356.15Z" fill="#9c9c9c"/>
<path d="M402.67 358.53 L403.55 360.75 L405.77 361.63 L403.55 362.5 L402.67 364.73 L401.8 362.5 L399.57 361.63 L401.8 360.75Z" fill="#9c9c9c"/>
<path d="M398.8 356.83 L399.67 359.05 L401.9 359.93 L399.67 360.81 L398.8 363.03 L397.92 360.81 L395.7 359.93 L397.92 359.05Z" fill="#9c9c9c"/>
<path d="M402.32 360.42 L403.2 362.64 L405.42 363.52 L403.2 364.39 L402.32 366.62 L401.44 364.39 L399.22 363.52 L401.44 362.64Z" fill="#9c9c9c"/>
<path d="M398.23 360.2 L399.1 362.43 L401.33 363.3 L399.1 364.18 L398.23 366.4 L397.35 364.18 L395.13 363.3 L397.35 362.43Z" fill="#9c9c9c"/>
<path d="M400.58 363.53 L401.46 365.75 L403.68 366.63 L401.46 367.51 L400.58 369.73 L399.7 367.51 L397.48 366.63 L399.7 365.75Z" fill="#9c9c9c"/>
<path d="M397.6 362.21 L398.48 364.43 L400.7 365.31 L398.48 366.19 L397.6 368.41 L396.73 366.19 L394.5 365.31 L396.73 364.43Z" fill="#9c9c9c"/>
<path d="M399.38 366.67 L400.26 368.89 L402.48 369.77 L400.26 370.65 L399.38 372.87 L398.51 370.65 L396.28 369.77 L398.51 368.89Z" fill="#9c9c9c"/>
<path d="M396.43 364.79 L397.31 367.01 L399.53 367.89 L397.31 368.77 L396.43 370.99 L395.56 368.77 L393.33 367.89 L395.56 367.01Z" fill="#9c9c9c"/>
<path d="M398.58 369.35 L399.46 371.58 L401.68 372.45 L399.46 373.33 L398.58 375.55 L397.71 373.33 L395.48 372.45 L397.71 371.58Z" fill="#9c9c9c"/>
<path d="M395.67 368.08 L396.54 370.31 L398.77 371.18 L396.54 372.06 L395.67 374.28 L394.79 372.06 L392.57 371.18 L394.79 370.31Z" fill="#9c9c9c"/>
<path d="M398.53 371.72 L399.41 373.95 L401.63 374.82 L399.41 375.7 L398.53 377.92 L397.65 375.7 L395.43 374.82 L397.65 373.95Z" fill="#9c9c9c"/>
<path d="M393.78 370.99 L394.66 373.21 L396.88 374.09 L394.66 374.96 L393.78 377.19 L392.9 374.96 L390.68 374.09 L392.9 373.21Z" fill="#9c9c9c"/>
<path d="M397.67 374.81 L398.55 377.03 L400.77 377.91 L398.55 378.79 L397.67 381.01 L396.79 378.79 L394.57 377.91 L396.79 377.03Z" fill="#9c9c9c"/>
<path d="M392.51 372.7 L393.38 374.93 L395.61 375.8 L393.38 376.68 L392.51 378.9 L391.63 376.68 L389.41 375.8 L391.63 374.93Z" fill="#9c9c9c"/>
<path d="M396.19 377.03 L397.07 379.25 L399.29 380.13 L397.07 381.01 L396.19 383.23 L395.32 381.01 L393.09 380.13 L395.32 379.25Z" fill="#9c9c9c"/>
<path d="M392.34 376.42 L393.22 378.64 L395.44 379.52 L393.22 380.39 L392.34 382.62 L391.47 380.39 L389.24 379.52 L391.47 378.64Z" fill="#9c9c9c"/>
<path d="M394.73 379.81 L395.61 382.03 L397.83 382.91 L395.61 383.78 L394.73 386.01 L393.86 383.78 L391.63 382.91 L393.86 382.03Z" fill="#9c9c9c"/>
<path d="M391.25 378.67 L392.13 380.89 L394.35 381.77 L392.13 382.64 L391.25 384.87 L390.37 382.64 L388.15 381.77 L390.37 380.89Z" fill="#9c9c9c"/>
<path d="M394.82 382.55 L395.7 384.77 L397.92 385.65 L395.7 386.53 L394.82 388.75 L393.95 386.53 L391.72 385.65 L393.95 384.77Z" fill="#9c9c9c"/>
<path d="M389.07 380.67 L389.95 382.89 L392.17 383.77 L389.95 384.65 L389.07 386.87 L388.2 384.65 L385.97 383.77 L388.2 382.89Z" fill="#9c9c9c"/>
<path d="M394.08 385.14 L394.96 387.36 L397.18 388.24 L394.96 389.12 L394.08 391.34 L393.21 389.12 L390.98 388.24 L393.21 387.36Z" fill="#9c9c9c"/>
<path d="M390.75 384.37 L391.63 386.59 L393.85 387.47 L391.63 388.34 L390.75 390.57 L389.88 388.34 L387.65 387.47 L389.88 386.59Z" fill="#9c9c9c"/>
<path d="M388.26 383.35 L389.14 385.57 L391.36 386.45 L389.14 387.33 L388.26 389.55 L387.38 387.33 L385.16 386.45 L387.38 385.57Z" fill="#9c9c9c"/>
<path d="M393.57 387.66 L394.44 389.89 L396.67 390.76 L394.44 391.64 L393.57 393.86 L392.69 391.64 L390.47 390.76 L392.69 389.89Z" fill="#9c9c9c"/>
<path d="M389.21 387.81 L390.08 390.03 L392.31 390.91 L390.08 391.79 L389.21 394.01 L388.33 391.79 L386.11 390.91 L388.33 390.03Z" fill="#9c9c9c"/>
<path d="M387.71 386.77 L388.59 388.99 L390.81 389.87 L388.59 390.74 L387.71 392.97 L386.84 390.74 L384.61 389.87 L386.84 388.99Z" fill="#9c9c9c"/>
<path d="M392.07 391.64 L392.95 393.86 L395.17 394.74 L392.95 395.62 L392.07 397.84 L391.19 395.62 L388.97 394.74 L391.19 393.86Z" fill="#9c9c9c"/>
<path d="M389.68 389.26 L390.56 391.48 L392.78 392.36 L390.56 393.23 L389.68 395.46 L388.81 393.23 L386.58 392.36 L388.81 391.48Z" fill="#9c9c9c"/>
<path d="M386.22 389.02 L387.1 391.24 L389.32 392.12 L387.1 393 L386.22 395.22 L385.34 393 L383.12 392.12 L385.34 391.24Z" fill="#9c9c9c"/>
<path d="M391.71 393.66 L392.59 395.88 L394.81 396.76 L392.59 397.64 L391.71 399.86 L390.84 397.64 L388.61 396.76 L390.84 395.88Z" fill="#9c9c9c"/>
<path d="M387.66 392.05 L388.54 394.27 L390.76 395.15 L388.54 396.02 L387.66 398.25 L386.79 396.02 L384.56 395.15 L386.79 394.27Z" fill="#9c9c9c"/>
<path d="M384.11 390.28 L384.99 392.5 L387.21 393.38 L384.99 394.26 L384.11 396.48 L383.23 394.26 L381.01 393.38 L383.23 392.5Z" fill="#9c9c9c"/>
<path d="M390.72 396.35 L391.6 398.57 L393.82 399.45 L391.6 400.32 L390.72 402.55 L389.84 400.32 L387.62 399.45 L389.84 398.57Z" fill="#9c9c9c"/>
<path d="M388.69 394.77 L389.57 396.99 L391.79 397.87 L389.57 398.75 L388.69 400.97 L387.81 398.75 L385.59 397.87 L387.81 396.99Z" fill="#9c9c9c"/>
<path d="M386.45 394.61 L387.33 396.84 L389.55 397.71 L387.33 398.59 L386.45 400.81 L385.58 398.59 L383.35 397.71 L385.58 396.84Z" fill="#9c9c9c"/>
<path d="M384.1 393.75 L384.98 395.97 L387.2 396.85 L384.98 397.72 L384.1 399.95 L383.22 397.72 L381 396.85 L383.22 395.97Z" fill="#9c9c9c"/>
<path d="M390.2 399.3 L391.07 401.52 L393.3 402.4 L391.07 403.28 L390.2 405.5 L389.32 403.28 L387.1 402.4 L389.32 401.52Z" fill="#9c9c9c"/>
<path d="M386.27 398.32 L387.15 400.54 L389.37 401.42 L387.15 402.3 L386.27 404.52 L385.4 402.3 L383.17 401.42 L385.4 400.54Z" fill="#9c9c9c"/>
<path d="M384.02 396.35 L384.9 398.58 L387.12 399.45 L384.9 400.33 L384.02 402.55 L383.15 400.33 L380.92 399.45 L383.15 398.58Z" fill="#9c9c9c"/>
<path d="M382.3 395.46 L383.18 397.68 L385.4 398.56 L383.18 399.44 L382.3 401.66 L381.43 399.44 L379.2 398.56 L381.43 397.68Z" fill="#9c9c9c"/>
<path d="M388.4 402.37 L389.27 404.59 L391.5 405.47 L389.27 406.35 L388.4 408.57 L387.52 406.35 L385.3 405.47 L387.52 404.59Z" fill="#9c9c9c"/>
<path d="M386.09 400.1 L386.97 402.33 L389.19 403.2 L386.97 404.08 L386.09 406.3 L385.21 404.08 L382.99 403.2 L385.21 402.33Z" fill="#9c9c9c"/>
<path d="M382.89 399.62 L383.77 401.85 L385.99 402.72 L383.77 403.6 L382.89 405.82 L382.02 403.6 L379.79 402.72 L382.02 401.85Z" fill="#9c9c9c"/>
<path d="M380.63 398.18 L381.5 400.41 L383.73 401.28 L381.5 402.16 L380.63 404.38 L379.75 402.16 L377.53 401.28 L379.75 400.41Z" fill="#9c9c9c"/>
<path d="M387.28 403.67 L388.15 405.9 L390.38 406.77 L388.15 407.65 L387.28 409.87 L386.4 407.65 L384.18 406.77 L386.4 405.9Z" fill="#9c9c9c"/>
<path d="M384.83 403.29 L385.7 405.52 L387.93 406.39 L385.7 407.27 L384.83 409.49 L383.95 407.27 L381.73 406.39 L383.95 405.52Z" fill="#9c9c9c"/>
<path d="M381.5 401.88 L382.38 404.1 L384.6 404.98 L382.38 405.86 L381.5 408.08 L380.63 405.86 L378.4 404.98 L380.63 404.1Z" fill="#9c9c9c"/>
<path d="M379.96 400.53 L380.84 402.76 L383.06 403.63 L380.84 404.51 L379.96 406.73 L379.08 404.51 L376.86 403.63 L379.08 402.76Z" fill="#9c9c9c"/>
<path d="M387.01 405.86 L387.89 408.08 L390.11 408.96 L387.89 409.84 L387.01 412.06 L386.13 409.84 L383.91 408.96 L386.13 408.08Z" fill="#9c9c9c"/>
<path d="M383.84 405.8 L384.71 408.02 L386.94 408.9 L384.71 409.77 L383.84 412 L382.96 409.77 L380.74 408.9 L382.96 408.02Z" fill="#9c9c9c"/>
<path d="M380.05 403.42 L380.93 405.64 L383.15 406.52 L380.93 407.4 L380.05 409.62 L379.17 407.4 L376.95 406.52 L379.17 405.64Z" fill="#9c9c9c"/>
<path d="M377.54 402.4 L378.41 404.62 L380.64 405.5 L378.41 406.37 L377.54 408.6 L376.66 406.37 L374.44 405.5 L376.66 404.62Z" fill="#9c9c9c"/>
<path d="M385.16 409.43 L386.04 411.65 L388.26 412.53 L386.04 413.41 L385.16 415.63 L384.29 413.41 L382.06 412.53 L384.29 411.65Z" fill="#9c9c9c"/>
<path d="M382.87 406.96 L383.75 409.18 L385.97 410.06 L383.75 410.94 L382.87 413.16 L381.99 410.94 L379.77 410.06 L381.99 409.18Z" fill="#9c9c9c"/>
<path d="M378.86 405.45 L379.74 407.67 L381.96 408.55 L379.74 409.42 L378.86 411.65 L377.98 409.42 L375.76 408.55 L377.98 407.67Z" fill="#9c9c9c"/>
<path d="M376.11 403.64 L376.99 405.86 L379.21 406.74 L376.99 407.61 L376.11 409.84 L375.24 407.61 L373.01 406.74 L375.24 405.86Z" fill="#9c9c9c"/>
<path d="M384.33 412.41 L385.21 414.63 L387.43 415.51 L385.21 416.39 L384.33 418.61 L383.46 416.39 L381.23 415.51 L383.46 414.63Z" fill="#9c9c9c"/>
<path d="M380.2 410.22 L381.07 412.44 L383.3 413.32 L381.07 414.19 L380.2 416.42 L379.32 414.19 L377.1 413.32 L379.32 412.44Z" fill="#9c9c9c"/>
<path d="M377.85 408.29 L378.72 410.51 L380.95 411.39 L378.72 412.27 L377.85 414.49 L376.97 412.27 L374.75 411.39 L376.97 410.51Z" fill="#9c9c9c"/>
<path d="M375.19 407.19 L376.07 409.41 L378.29 410.29 L376.07 411.17 L375.19 413.39 L374.31 411.17 L372.09 410.29 L374.31 409.41Z" fill="#9c9c9c"/>
<path d="M382 413.99 L382.87 416.22 L385.1 417.09 L382.87 417.97 L382 420.19 L381.12 417.97 L378.9 417.09 L381.12 416.22Z" fill="#9c9c9c"/>
<path d="M378.79 412.4 L379.67 414.62 L381.89 415.5 L379.67 416.37 L378.79 418.6 L377.92 416.37 L375.69 415.5 L377.92 414.62Z" fill="#9c9c9c"/>
<path d="M376.11 411.22 L376.99 413.44 L379.21 414.32 L376.99 415.19 L376.11 417.42 L375.23 415.19 L373.01 414.32 L375.23 413.44Z" fill="#9c9c9c"/>
<path d="M374.49 409.39 L375.36 411.62 L377.59 412.49 L375.36 413.37 L374.49 415.59 L373.61 413.37 L371.39 412.49 L373.61 411.62Z" fill="#9c9c9c"/>
<path d="M379.47 416.07 L380.35 418.3 L382.57 419.17 L380.35 420.05 L379.47 422.27 L378.6 420.05 L376.37 419.17 L378.6 418.3Z" fill="#9c9c9c"/>
<path d="M377.51 415.3 L378.39 417.52 L380.61 418.4 L378.39 419.27 L377.51 421.5 L376.64 419.27 L374.41 418.4 L376.64 417.52Z" fill="#9c9c9c"/>
<path d="M375.74 413.48 L376.61 415.7 L378.84 416.58 L376.61 417.46 L375.74 419.68 L374.86 417.46 L372.64 416.58 L374.86 415.7Z" fill="#9c9c9c"/>
<path d="M373.34 412.41 L374.21 414.63 L376.44 415.51 L374.21 416.39 L373.34 418.61 L372.46 416.39 L370.24 415.51 L372.46 414.63Z" fill="#9c9c9c"/>
<path d="M435.2 299.3 L436.08 301.52 L438.3 302.4 L436.08 303.28 L435.2 305.5 L434.32 303.28 L432.1 302.4 L434.32 301.52Z" fill="#9c9c9c"/>
<path d="M424.8 304.4 L425.68 306.62 L427.9 307.5 L425.68 308.38 L424.8 310.6 L423.92 308.38 L421.7 307.5 L423.92 306.62Z" fill="#9c9c9c"/>
<path d="M430.6 310.1 L431.48 312.32 L433.7 313.2 L431.48 314.08 L430.6 316.3 L429.72 314.08 L427.5 313.2 L429.72 312.32Z" fill="#9c9c9c"/>
<path d="M438.4 309 L439.28 311.22 L441.5 312.1 L439.28 312.98 L438.4 315.2 L437.52 312.98 L435.3 312.1 L437.52 311.22Z" fill="#9c9c9c"/>
<path d="M417.4 312.5 L418.28 314.72 L420.5 315.6 L418.28 316.48 L417.4 318.7 L416.52 316.48 L414.3 315.6 L416.52 314.72Z" fill="#9c9c9c"/>
<path d="M422.7 313.1 L423.58 315.32 L425.8 316.2 L423.58 317.08 L422.7 319.3 L421.82 317.08 L419.6 316.2 L421.82 315.32Z" fill="#9c9c9c"/>
<path d="M431.2 316.2 L432.08 318.42 L434.3 319.3 L432.08 320.18 L431.2 322.4 L430.32 320.18 L428.1 319.3 L430.32 318.42Z" fill="#9c9c9c"/>
<path d="M437 318.9 L437.88 321.12 L440.1 322 L437.88 322.88 L437 325.1 L436.12 322.88 L433.9 322 L436.12 321.12Z" fill="#9c9c9c"/>
<path d="M430.1 319.4 L430.98 321.62 L433.2 322.5 L430.98 323.38 L430.1 325.6 L429.22 323.38 L427 322.5 L429.22 321.62Z" fill="#9c9c9c"/>
<path d="M447 326.3 L447.88 328.52 L450.1 329.4 L447.88 330.28 L447 332.5 L446.12 330.28 L443.9 329.4 L446.12 328.52Z" fill="#9c9c9c"/>
<path d="M443.3 328.4 L444.18 330.62 L446.4 331.5 L444.18 332.38 L443.3 334.6 L442.42 332.38 L440.2 331.5 L442.42 330.62Z" fill="#9c9c9c"/>
<path d="M428.5 326.8 L429.38 329.02 L431.6 329.9 L429.38 330.78 L428.5 333 L427.62 330.78 L425.4 329.9 L427.62 329.02Z" fill="#9c9c9c"/>
<path d="M423.2 331.1 L424.08 333.32 L426.3 334.2 L424.08 335.08 L423.2 337.3 L422.32 335.08 L420.1 334.2 L422.32 333.32Z" fill="#9c9c9c"/>
<path d="M436.5 335.3 L437.38 337.52 L439.6 338.4 L437.38 339.28 L436.5 341.5 L435.62 339.28 L433.4 338.4 L435.62 337.52Z" fill="#9c9c9c"/>
<path d="M428.5 335.3 L429.38 337.52 L431.6 338.4 L429.38 339.28 L428.5 341.5 L427.62 339.28 L425.4 338.4 L427.62 337.52Z" fill="#9c9c9c"/>
<path d="M424.8 338.5 L425.68 340.72 L427.9 341.6 L425.68 342.48 L424.8 344.7 L423.92 342.48 L421.7 341.6 L423.92 340.72Z" fill="#9c9c9c"/>
<path d="M430.1 342.2 L430.98 344.42 L433.2 345.3 L430.98 346.18 L430.1 348.4 L429.22 346.18 L427 345.3 L429.22 344.42Z" fill="#9c9c9c"/>
<path d="M428.5 346.9 L429.38 349.12 L431.6 350 L429.38 350.88 L428.5 353.1 L427.62 350.88 L425.4 350 L427.62 349.12Z" fill="#9c9c9c"/>
<path d="M423.2 348 L424.08 350.22 L426.3 351.1 L424.08 351.98 L423.2 354.2 L422.32 351.98 L420.1 351.1 L422.32 350.22Z" fill="#9c9c9c"/>
<path d="M414.2 328.9 L415.08 331.12 L417.3 332 L415.08 332.88 L414.2 335.1 L413.32 332.88 L411.1 332 L413.32 331.12Z" fill="#9c9c9c"/>
<path d="M412.1 336.3 L412.98 338.52 L415.2 339.4 L412.98 340.28 L412.1 342.5 L411.22 340.28 L409 339.4 L411.22 338.52Z" fill="#9c9c9c"/>
<path d="M413.2 344.8 L414.08 347.02 L416.3 347.9 L414.08 348.78 L413.2 351 L412.32 348.78 L410.1 347.9 L412.32 347.02Z" fill="#9c9c9c"/>
<path d="M413.2 320.5 L414.08 322.72 L416.3 323.6 L414.08 324.48 L413.2 326.7 L412.32 324.48 L410.1 323.6 L412.32 322.72Z" fill="#9c9c9c"/>
<path d="M493.1 305.6 L493.98 307.82 L496.2 308.7 L493.98 309.58 L493.1 311.8 L492.22 309.58 L490 308.7 L492.22 307.82Z" fill="#9c9c9c"/>
<path d="M404.7 319.7 L405.58 321.92 L407.8 322.8 L405.58 323.68 L404.7 325.9 L403.82 323.68 L401.6 322.8 L403.82 321.92Z" fill="#9c9c9c"/>
<path d="M417 312.6 L417.88 314.82 L420.1 315.7 L417.88 316.58 L417 318.8 L416.12 316.58 L413.9 315.7 L416.12 314.82Z" fill="#9c9c9c"/>
<path d="M422.3 313.1 L423.18 315.32 L425.4 316.2 L423.18 317.08 L422.3 319.3 L421.42 317.08 L419.2 316.2 L421.42 315.32Z" fill="#9c9c9c"/>
<path d="M420.6 316.6 L421.48 318.82 L423.7 319.7 L421.48 320.58 L420.6 322.8 L419.72 320.58 L417.5 319.7 L419.72 318.82Z" fill="#9c9c9c"/>
<path d="M410 321.9 L410.88 324.12 L413.1 325 L410.88 325.88 L410 328.1 L409.12 325.88 L406.9 325 L409.12 324.12Z" fill="#9c9c9c"/>
<path d="M411.7 327.2 L412.58 329.42 L414.8 330.3 L412.58 331.18 L411.7 333.4 L410.82 331.18 L408.6 330.3 L410.82 329.42Z" fill="#9c9c9c"/>
<path d="M409.1 331.6 L409.98 333.82 L412.2 334.7 L409.98 335.58 L409.1 337.8 L408.22 335.58 L406 334.7 L408.22 333.82Z" fill="#9c9c9c"/>
<path d="M413.5 333.4 L414.38 335.62 L416.6 336.5 L414.38 337.38 L413.5 339.6 L412.62 337.38 L410.4 336.5 L412.62 335.62Z" fill="#9c9c9c"/>
<path d="M410.9 337.8 L411.78 340.02 L414 340.9 L411.78 341.78 L410.9 344 L410.02 341.78 L407.8 340.9 L410.02 340.02Z" fill="#9c9c9c"/>
<path d="M415.3 336 L416.18 338.22 L418.4 339.1 L416.18 339.98 L415.3 342.2 L414.42 339.98 L412.2 339.1 L414.42 338.22Z" fill="#9c9c9c"/>
<path d="M409.1 342.2 L409.98 344.42 L412.2 345.3 L409.98 346.18 L409.1 348.4 L408.22 346.18 L406 345.3 L408.22 344.42Z" fill="#9c9c9c"/>
<path d="M413.5 343.9 L414.38 346.12 L416.6 347 L414.38 347.88 L413.5 350.1 L412.62 347.88 L410.4 347 L412.62 346.12Z" fill="#9c9c9c"/>
<path d="M406.5 348.3 L407.38 350.52 L409.6 351.4 L407.38 352.28 L406.5 354.5 L405.62 352.28 L403.4 351.4 L405.62 350.52Z" fill="#9c9c9c"/>
<path d="M402.9 353.6 L403.78 355.82 L406 356.7 L403.78 357.58 L402.9 359.8 L402.02 357.58 L399.8 356.7 L402.02 355.82Z" fill="#9c9c9c"/>
<path d="M410.9 348.3 L411.78 350.52 L414 351.4 L411.78 352.28 L410.9 354.5 L410.02 352.28 L407.8 351.4 L410.02 350.52Z" fill="#9c9c9c"/>
<path d="M417 345.7 L417.88 347.92 L420.1 348.8 L417.88 349.68 L417 351.9 L416.12 349.68 L413.9 348.8 L416.12 347.92Z" fill="#9c9c9c"/>
<path d="M421.4 347.5 L422.28 349.72 L424.5 350.6 L422.28 351.48 L421.4 353.7 L420.52 351.48 L418.3 350.6 L420.52 349.72Z" fill="#9c9c9c"/>
<path d="M425.9 335.1 L426.78 337.32 L429 338.2 L426.78 339.08 L425.9 341.3 L425.02 339.08 L422.8 338.2 L425.02 337.32Z" fill="#9c9c9c"/>
<path d="M427.6 340.4 L428.48 342.62 L430.7 343.5 L428.48 344.38 L427.6 346.6 L426.72 344.38 L424.5 343.5 L426.72 342.62Z" fill="#9c9c9c"/>
<path d="M427.6 327.2 L428.48 329.42 L430.7 330.3 L428.48 331.18 L427.6 333.4 L426.72 331.18 L424.5 330.3 L426.72 329.42Z" fill="#9c9c9c"/>
<path d="M424.1 331.6 L424.98 333.82 L427.2 334.7 L424.98 335.58 L424.1 337.8 L423.22 335.58 L421 334.7 L423.22 333.82Z" fill="#9c9c9c"/>
<path d="M422.3 328.9 L423.18 331.12 L425.4 332 L423.18 332.88 L422.3 335.1 L421.42 332.88 L419.2 332 L421.42 331.12Z" fill="#9c9c9c"/>
<path d="M402.9 340.4 L403.78 342.62 L406 343.5 L403.78 344.38 L402.9 346.6 L402.02 344.38 L399.8 343.5 L402.02 342.62Z" fill="#9c9c9c"/>
<path d="M386.4 390.7 L387.28 392.92 L389.5 393.8 L387.28 394.68 L386.4 396.9 L385.52 394.68 L383.3 393.8 L385.52 392.92Z" fill="#9c9c9c"/>
<path d="M389.1 396 L389.98 398.22 L392.2 399.1 L389.98 399.98 L389.1 402.2 L388.22 399.98 L386 399.1 L388.22 398.22Z" fill="#9c9c9c"/>
<path d="M384.7 399.5 L385.58 401.72 L387.8 402.6 L385.58 403.48 L384.7 405.7 L383.82 403.48 L381.6 402.6 L383.82 401.72Z" fill="#9c9c9c"/>
<path d="M382 403.9 L382.88 406.12 L385.1 407 L382.88 407.88 L382 410.1 L381.12 407.88 L378.9 407 L381.12 406.12Z" fill="#9c9c9c"/>
<path d="M387.3 404.8 L388.18 407.02 L390.4 407.9 L388.18 408.78 L387.3 411 L386.42 408.78 L384.2 407.9 L386.42 407.02Z" fill="#9c9c9c"/>
<path d="M380.3 408.4 L381.18 410.62 L383.4 411.5 L381.18 412.38 L380.3 414.6 L379.42 412.38 L377.2 411.5 L379.42 410.62Z" fill="#9c9c9c"/>
<path d="M375.9 411 L376.78 413.22 L379 414.1 L376.78 414.98 L375.9 417.2 L375.02 414.98 L372.8 414.1 L375.02 413.22Z" fill="#9c9c9c"/>
<path d="M384.7 410.1 L385.58 412.32 L387.8 413.2 L385.58 414.08 L384.7 416.3 L383.82 414.08 L381.6 413.2 L383.82 412.32Z" fill="#9c9c9c"/>
<path d="M389.1 411 L389.98 413.22 L392.2 414.1 L389.98 414.98 L389.1 417.2 L388.22 414.98 L386 414.1 L388.22 413.22Z" fill="#9c9c9c"/>
<path d="M391.7 399.5 L392.58 401.72 L394.8 402.6 L392.58 403.48 L391.7 405.7 L390.82 403.48 L388.6 402.6 L390.82 401.72Z" fill="#9c9c9c"/>
<path d="M392.6 390.7 L393.48 392.92 L395.7 393.8 L393.48 394.68 L392.6 396.9 L391.72 394.68 L389.5 393.8 L391.72 392.92Z" fill="#9c9c9c"/>
<path d="M378.5 413.6 L379.38 415.82 L381.6 416.7 L379.38 417.58 L378.5 419.8 L377.62 417.58 L375.4 416.7 L377.62 415.82Z" fill="#9c9c9c"/>
<path d="M367 416.3 L367.88 418.52 L370.1 419.4 L367.88 420.28 L367 422.5 L366.12 420.28 L363.9 419.4 L366.12 418.52Z" fill="#9c9c9c"/>
<path d="M363.5 420.7 L364.38 422.92 L366.6 423.8 L364.38 424.68 L363.5 426.9 L362.62 424.68 L360.4 423.8 L362.62 422.92Z" fill="#9c9c9c"/>
<path d="M372.3 415.4 L373.18 417.62 L375.4 418.5 L373.18 419.38 L372.3 421.6 L371.42 419.38 L369.2 418.5 L371.42 417.62Z" fill="#9c9c9c"/>
<path d="M358.2 397.8 L359.08 400.02 L361.3 400.9 L359.08 401.78 L358.2 404 L357.32 401.78 L355.1 400.9 L357.32 400.02Z" fill="#9c9c9c"/>
<path d="M367 394.7 L367.88 396.92 L370.1 397.8 L367.88 398.68 L367 400.9 L366.12 398.68 L363.9 397.8 L366.12 396.92Z" fill="#9c9c9c"/>
<path d="M392.2 418.1 L393.08 420.32 L395.3 421.2 L393.08 422.08 L392.2 424.3 L391.32 422.08 L389.1 421.2 L391.32 420.32Z" fill="#9c9c9c"/>
<path d="M353.2 452.9 L354.08 455.12 L356.3 456 L354.08 456.88 L353.2 459.1 L352.32 456.88 L350.1 456 L352.32 455.12Z" fill="#9c9c9c"/>
<path d="M358.5 456.3 L359.38 458.52 L361.6 459.4 L359.38 460.28 L358.5 462.5 L357.62 460.28 L355.4 459.4 L357.62 458.52Z" fill="#9c9c9c"/>
<path d="M352.2 459.2 L353.08 461.42 L355.3 462.3 L353.08 463.18 L352.2 465.4 L351.32 463.18 L349.1 462.3 L351.32 461.42Z" fill="#9c9c9c"/>
<path d="M359.6 437.5 L360.48 439.72 L362.7 440.6 L360.48 441.48 L359.6 443.7 L358.72 441.48 L356.5 440.6 L358.72 439.72Z" fill="#9c9c9c"/>
<path d="M361.7 441.8 L362.58 444.02 L364.8 444.9 L362.58 445.78 L361.7 448 L360.82 445.78 L358.6 444.9 L360.82 444.02Z" fill="#9c9c9c"/>
<path d="M351.1 432.8 L351.98 435.02 L354.2 435.9 L351.98 436.78 L351.1 439 L350.22 436.78 L348 435.9 L350.22 435.02Z" fill="#9c9c9c"/>
<path d="M366.5 419 L367.38 421.22 L369.6 422.1 L367.38 422.98 L366.5 425.2 L365.62 422.98 L363.4 422.1 L365.62 421.22Z" fill="#9c9c9c"/>
<path d="M371.7 425.4 L372.58 427.62 L374.8 428.5 L372.58 429.38 L371.7 431.6 L370.82 429.38 L368.6 428.5 L370.82 427.62Z" fill="#9c9c9c"/>
<path d="M377 426.4 L377.88 428.62 L380.1 429.5 L377.88 430.38 L377 432.6 L376.12 430.38 L373.9 429.5 L376.12 428.62Z" fill="#9c9c9c"/>
<path d="M384.4 427 L385.28 429.22 L387.5 430.1 L385.28 430.98 L384.4 433.2 L383.52 430.98 L381.3 430.1 L383.52 429.22Z" fill="#9c9c9c"/>
<path d="M391.9 418.5 L392.78 420.72 L395 421.6 L392.78 422.48 L391.9 424.7 L391.02 422.48 L388.8 421.6 L391.02 420.72Z" fill="#9c9c9c"/>
<path d="M310.3 428.1 L311.18 430.32 L313.4 431.2 L311.18 432.08 L310.3 434.3 L309.42 432.08 L307.2 431.2 L309.42 430.32Z" fill="#9c9c9c"/>
<path d="M348.2 422.6 L349.08 424.82 L351.3 425.7 L349.08 426.58 L348.2 428.8 L347.32 426.58 L345.1 425.7 L347.32 424.82Z" fill="#9c9c9c"/>
<path d="M417.9 321.4 L419.22 324.88 L422.7 326.2 L419.22 327.52 L417.9 331 L416.58 327.52 L413.1 326.2 L416.58 324.88Z" fill="#6e0a82"/>
<path d="M422.2 321.4 L423.52 324.88 L427 326.2 L423.52 327.52 L422.2 331 L420.88 327.52 L417.4 326.2 L420.88 324.88Z" fill="#6e0a82"/>
<path d="M418.8 338.7 L420.12 342.18 L423.6 343.5 L420.12 344.82 L418.8 348.3 L417.48 344.82 L414 343.5 L417.48 342.18Z" fill="#f00000"/>
<path d="M346.9 580.4 L348.22 583.88 L351.7 585.2 L348.22 586.52 L346.9 590 L345.58 586.52 L342.1 585.2 L345.58 583.88Z" fill="#ff10ff"/>
<path d="M331.5 591 L332.82 594.48 L336.3 595.8 L332.82 597.12 L331.5 600.6 L330.18 597.12 L326.7 595.8 L330.18 594.48Z" fill="#f00000"/>
<path d="M392.1 564 L393.42 567.48 L396.9 568.8 L393.42 570.12 L392.1 573.6 L390.78 570.12 L387.3 568.8 L390.78 567.48Z" fill="#30e0e8"/>
<path d="M406.1 576.7 L407.42 580.18 L410.9 581.5 L407.42 582.82 L406.1 586.3 L404.78 582.82 L401.3 581.5 L404.78 580.18Z" fill="#30e0e8"/>
<path d="M384.4 579.9 L385.72 583.38 L389.2 584.7 L385.72 586.02 L384.4 589.5 L383.08 586.02 L379.6 584.7 L383.08 583.38Z" fill="#ff6a0a"/>
<path d="M392.3 582 L393.62 585.48 L397.1 586.8 L393.62 588.12 L392.3 591.6 L390.98 588.12 L387.5 586.8 L390.98 585.48Z" fill="#952f0a"/>
<path d="M378 584.6 L379.32 588.08 L382.8 589.4 L379.32 590.72 L378 594.2 L376.68 590.72 L373.2 589.4 L376.68 588.08Z" fill="#ff10ff"/>
<path d="M376.5 592.6 L377.82 596.08 L381.3 597.4 L377.82 598.72 L376.5 602.2 L375.18 598.72 L371.7 597.4 L375.18 596.08Z" fill="#6e0a82"/>
<path d="M382.8 594.2 L384.12 597.68 L387.6 599 L384.12 600.32 L382.8 603.8 L381.48 600.32 L378 599 L381.48 597.68Z" fill="#6e0a82"/>
<path d="M394.4 587.8 L395.72 591.28 L399.2 592.6 L395.72 593.92 L394.4 597.4 L393.08 593.92 L389.6 592.6 L393.08 591.28Z" fill="#6e0a82"/>
<path d="M390.7 592.1 L392.02 595.58 L395.5 596.9 L392.02 598.22 L390.7 601.7 L389.38 598.22 L385.9 596.9 L389.38 595.58Z" fill="#6e0a82"/>
<path d="M396.6 592.1 L397.92 595.58 L401.4 596.9 L397.92 598.22 L396.6 601.7 L395.28 598.22 L391.8 596.9 L395.28 595.58Z" fill="#6e0a82"/>
<path d="M406.1 591 L407.42 594.48 L410.9 595.8 L407.42 597.12 L406.1 600.6 L404.78 597.12 L401.3 595.8 L404.78 594.48Z" fill="#952f0a"/>
<path d="M354.8 598.4 L356.12 601.88 L359.6 603.2 L356.12 604.52 L354.8 608 L353.48 604.52 L350 603.2 L353.48 601.88Z" fill="#ff10ff"/>
<path d="M407.1 591.2 L408.42 594.68 L411.9 596 L408.42 597.32 L407.1 600.8 L405.78 597.32 L402.3 596 L405.78 594.68Z" fill="#952f0a"/>
<path d="M419.8 591.2 L421.12 594.68 L424.6 596 L421.12 597.32 L419.8 600.8 L418.48 597.32 L415 596 L418.48 594.68Z" fill="#952f0a"/>
<path d="M425.1 590.1 L426.42 593.58 L429.9 594.9 L426.42 596.22 L425.1 599.7 L423.78 596.22 L420.3 594.9 L423.78 593.58Z" fill="#952f0a"/>
<path d="M446.3 591.2 L447.62 594.68 L451.1 596 L447.62 597.32 L446.3 600.8 L444.98 597.32 L441.5 596 L444.98 594.68Z" fill="#952f0a"/>
<path d="M429.9 599.1 L431.22 602.58 L434.7 603.9 L431.22 605.22 L429.9 608.7 L428.58 605.22 L425.1 603.9 L428.58 602.58Z" fill="#952f0a"/>
<path d="M419.8 597.5 L421.12 600.98 L424.6 602.3 L421.12 603.62 L419.8 607.1 L418.48 603.62 L415 602.3 L418.48 600.98Z" fill="#952f0a"/>
<path d="M422.5 601.2 L423.82 604.68 L427.3 606 L423.82 607.32 L422.5 610.8 L421.18 607.32 L417.7 606 L421.18 604.68Z" fill="#952f0a"/>
<path d="M416.6 601.8 L417.92 605.28 L421.4 606.6 L417.92 607.92 L416.6 611.4 L415.28 607.92 L411.8 606.6 L415.28 605.28Z" fill="#952f0a"/>
<path d="M419.8 604.4 L421.12 607.88 L424.6 609.2 L421.12 610.52 L419.8 614 L418.48 610.52 L415 609.2 L418.48 607.88Z" fill="#6e0a82"/>
<path d="M415.6 608.1 L416.92 611.58 L420.4 612.9 L416.92 614.22 L415.6 617.7 L414.28 614.22 L410.8 612.9 L414.28 611.58Z" fill="#ff6a0a"/>
<path d="M420.9 611.3 L422.22 614.78 L425.7 616.1 L422.22 617.42 L420.9 620.9 L419.58 617.42 L416.1 616.1 L419.58 614.78Z" fill="#6e0a82"/>
<path d="M421.9 612.9 L423.22 616.38 L426.7 617.7 L423.22 619.02 L421.9 622.5 L420.58 619.02 L417.1 617.7 L420.58 616.38Z" fill="#ff6a0a"/>
<path d="M340.5 601.5 L341.82 604.98 L345.3 606.3 L341.82 607.62 L340.5 611.1 L339.18 607.62 L335.7 606.3 L339.18 604.98Z" fill="#ff10ff"/>
<path d="M347.4 602.6 L348.72 606.08 L352.2 607.4 L348.72 608.72 L347.4 612.2 L346.08 608.72 L342.6 607.4 L346.08 606.08Z" fill="#ff10ff"/>
<path d="M353.7 600.5 L355.02 603.98 L358.5 605.3 L355.02 606.62 L353.7 610.1 L352.38 606.62 L348.9 605.3 L352.38 603.98Z" fill="#ff10ff"/>
<path d="M350 612.7 L351.32 616.18 L354.8 617.5 L351.32 618.82 L350 622.3 L348.68 618.82 L345.2 617.5 L348.68 616.18Z" fill="#ff10ff"/>
<path d="M347.9 615.8 L349.22 619.28 L352.7 620.6 L349.22 621.92 L347.9 625.4 L346.58 621.92 L343.1 620.6 L346.58 619.28Z" fill="#ff10ff"/>
<path d="M352.7 614.8 L354.02 618.28 L357.5 619.6 L354.02 620.92 L352.7 624.4 L351.38 620.92 L347.9 619.6 L351.38 618.28Z" fill="#ff10ff"/>
<path d="M354.2 600 L355.52 603.48 L359 604.8 L355.52 606.12 L354.2 609.6 L352.88 606.12 L349.4 604.8 L352.88 603.48Z" fill="#ff10ff"/>
<path d="M360.1 605.2 L361.42 608.68 L364.9 610 L361.42 611.32 L360.1 614.8 L358.78 611.32 L355.3 610 L358.78 608.68Z" fill="#ff6a0a"/>
<path d="M369.6 605.8 L370.92 609.28 L374.4 610.6 L370.92 611.92 L369.6 615.4 L368.28 611.92 L364.8 610.6 L368.28 609.28Z" fill="#ff10ff"/>
<path d="M382.8 609 L384.12 612.48 L387.6 613.8 L384.12 615.12 L382.8 618.6 L381.48 615.12 L378 613.8 L381.48 612.48Z" fill="#ff10ff"/>
<path d="M361.6 611.1 L362.92 614.58 L366.4 615.9 L362.92 617.22 L361.6 620.7 L360.28 617.22 L356.8 615.9 L360.28 614.58Z" fill="#ff10ff"/>
<path d="M351.1 613.2 L352.42 616.68 L355.9 618 L352.42 619.32 L351.1 622.8 L349.78 619.32 L346.3 618 L349.78 616.68Z" fill="#ff10ff"/>
<path d="M362.7 617.4 L364.02 620.88 L367.5 622.2 L364.02 623.52 L362.7 627 L361.38 623.52 L357.9 622.2 L361.38 620.88Z" fill="#ff10ff"/>
<path d="M357.9 619.5 L359.22 622.98 L362.7 624.3 L359.22 625.62 L357.9 629.1 L356.58 625.62 L353.1 624.3 L356.58 622.98Z" fill="#ff10ff"/>
<path d="M374.9 620.1 L376.22 623.58 L379.7 624.9 L376.22 626.22 L374.9 629.7 L373.58 626.22 L370.1 624.9 L373.58 623.58Z" fill="#ff10ff"/>
<path d="M381.7 596.3 L383.02 599.78 L386.5 601.1 L383.02 602.42 L381.7 605.9 L380.38 602.42 L376.9 601.1 L380.38 599.78Z" fill="#6e0a82"/>
<path d="M388.6 600.5 L389.92 603.98 L393.4 605.3 L389.92 606.62 L388.6 610.1 L387.28 606.62 L383.8 605.3 L387.28 603.98Z" fill="#6e0a82"/>
<path d="M389.7 619 L391.02 622.48 L394.5 623.8 L391.02 625.12 L389.7 628.6 L388.38 625.12 L384.9 623.8 L388.38 622.48Z" fill="#6e0a82"/>
<path d="M395.5 619.5 L396.82 622.98 L400.3 624.3 L396.82 625.62 L395.5 629.1 L394.18 625.62 L390.7 624.3 L394.18 622.98Z" fill="#108a10"/>
<path d="M399.7 599.4 L401.02 602.88 L404.5 604.2 L401.02 605.52 L399.7 609 L398.38 605.52 L394.9 604.2 L398.38 602.88Z" fill="#952f0a"/>
<path d="M398.7 602.6 L400.02 606.08 L403.5 607.4 L400.02 608.72 L398.7 612.2 L397.38 608.72 L393.9 607.4 L397.38 606.08Z" fill="#952f0a"/>
<path d="M368 642.3 L369.32 645.78 L372.8 647.1 L369.32 648.42 L368 651.9 L366.68 648.42 L363.2 647.1 L366.68 645.78Z" fill="#ff10ff"/>
<path d="M364.8 638.6 L366.12 642.08 L369.6 643.4 L366.12 644.72 L364.8 648.2 L363.48 644.72 L360 643.4 L363.48 642.08Z" fill="#ff6a0a"/>
<path d="M377 648.6 L378.32 652.08 L381.8 653.4 L378.32 654.72 L377 658.2 L375.68 654.72 L372.2 653.4 L375.68 652.08Z" fill="#6e0a82"/>
<path d="M381.2 640.2 L382.52 643.68 L386 645 L382.52 646.32 L381.2 649.8 L379.88 646.32 L376.4 645 L379.88 643.68Z" fill="#30e0e8"/>
<path d="M395 638.6 L396.32 642.08 L399.8 643.4 L396.32 644.72 L395 648.2 L393.68 644.72 L390.2 643.4 L393.68 642.08Z" fill="#30e0e8"/>
<path d="M395.5 634.9 L396.82 638.38 L400.3 639.7 L396.82 641.02 L395.5 644.5 L394.18 641.02 L390.7 639.7 L394.18 638.38Z" fill="#30e0e8"/>
<path d="M405.6 635.4 L406.92 638.88 L410.4 640.2 L406.92 641.52 L405.6 645 L404.28 641.52 L400.8 640.2 L404.28 638.88Z" fill="#108a10"/>
<path d="M403.4 632.8 L404.72 636.28 L408.2 637.6 L404.72 638.92 L403.4 642.4 L402.08 638.92 L398.6 637.6 L402.08 636.28Z" fill="#f00000"/>
<path d="M404 652.3 L405.32 655.78 L408.8 657.1 L405.32 658.42 L404 661.9 L402.68 658.42 L399.2 657.1 L402.68 655.78Z" fill="#ff6a0a"/>
<path d="M384.9 651.3 L386.22 654.78 L389.7 656.1 L386.22 657.42 L384.9 660.9 L383.58 657.42 L380.1 656.1 L383.58 654.78Z" fill="#ff10ff"/>
<path d="M387.6 630.1 L388.92 633.58 L392.4 634.9 L388.92 636.22 L387.6 639.7 L386.28 636.22 L382.8 634.9 L386.28 633.58Z" fill="#6e0a82"/>
<path d="M421.9 613.9 L423.22 617.38 L426.7 618.7 L423.22 620.02 L421.9 623.5 L420.58 620.02 L417.1 618.7 L420.58 617.38Z" fill="#ff6a0a"/>
<path d="M418.8 615.5 L420.12 618.98 L423.6 620.3 L420.12 621.62 L418.8 625.1 L417.48 621.62 L414 620.3 L417.48 618.98Z" fill="#6e0a82"/>
<path d="M424.6 620.8 L425.92 624.28 L429.4 625.6 L425.92 626.92 L424.6 630.4 L423.28 626.92 L419.8 625.6 L423.28 624.28Z" fill="#6e0a82"/>
<path d="M419.3 628.7 L420.62 632.18 L424.1 633.5 L420.62 634.82 L419.3 638.3 L417.98 634.82 L414.5 633.5 L417.98 632.18Z" fill="#f00000"/>
<path d="M425.6 629.2 L426.92 632.68 L430.4 634 L426.92 635.32 L425.6 638.8 L424.28 635.32 L420.8 634 L424.28 632.68Z" fill="#f00000"/>
<path d="M433 634.5 L434.32 637.98 L437.8 639.3 L434.32 640.62 L433 644.1 L431.68 640.62 L428.2 639.3 L431.68 637.98Z" fill="#108a10"/>
<path d="M436.7 633 L438.02 636.48 L441.5 637.8 L438.02 639.12 L436.7 642.6 L435.38 639.12 L431.9 637.8 L435.38 636.48Z" fill="#108a10"/>
<path d="M439.9 637.7 L441.22 641.18 L444.7 642.5 L441.22 643.82 L439.9 647.3 L438.58 643.82 L435.1 642.5 L438.58 641.18Z" fill="#108a10"/>
<path d="M420.9 641.4 L422.22 644.88 L425.7 646.2 L422.22 647.52 L420.9 651 L419.58 647.52 L416.1 646.2 L419.58 644.88Z" fill="#108a10"/>
<path d="M446.3 641.4 L447.62 644.88 L451.1 646.2 L447.62 647.52 L446.3 651 L444.98 647.52 L441.5 646.2 L444.98 644.88Z" fill="#108a10"/>
<path d="M450 641.9 L451.32 645.38 L454.8 646.7 L451.32 648.02 L450 651.5 L448.68 648.02 L445.2 646.7 L448.68 645.38Z" fill="#108a10"/>
<path d="M450.5 646.7 L451.82 650.18 L455.3 651.5 L451.82 652.82 L450.5 656.3 L449.18 652.82 L445.7 651.5 L449.18 650.18Z" fill="#108a10"/>
<path d="M458.4 644.1 L459.72 647.58 L463.2 648.9 L459.72 650.22 L458.4 653.7 L457.08 650.22 L453.6 648.9 L457.08 647.58Z" fill="#108a10"/>
<path d="M439.4 643.9 L440.72 647.38 L444.2 648.7 L440.72 650.02 L439.4 653.5 L438.08 650.02 L434.6 648.7 L438.08 647.38Z" fill="#f00000"/>
<path d="M433 650.9 L434.32 654.38 L437.8 655.7 L434.32 657.02 L433 660.5 L431.68 657.02 L428.2 655.7 L431.68 654.38Z" fill="#ffff10"/>
<path d="M412.9 639.8 L414.22 643.28 L417.7 644.6 L414.22 645.92 L412.9 649.4 L411.58 645.92 L408.1 644.6 L411.58 643.28Z" fill="#952f0a"/>
<path d="M412.4 647.8 L413.72 651.28 L417.2 652.6 L413.72 653.92 L412.4 657.4 L411.08 653.92 L407.6 652.6 L411.08 651.28Z" fill="#6e0a82"/>
<path d="M408.7 647.2 L410.02 650.68 L413.5 652 L410.02 653.32 L408.7 656.8 L407.38 653.32 L403.9 652 L407.38 650.68Z" fill="#6e0a82"/>
<path d="M414.5 658.9 L415.82 662.38 L419.3 663.7 L415.82 665.02 L414.5 668.5 L413.18 665.02 L409.7 663.7 L413.18 662.38Z" fill="#ff6a0a"/>
<path d="M406.1 652.5 L407.42 655.98 L410.9 657.3 L407.42 658.62 L406.1 662.1 L404.78 658.62 L401.3 657.3 L404.78 655.98Z" fill="#ff6a0a"/>
<path d="M405.5 662.1 L406.82 665.58 L410.3 666.9 L406.82 668.22 L405.5 671.7 L404.18 668.22 L400.7 666.9 L404.18 665.58Z" fill="#ff10ff"/>
<path d="M426.7 636.1 L428.02 639.58 L431.5 640.9 L428.02 642.22 L426.7 645.7 L425.38 642.22 L421.9 640.9 L425.38 639.58Z" fill="#6e0a82"/>
<path d="M447.3 642.2 L448.62 645.68 L452.1 647 L448.62 648.32 L447.3 651.8 L445.98 648.32 L442.5 647 L445.98 645.68Z" fill="#108a10"/>
<path d="M450.2 645.7 L451.52 649.18 L455 650.5 L451.52 651.82 L450.2 655.3 L448.88 651.82 L445.4 650.5 L448.88 649.18Z" fill="#108a10"/>
<path d="M458.4 643.3 L459.72 646.78 L463.2 648.1 L459.72 649.42 L458.4 652.9 L457.08 649.42 L453.6 648.1 L457.08 646.78Z" fill="#108a10"/>
<path d="M359.3 680.4 L360.62 683.88 L364.1 685.2 L360.62 686.52 L359.3 690 L357.98 686.52 L354.5 685.2 L357.98 683.88Z" fill="#ff6a0a"/>
<path d="M356.1 695.7 L357.42 699.18 L360.9 700.5 L357.42 701.82 L356.1 705.3 L354.78 701.82 L351.3 700.5 L354.78 699.18Z" fill="#ff6a0a"/>
<path d="M349.7 701.5 L351.02 704.98 L354.5 706.3 L351.02 707.62 L349.7 711.1 L348.38 707.62 L344.9 706.3 L348.38 704.98Z" fill="#ff6a0a"/>
<path d="M353.4 707.3 L354.72 710.78 L358.2 712.1 L354.72 713.42 L353.4 716.9 L352.08 713.42 L348.6 712.1 L352.08 710.78Z" fill="#ff6a0a"/>
<path d="M363.5 670.3 L364.82 673.78 L368.3 675.1 L364.82 676.42 L363.5 679.9 L362.18 676.42 L358.7 675.1 L362.18 673.78Z" fill="#6e0a82"/>
<path d="M361.3 680.4 L362.62 683.88 L366.1 685.2 L362.62 686.52 L361.3 690 L359.98 686.52 L356.5 685.2 L359.98 683.88Z" fill="#ff6a0a"/>
<path d="M374.6 680.4 L375.92 683.88 L379.4 685.2 L375.92 686.52 L374.6 690 L373.28 686.52 L369.8 685.2 L373.28 683.88Z" fill="#ff6a0a"/>
<path d="M381.5 690.4 L382.82 693.88 L386.3 695.2 L382.82 696.52 L381.5 700 L380.18 696.52 L376.7 695.2 L380.18 693.88Z" fill="#ff6a0a"/>
<path d="M361.3 697.8 L362.62 701.28 L366.1 702.6 L362.62 703.92 L361.3 707.4 L359.98 703.92 L356.5 702.6 L359.98 701.28Z" fill="#ff6a0a"/>
<path d="M357.1 695.7 L358.42 699.18 L361.9 700.5 L358.42 701.82 L357.1 705.3 L355.78 701.82 L352.3 700.5 L355.78 699.18Z" fill="#ff6a0a"/>
<path d="M356.1 707.9 L357.42 711.38 L360.9 712.7 L357.42 714.02 L356.1 717.5 L354.78 714.02 L351.3 712.7 L354.78 711.38Z" fill="#ff6a0a"/>
<path d="M383.6 661.8 L384.92 665.28 L388.4 666.6 L384.92 667.92 L383.6 671.4 L382.28 667.92 L378.8 666.6 L382.28 665.28Z" fill="#ff10ff"/>
<path d="M387.3 664.5 L388.62 667.98 L392.1 669.3 L388.62 670.62 L387.3 674.1 L385.98 670.62 L382.5 669.3 L385.98 667.98Z" fill="#ff10ff"/>
<path d="M384.6 653.4 L385.92 656.88 L389.4 658.2 L385.92 659.52 L384.6 663 L383.28 659.52 L379.8 658.2 L383.28 656.88Z" fill="#ff10ff"/>
<path d="M403.7 660.8 L405.02 664.28 L408.5 665.6 L405.02 666.92 L403.7 670.4 L402.38 666.92 L398.9 665.6 L402.38 664.28Z" fill="#ff10ff"/>
<path d="M393.1 668.7 L394.42 672.18 L397.9 673.5 L394.42 674.82 L393.1 678.3 L391.78 674.82 L388.3 673.5 L391.78 672.18Z" fill="#6e0a82"/>
<path d="M397.3 660.3 L398.62 663.78 L402.1 665.1 L398.62 666.42 L397.3 669.9 L395.98 666.42 L392.5 665.1 L395.98 663.78Z" fill="#6e0a82"/>
<path d="M398.4 676.1 L399.72 679.58 L403.2 680.9 L399.72 682.22 L398.4 685.7 L397.08 682.22 L393.6 680.9 L397.08 679.58Z" fill="#6e0a82"/>
<path d="M402.6 677.7 L403.92 681.18 L407.4 682.5 L403.92 683.82 L402.6 687.3 L401.28 683.82 L397.8 682.5 L401.28 681.18Z" fill="#6e0a82"/>
<path d="M405.8 678.2 L407.12 681.68 L410.6 683 L407.12 684.32 L405.8 687.8 L404.48 684.32 L401 683 L404.48 681.68Z" fill="#6e0a82"/>
<path d="M403.7 652.8 L405.02 656.28 L408.5 657.6 L405.02 658.92 L403.7 662.4 L402.38 658.92 L398.9 657.6 L402.38 656.28Z" fill="#ff6a0a"/>
<path d="M392.6 661.8 L393.92 665.28 L397.4 666.6 L393.92 667.92 L392.6 671.4 L391.28 667.92 L387.8 666.6 L391.28 665.28Z" fill="#ff6a0a"/>
<path d="M420.3 672.7 L421.62 676.18 L425.1 677.5 L421.62 678.82 L420.3 682.3 L418.98 678.82 L415.5 677.5 L418.98 676.18Z" fill="#0808b8"/>
<path d="M439.9 672.4 L441.22 675.88 L444.7 677.2 L441.22 678.52 L439.9 682 L438.58 678.52 L435.1 677.2 L438.58 675.88Z" fill="#f00000"/>
<path d="M406.6 678.2 L407.92 681.68 L411.4 683 L407.92 684.32 L406.6 687.8 L405.28 684.32 L401.8 683 L405.28 681.68Z" fill="#6e0a82"/>
<path d="M350.5 713.5 L351.82 716.98 L355.3 718.3 L351.82 719.62 L350.5 723.1 L349.18 719.62 L345.7 718.3 L349.18 716.98Z" fill="#ff6a0a"/>
<path d="M356.1 696.6 L357.42 700.08 L360.9 701.4 L357.42 702.72 L356.1 706.2 L354.78 702.72 L351.3 701.4 L354.78 700.08Z" fill="#ff6a0a"/>
<path d="M386.5 568.9 L387.38 571.12 L389.6 572 L387.38 572.88 L386.5 575.1 L385.62 572.88 L383.4 572 L385.62 571.12Z" fill="#9c9c9c"/>
<path d="M388.1 574.7 L388.98 576.92 L391.2 577.8 L388.98 578.68 L388.1 580.9 L387.22 578.68 L385 577.8 L387.22 576.92Z" fill="#9c9c9c"/>
<path d="M407.1 572.6 L407.98 574.82 L410.2 575.7 L407.98 576.58 L407.1 578.8 L406.22 576.58 L404 575.7 L406.22 574.82Z" fill="#9c9c9c"/>
<path d="M398.1 579.5 L398.98 581.72 L401.2 582.6 L398.98 583.48 L398.1 585.7 L397.22 583.48 L395 582.6 L397.22 581.72Z" fill="#9c9c9c"/>
<path d="M387.6 578.4 L388.48 580.62 L390.7 581.5 L388.48 582.38 L387.6 584.6 L386.72 582.38 L384.5 581.5 L386.72 580.62Z" fill="#9c9c9c"/>
<path d="M376.5 581.6 L377.38 583.82 L379.6 584.7 L377.38 585.58 L376.5 587.8 L375.62 585.58 L373.4 584.7 L375.62 583.82Z" fill="#9c9c9c"/>
<path d="M374.3 583.2 L375.18 585.42 L377.4 586.3 L375.18 587.18 L374.3 589.4 L373.42 587.18 L371.2 586.3 L373.42 585.42Z" fill="#9c9c9c"/>
<path d="M358.5 581.6 L359.38 583.82 L361.6 584.7 L359.38 585.58 L358.5 587.8 L357.62 585.58 L355.4 584.7 L357.62 583.82Z" fill="#9c9c9c"/>
<path d="M363.2 583.7 L364.08 585.92 L366.3 586.8 L364.08 587.68 L363.2 589.9 L362.32 587.68 L360.1 586.8 L362.32 585.92Z" fill="#9c9c9c"/>
<path d="M357.9 593.8 L358.78 596.02 L361 596.9 L358.78 597.78 L357.9 600 L357.02 597.78 L354.8 596.9 L357.02 596.02Z" fill="#9c9c9c"/>
<path d="M361.6 595.3 L362.48 597.52 L364.7 598.4 L362.48 599.28 L361.6 601.5 L360.72 599.28 L358.5 598.4 L360.72 597.52Z" fill="#9c9c9c"/>
<path d="M408.2 584.2 L409.08 586.42 L411.3 587.3 L409.08 588.18 L408.2 590.4 L407.32 588.18 L405.1 587.3 L407.32 586.42Z" fill="#9c9c9c"/>
<path d="M405 587.4 L405.88 589.62 L408.1 590.5 L405.88 591.38 L405 593.6 L404.12 591.38 L401.9 590.5 L404.12 589.62Z" fill="#9c9c9c"/>
<path d="M373.8 589 L374.68 591.22 L376.9 592.1 L374.68 592.98 L373.8 595.2 L372.92 592.98 L370.7 592.1 L372.92 591.22Z" fill="#9c9c9c"/>
<path d="M398.7 599 L399.58 601.22 L401.8 602.1 L399.58 602.98 L398.7 605.2 L397.82 602.98 L395.6 602.1 L397.82 601.22Z" fill="#9c9c9c"/>
<path d="M394.4 600.1 L395.28 602.32 L397.5 603.2 L395.28 604.08 L394.4 606.3 L393.52 604.08 L391.3 603.2 L393.52 602.32Z" fill="#9c9c9c"/>
<path d="M424 566.2 L424.88 568.42 L427.1 569.3 L424.88 570.18 L424 572.4 L423.12 570.18 L420.9 569.3 L423.12 568.42Z" fill="#9c9c9c"/>
<path d="M407.1 572.8 L407.98 575.02 L410.2 575.9 L407.98 576.78 L407.1 579 L406.22 576.78 L404 575.9 L406.22 575.02Z" fill="#9c9c9c"/>
<path d="M419.3 584.4 L420.18 586.62 L422.4 587.5 L420.18 588.38 L419.3 590.6 L418.42 588.38 L416.2 587.5 L418.42 586.62Z" fill="#9c9c9c"/>
<path d="M422.5 583.4 L423.38 585.62 L425.6 586.5 L423.38 587.38 L422.5 589.6 L421.62 587.38 L419.4 586.5 L421.62 585.62Z" fill="#9c9c9c"/>
<path d="M428.8 583.9 L429.68 586.12 L431.9 587 L429.68 587.88 L428.8 590.1 L427.92 587.88 L425.7 587 L427.92 586.12Z" fill="#9c9c9c"/>
<path d="M415.1 588.1 L415.98 590.32 L418.2 591.2 L415.98 592.08 L415.1 594.3 L414.22 592.08 L412 591.2 L414.22 590.32Z" fill="#9c9c9c"/>
<path d="M408.7 584.4 L409.58 586.62 L411.8 587.5 L409.58 588.38 L408.7 590.6 L407.82 588.38 L405.6 587.5 L407.82 586.62Z" fill="#9c9c9c"/>
<path d="M428.3 591.3 L429.18 593.52 L431.4 594.4 L429.18 595.28 L428.3 597.5 L427.42 595.28 L425.2 594.4 L427.42 593.52Z" fill="#9c9c9c"/>
<path d="M411.3 597.1 L412.18 599.32 L414.4 600.2 L412.18 601.08 L411.3 603.3 L410.42 601.08 L408.2 600.2 L410.42 599.32Z" fill="#9c9c9c"/>
<path d="M412.9 603.5 L413.78 605.72 L416 606.6 L413.78 607.48 L412.9 609.7 L412.02 607.48 L409.8 606.6 L412.02 605.72Z" fill="#9c9c9c"/>
<path d="M415.6 606.6 L416.48 608.82 L418.7 609.7 L416.48 610.58 L415.6 612.8 L414.72 610.58 L412.5 609.7 L414.72 608.82Z" fill="#9c9c9c"/>
<path d="M411.3 610.3 L412.18 612.52 L414.4 613.4 L412.18 614.28 L411.3 616.5 L410.42 614.28 L408.2 613.4 L410.42 612.52Z" fill="#9c9c9c"/>
<path d="M409.2 611.9 L410.08 614.12 L412.3 615 L410.08 615.88 L409.2 618.1 L408.32 615.88 L406.1 615 L408.32 614.12Z" fill="#9c9c9c"/>
<path d="M439.9 608.8 L440.78 611.02 L443 611.9 L440.78 612.78 L439.9 615 L439.02 612.78 L436.8 611.9 L439.02 611.02Z" fill="#9c9c9c"/>
<path d="M436.7 610.9 L437.58 613.12 L439.8 614 L437.58 614.88 L436.7 617.1 L435.82 614.88 L433.6 614 L435.82 613.12Z" fill="#9c9c9c"/>
<path d="M438.9 614.6 L439.78 616.82 L442 617.7 L439.78 618.58 L438.9 620.8 L438.02 618.58 L435.8 617.7 L438.02 616.82Z" fill="#9c9c9c"/>
<path d="M463.7 606.6 L464.58 608.82 L466.8 609.7 L464.58 610.58 L463.7 612.8 L462.82 610.58 L460.6 609.7 L462.82 608.82Z" fill="#9c9c9c"/>
<path d="M462.7 615.1 L463.58 617.32 L465.8 618.2 L463.58 619.08 L462.7 621.3 L461.82 619.08 L459.6 618.2 L461.82 617.32Z" fill="#9c9c9c"/>
<path d="M406.1 605.6 L406.98 607.82 L409.2 608.7 L406.98 609.58 L406.1 611.8 L405.22 609.58 L403 608.7 L405.22 607.82Z" fill="#9c9c9c"/>
<path d="M349 600.6 L349.88 602.82 L352.1 603.7 L349.88 604.58 L349 606.8 L348.12 604.58 L345.9 603.7 L348.12 602.82Z" fill="#9c9c9c"/>
<path d="M337.3 608.5 L338.18 610.72 L340.4 611.6 L338.18 612.48 L337.3 614.7 L336.42 612.48 L334.2 611.6 L336.42 610.72Z" fill="#9c9c9c"/>
<path d="M317.2 617 L318.08 619.22 L320.3 620.1 L318.08 620.98 L317.2 623.2 L316.32 620.98 L314.1 620.1 L316.32 619.22Z" fill="#9c9c9c"/>
<path d="M322.5 619.1 L323.38 621.32 L325.6 622.2 L323.38 623.08 L322.5 625.3 L321.62 623.08 L319.4 622.2 L321.62 621.32Z" fill="#9c9c9c"/>
<path d="M326.7 616.5 L327.58 618.72 L329.8 619.6 L327.58 620.48 L326.7 622.7 L325.82 620.48 L323.6 619.6 L325.82 618.72Z" fill="#9c9c9c"/>
<path d="M345.8 620.7 L346.68 622.92 L348.9 623.8 L346.68 624.68 L345.8 626.9 L344.92 624.68 L342.7 623.8 L344.92 622.92Z" fill="#9c9c9c"/>
<path d="M351.6 624.4 L352.48 626.62 L354.7 627.5 L352.48 628.38 L351.6 630.6 L350.72 628.38 L348.5 627.5 L350.72 626.62Z" fill="#9c9c9c"/>
<path d="M352.1 628.6 L352.98 630.82 L355.2 631.7 L352.98 632.58 L352.1 634.8 L351.22 632.58 L349 631.7 L351.22 630.82Z" fill="#9c9c9c"/>
<path d="M336.8 633.9 L337.68 636.12 L339.9 637 L337.68 637.88 L336.8 640.1 L335.92 637.88 L333.7 637 L335.92 636.12Z" fill="#9c9c9c"/>
<path d="M341.6 633.4 L342.48 635.62 L344.7 636.5 L342.48 637.38 L341.6 639.6 L340.72 637.38 L338.5 636.5 L340.72 635.62Z" fill="#9c9c9c"/>
<path d="M348.4 633.4 L349.28 635.62 L351.5 636.5 L349.28 637.38 L348.4 639.6 L347.52 637.38 L345.3 636.5 L347.52 635.62Z" fill="#9c9c9c"/>
<path d="M346.3 640.8 L347.18 643.02 L349.4 643.9 L347.18 644.78 L346.3 647 L345.42 644.78 L343.2 643.9 L345.42 643.02Z" fill="#9c9c9c"/>
<path d="M350 644.5 L350.88 646.72 L353.1 647.6 L350.88 648.48 L350 650.7 L349.12 648.48 L346.9 647.6 L349.12 646.72Z" fill="#9c9c9c"/>
<path d="M353.7 639.8 L354.58 642.02 L356.8 642.9 L354.58 643.78 L353.7 646 L352.82 643.78 L350.6 642.9 L352.82 642.02Z" fill="#9c9c9c"/>
<path d="M348.4 650.3 L349.28 652.52 L351.5 653.4 L349.28 654.28 L348.4 656.5 L347.52 654.28 L345.3 653.4 L347.52 652.52Z" fill="#9c9c9c"/>
<path d="M336.8 648.8 L337.68 651.02 L339.9 651.9 L337.68 652.78 L336.8 655 L335.92 652.78 L333.7 651.9 L335.92 651.02Z" fill="#9c9c9c"/>
<path d="M336.3 652.5 L337.18 654.72 L339.4 655.6 L337.18 656.48 L336.3 658.7 L335.42 656.48 L333.2 655.6 L335.42 654.72Z" fill="#9c9c9c"/>
<path d="M339.4 655.6 L340.28 657.82 L342.5 658.7 L340.28 659.58 L339.4 661.8 L338.52 659.58 L336.3 658.7 L338.52 657.82Z" fill="#9c9c9c"/>
<path d="M366.9 602.2 L367.78 604.42 L370 605.3 L367.78 606.18 L366.9 608.4 L366.02 606.18 L363.8 605.3 L366.02 604.42Z" fill="#9c9c9c"/>
<path d="M376.5 601.7 L377.38 603.92 L379.6 604.8 L377.38 605.68 L376.5 607.9 L375.62 605.68 L373.4 604.8 L375.62 603.92Z" fill="#9c9c9c"/>
<path d="M371.2 613.8 L372.08 616.02 L374.3 616.9 L372.08 617.78 L371.2 620 L370.32 617.78 L368.1 616.9 L370.32 616.02Z" fill="#9c9c9c"/>
<path d="M375.9 615.4 L376.78 617.62 L379 618.5 L376.78 619.38 L375.9 621.6 L375.02 619.38 L372.8 618.5 L375.02 617.62Z" fill="#9c9c9c"/>
<path d="M367.5 623.4 L368.38 625.62 L370.6 626.5 L368.38 627.38 L367.5 629.6 L366.62 627.38 L364.4 626.5 L366.62 625.62Z" fill="#9c9c9c"/>
<path d="M353.2 623.9 L354.08 626.12 L356.3 627 L354.08 627.88 L353.2 630.1 L352.32 627.88 L350.1 627 L352.32 626.12Z" fill="#9c9c9c"/>
<path d="M356.3 628.6 L357.18 630.82 L359.4 631.7 L357.18 632.58 L356.3 634.8 L355.42 632.58 L353.2 631.7 L355.42 630.82Z" fill="#9c9c9c"/>
<path d="M365.9 631.8 L366.78 634.02 L369 634.9 L366.78 635.78 L365.9 638 L365.02 635.78 L362.8 634.9 L365.02 634.02Z" fill="#9c9c9c"/>
<path d="M373.3 632.9 L374.18 635.12 L376.4 636 L374.18 636.88 L373.3 639.1 L372.42 636.88 L370.2 636 L372.42 635.12Z" fill="#9c9c9c"/>
<path d="M381.7 627.6 L382.58 629.82 L384.8 630.7 L382.58 631.58 L381.7 633.8 L380.82 631.58 L378.6 630.7 L380.82 629.82Z" fill="#9c9c9c"/>
<path d="M384.9 623.4 L385.78 625.62 L388 626.5 L385.78 627.38 L384.9 629.6 L384.02 627.38 L381.8 626.5 L384.02 625.62Z" fill="#9c9c9c"/>
<path d="M377.5 628.6 L378.38 630.82 L380.6 631.7 L378.38 632.58 L377.5 634.8 L376.62 632.58 L374.4 631.7 L376.62 630.82Z" fill="#9c9c9c"/>
<path d="M386 635 L386.88 637.22 L389.1 638.1 L386.88 638.98 L386 641.2 L385.12 638.98 L382.9 638.1 L385.12 637.22Z" fill="#9c9c9c"/>
<path d="M380.7 637.1 L381.58 639.32 L383.8 640.2 L381.58 641.08 L380.7 643.3 L379.82 641.08 L377.6 640.2 L379.82 639.32Z" fill="#9c9c9c"/>
<path d="M374.3 640.3 L375.18 642.52 L377.4 643.4 L375.18 644.28 L374.3 646.5 L373.42 644.28 L371.2 643.4 L373.42 642.52Z" fill="#9c9c9c"/>
<path d="M356.3 640.3 L357.18 642.52 L359.4 643.4 L357.18 644.28 L356.3 646.5 L355.42 644.28 L353.2 643.4 L355.42 642.52Z" fill="#9c9c9c"/>
<path d="M353.2 644.5 L354.08 646.72 L356.3 647.6 L354.08 648.48 L353.2 650.7 L352.32 648.48 L350.1 647.6 L352.32 646.72Z" fill="#9c9c9c"/>
<path d="M360.6 645.6 L361.48 647.82 L363.7 648.7 L361.48 649.58 L360.6 651.8 L359.72 649.58 L357.5 648.7 L359.72 647.82Z" fill="#9c9c9c"/>
<path d="M356.3 654.6 L357.18 656.82 L359.4 657.7 L357.18 658.58 L356.3 660.8 L355.42 658.58 L353.2 657.7 L355.42 656.82Z" fill="#9c9c9c"/>
<path d="M362.7 654 L363.58 656.22 L365.8 657.1 L363.58 657.98 L362.7 660.2 L361.82 657.98 L359.6 657.1 L361.82 656.22Z" fill="#9c9c9c"/>
<path d="M371.2 649.8 L372.08 652.02 L374.3 652.9 L372.08 653.78 L371.2 656 L370.32 653.78 L368.1 652.9 L370.32 652.02Z" fill="#9c9c9c"/>
<path d="M376.5 646.6 L377.38 648.82 L379.6 649.7 L377.38 650.58 L376.5 652.8 L375.62 650.58 L373.4 649.7 L375.62 648.82Z" fill="#9c9c9c"/>
<path d="M386 645.6 L386.88 647.82 L389.1 648.7 L386.88 649.58 L386 651.8 L385.12 649.58 L382.9 648.7 L385.12 647.82Z" fill="#9c9c9c"/>
<path d="M392.3 646.6 L393.18 648.82 L395.4 649.7 L393.18 650.58 L392.3 652.8 L391.42 650.58 L389.2 649.7 L391.42 648.82Z" fill="#9c9c9c"/>
<path d="M398.7 644.5 L399.58 646.72 L401.8 647.6 L399.58 648.48 L398.7 650.7 L397.82 648.48 L395.6 647.6 L397.82 646.72Z" fill="#9c9c9c"/>
<path d="M390.2 651.9 L391.08 654.12 L393.3 655 L391.08 655.88 L390.2 658.1 L389.32 655.88 L387.1 655 L389.32 654.12Z" fill="#9c9c9c"/>
<path d="M397.6 650.9 L398.48 653.12 L400.7 654 L398.48 654.88 L397.6 657.1 L396.72 654.88 L394.5 654 L396.72 653.12Z" fill="#9c9c9c"/>
<path d="M402.9 646.6 L403.78 648.82 L406 649.7 L403.78 650.58 L402.9 652.8 L402.02 650.58 L399.8 649.7 L402.02 648.82Z" fill="#9c9c9c"/>
<path d="M407.7 642.4 L408.58 644.62 L410.8 645.5 L408.58 646.38 L407.7 648.6 L406.82 646.38 L404.6 645.5 L406.82 644.62Z" fill="#9c9c9c"/>
<path d="M400.8 639.2 L401.68 641.42 L403.9 642.3 L401.68 643.18 L400.8 645.4 L399.92 643.18 L397.7 642.3 L399.92 641.42Z" fill="#9c9c9c"/>
<path d="M405 628.6 L405.88 630.82 L408.1 631.7 L405.88 632.58 L405 634.8 L404.12 632.58 L401.9 631.7 L404.12 630.82Z" fill="#9c9c9c"/>
<path d="M399.7 626.5 L400.58 628.72 L402.8 629.6 L400.58 630.48 L399.7 632.7 L398.82 630.48 L396.6 629.6 L398.82 628.72Z" fill="#9c9c9c"/>
<path d="M395.5 628.6 L396.38 630.82 L398.6 631.7 L396.38 632.58 L395.5 634.8 L394.62 632.58 L392.4 631.7 L394.62 630.82Z" fill="#9c9c9c"/>
<path d="M391.3 627.6 L392.18 629.82 L394.4 630.7 L392.18 631.58 L391.3 633.8 L390.42 631.58 L388.2 630.7 L390.42 629.82Z" fill="#9c9c9c"/>
<path d="M392.3 614.9 L393.18 617.12 L395.4 618 L393.18 618.88 L392.3 621.1 L391.42 618.88 L389.2 618 L391.42 617.12Z" fill="#9c9c9c"/>
<path d="M397.6 613.8 L398.48 616.02 L400.7 616.9 L398.48 617.78 L397.6 620 L396.72 617.78 L394.5 616.9 L396.72 616.02Z" fill="#9c9c9c"/>
<path d="M402.9 609.6 L403.78 611.82 L406 612.7 L403.78 613.58 L402.9 615.8 L402.02 613.58 L399.8 612.7 L402.02 611.82Z" fill="#9c9c9c"/>
<path d="M407.1 607.5 L407.98 609.72 L410.2 610.6 L407.98 611.48 L407.1 613.7 L406.22 611.48 L404 610.6 L406.22 609.72Z" fill="#9c9c9c"/>
<path d="M394.4 607.5 L395.28 609.72 L397.5 610.6 L395.28 611.48 L394.4 613.7 L393.52 611.48 L391.3 610.6 L393.52 609.72Z" fill="#9c9c9c"/>
<path d="M402.9 618.1 L403.78 620.32 L406 621.2 L403.78 622.08 L402.9 624.3 L402.02 622.08 L399.8 621.2 L402.02 620.32Z" fill="#9c9c9c"/>
<path d="M407.1 620.2 L407.98 622.42 L410.2 623.3 L407.98 624.18 L407.1 626.4 L406.22 624.18 L404 623.3 L406.22 622.42Z" fill="#9c9c9c"/>
<path d="M398.7 633.9 L399.58 636.12 L401.8 637 L399.58 637.88 L398.7 640.1 L397.82 637.88 L395.6 637 L397.82 636.12Z" fill="#9c9c9c"/>
<path d="M394.4 632.9 L395.28 635.12 L397.5 636 L395.28 636.88 L394.4 639.1 L393.52 636.88 L391.3 636 L393.52 635.12Z" fill="#9c9c9c"/>
<path d="M390.2 639.2 L391.08 641.42 L393.3 642.3 L391.08 643.18 L390.2 645.4 L389.32 643.18 L387.1 642.3 L389.32 641.42Z" fill="#9c9c9c"/>
<path d="M384.9 640.3 L385.78 642.52 L388 643.4 L385.78 644.28 L384.9 646.5 L384.02 644.28 L381.8 643.4 L384.02 642.52Z" fill="#9c9c9c"/>
<path d="M427.8 616.1 L428.68 618.32 L430.9 619.2 L428.68 620.08 L427.8 622.3 L426.92 620.08 L424.7 619.2 L426.92 618.32Z" fill="#9c9c9c"/>
<path d="M438.9 614.5 L439.78 616.72 L442 617.6 L439.78 618.48 L438.9 620.7 L438.02 618.48 L435.8 617.6 L438.02 616.72Z" fill="#9c9c9c"/>
<path d="M462.7 615.6 L463.58 617.82 L465.8 618.7 L463.58 619.58 L462.7 621.8 L461.82 619.58 L459.6 618.7 L461.82 617.82Z" fill="#9c9c9c"/>
<path d="M453.1 626.2 L453.98 628.42 L456.2 629.3 L453.98 630.18 L453.1 632.4 L452.22 630.18 L450 629.3 L452.22 628.42Z" fill="#9c9c9c"/>
<path d="M446.3 629.9 L447.18 632.12 L449.4 633 L447.18 633.88 L446.3 636.1 L445.42 633.88 L443.2 633 L445.42 632.12Z" fill="#9c9c9c"/>
<path d="M449.4 633.6 L450.28 635.82 L452.5 636.7 L450.28 637.58 L449.4 639.8 L448.52 637.58 L446.3 636.7 L448.52 635.82Z" fill="#9c9c9c"/>
<path d="M458.4 635.2 L459.28 637.42 L461.5 638.3 L459.28 639.18 L458.4 641.4 L457.52 639.18 L455.3 638.3 L457.52 637.42Z" fill="#9c9c9c"/>
<path d="M443.6 636.8 L444.48 639.02 L446.7 639.9 L444.48 640.78 L443.6 643 L442.72 640.78 L440.5 639.9 L442.72 639.02Z" fill="#9c9c9c"/>
<path d="M423 629.4 L423.88 631.62 L426.1 632.5 L423.88 633.38 L423 635.6 L422.12 633.38 L419.9 632.5 L422.12 631.62Z" fill="#9c9c9c"/>
<path d="M414.5 622.5 L415.38 624.72 L417.6 625.6 L415.38 626.48 L414.5 628.7 L413.62 626.48 L411.4 625.6 L413.62 624.72Z" fill="#9c9c9c"/>
<path d="M413.5 627.8 L414.38 630.02 L416.6 630.9 L414.38 631.78 L413.5 634 L412.62 631.78 L410.4 630.9 L412.62 630.02Z" fill="#9c9c9c"/>
<path d="M411.3 635.2 L412.18 637.42 L414.4 638.3 L412.18 639.18 L411.3 641.4 L410.42 639.18 L408.2 638.3 L410.42 637.42Z" fill="#9c9c9c"/>
<path d="M428.3 635.2 L429.18 637.42 L431.4 638.3 L429.18 639.18 L428.3 641.4 L427.42 639.18 L425.2 638.3 L427.42 637.42Z" fill="#9c9c9c"/>
<path d="M461.6 642.6 L462.48 644.82 L464.7 645.7 L462.48 646.58 L461.6 648.8 L460.72 646.58 L458.5 645.7 L460.72 644.82Z" fill="#9c9c9c"/>
<path d="M462.1 649.5 L462.98 651.72 L465.2 652.6 L462.98 653.48 L462.1 655.7 L461.22 653.48 L459 652.6 L461.22 651.72Z" fill="#9c9c9c"/>
<path d="M457.9 649.5 L458.78 651.72 L461 652.6 L458.78 653.48 L457.9 655.7 L457.02 653.48 L454.8 652.6 L457.02 651.72Z" fill="#9c9c9c"/>
<path d="M440.4 658.5 L441.28 660.72 L443.5 661.6 L441.28 662.48 L440.4 664.7 L439.52 662.48 L437.3 661.6 L439.52 660.72Z" fill="#9c9c9c"/>
<path d="M455.8 668.5 L456.68 670.72 L458.9 671.6 L456.68 672.48 L455.8 674.7 L454.92 672.48 L452.7 671.6 L454.92 670.72Z" fill="#9c9c9c"/>
<path d="M420.9 650 L421.78 652.22 L424 653.1 L421.78 653.98 L420.9 656.2 L420.02 653.98 L417.8 653.1 L420.02 652.22Z" fill="#9c9c9c"/>
<path d="M418.8 654.2 L419.68 656.42 L421.9 657.3 L419.68 658.18 L418.8 660.4 L417.92 658.18 L415.7 657.3 L417.92 656.42Z" fill="#9c9c9c"/>
<path d="M419.8 657.4 L420.68 659.62 L422.9 660.5 L420.68 661.38 L419.8 663.6 L418.92 661.38 L416.7 660.5 L418.92 659.62Z" fill="#9c9c9c"/>
<path d="M411.3 657.4 L412.18 659.62 L414.4 660.5 L412.18 661.38 L411.3 663.6 L410.42 661.38 L408.2 660.5 L410.42 659.62Z" fill="#9c9c9c"/>
<path d="M411.3 661.6 L412.18 663.82 L414.4 664.7 L412.18 665.58 L411.3 667.8 L410.42 665.58 L408.2 664.7 L410.42 663.82Z" fill="#9c9c9c"/>
<path d="M410.3 665.9 L411.18 668.12 L413.4 669 L411.18 669.88 L410.3 672.1 L409.42 669.88 L407.2 669 L409.42 668.12Z" fill="#9c9c9c"/>
<path d="M411.3 669.6 L412.18 671.82 L414.4 672.7 L412.18 673.58 L411.3 675.8 L410.42 673.58 L408.2 672.7 L410.42 671.82Z" fill="#9c9c9c"/>
<path d="M430.4 641.5 L431.28 643.72 L433.5 644.6 L431.28 645.48 L430.4 647.7 L429.52 645.48 L427.3 644.6 L429.52 643.72Z" fill="#9c9c9c"/>
<path d="M425.1 638.4 L425.98 640.62 L428.2 641.5 L425.98 642.38 L425.1 644.6 L424.22 642.38 L422 641.5 L424.22 640.62Z" fill="#9c9c9c"/>
<path d="M430.4 650 L431.28 652.22 L433.5 653.1 L431.28 653.98 L430.4 656.2 L429.52 653.98 L427.3 653.1 L429.52 652.22Z" fill="#9c9c9c"/>
<path d="M464.8 606.7 L465.68 608.92 L467.9 609.8 L465.68 610.68 L464.8 612.9 L463.92 610.68 L461.7 609.8 L463.92 608.92Z" fill="#9c9c9c"/>
<path d="M463 615.4 L463.88 617.62 L466.1 618.5 L463.88 619.38 L463 621.6 L462.12 619.38 L459.9 618.5 L462.12 617.62Z" fill="#9c9c9c"/>
<path d="M458.4 639.8 L459.28 642.02 L461.5 642.9 L459.28 643.78 L458.4 646 L457.52 643.78 L455.3 642.9 L457.52 642.02Z" fill="#9c9c9c"/>
<path d="M447.3 648.5 L448.18 650.72 L450.4 651.6 L448.18 652.48 L447.3 654.7 L446.42 652.48 L444.2 651.6 L446.42 650.72Z" fill="#9c9c9c"/>
<path d="M336 653 L336.88 655.22 L339.1 656.1 L336.88 656.98 L336 659.2 L335.12 656.98 L332.9 656.1 L335.12 655.22Z" fill="#9c9c9c"/>
<path d="M339.7 656.1 L340.58 658.32 L342.8 659.2 L340.58 660.08 L339.7 662.3 L338.82 660.08 L336.6 659.2 L338.82 658.32Z" fill="#9c9c9c"/>
<path d="M336 660.9 L336.88 663.12 L339.1 664 L336.88 664.88 L336 667.1 L335.12 664.88 L332.9 664 L335.12 663.12Z" fill="#9c9c9c"/>
<path d="M342.3 662.5 L343.18 664.72 L345.4 665.6 L343.18 666.48 L342.3 668.7 L341.42 666.48 L339.2 665.6 L341.42 664.72Z" fill="#9c9c9c"/>
<path d="M345.5 662.5 L346.38 664.72 L348.6 665.6 L346.38 666.48 L345.5 668.7 L344.62 666.48 L342.4 665.6 L344.62 664.72Z" fill="#9c9c9c"/>
<path d="M350.8 661.4 L351.68 663.62 L353.9 664.5 L351.68 665.38 L350.8 667.6 L349.92 665.38 L347.7 664.5 L349.92 663.62Z" fill="#9c9c9c"/>
<path d="M354.5 661.4 L355.38 663.62 L357.6 664.5 L355.38 665.38 L354.5 667.6 L353.62 665.38 L351.4 664.5 L353.62 663.62Z" fill="#9c9c9c"/>
<path d="M356.6 655.6 L357.48 657.82 L359.7 658.7 L357.48 659.58 L356.6 661.8 L355.72 659.58 L353.5 658.7 L355.72 657.82Z" fill="#9c9c9c"/>
<path d="M358.7 659.3 L359.58 661.52 L361.8 662.4 L359.58 663.28 L358.7 665.5 L357.82 663.28 L355.6 662.4 L357.82 661.52Z" fill="#9c9c9c"/>
<path d="M359.3 670.4 L360.18 672.62 L362.4 673.5 L360.18 674.38 L359.3 676.6 L358.42 674.38 L356.2 673.5 L358.42 672.62Z" fill="#9c9c9c"/>
<path d="M357.7 675.7 L358.58 677.92 L360.8 678.8 L358.58 679.68 L357.7 681.9 L356.82 679.68 L354.6 678.8 L356.82 677.92Z" fill="#9c9c9c"/>
<path d="M345 680.3 L345.88 682.52 L348.1 683.4 L345.88 684.28 L345 686.5 L344.12 684.28 L341.9 683.4 L344.12 682.52Z" fill="#9c9c9c"/>
<path d="M355 690.5 L355.88 692.72 L358.1 693.6 L355.88 694.48 L355 696.7 L354.12 694.48 L351.9 693.6 L354.12 692.72Z" fill="#9c9c9c"/>
<path d="M357.1 695.3 L357.98 697.52 L360.2 698.4 L357.98 699.28 L357.1 701.5 L356.22 699.28 L354 698.4 L356.22 697.52Z" fill="#9c9c9c"/>
<path d="M350.8 699 L351.68 701.22 L353.9 702.1 L351.68 702.98 L350.8 705.2 L349.92 702.98 L347.7 702.1 L349.92 701.22Z" fill="#9c9c9c"/>
<path d="M359.3 706.4 L360.18 708.62 L362.4 709.5 L360.18 710.38 L359.3 712.6 L358.42 710.38 L356.2 709.5 L358.42 708.62Z" fill="#9c9c9c"/>
<path d="M361.3 655.1 L362.18 657.32 L364.4 658.2 L362.18 659.08 L361.3 661.3 L360.42 659.08 L358.2 658.2 L360.42 657.32Z" fill="#9c9c9c"/>
<path d="M366.6 656.7 L367.48 658.92 L369.7 659.8 L367.48 660.68 L366.6 662.9 L365.72 660.68 L363.5 659.8 L365.72 658.92Z" fill="#9c9c9c"/>
<path d="M358.2 657.7 L359.08 659.92 L361.3 660.8 L359.08 661.68 L358.2 663.9 L357.32 661.68 L355.1 660.8 L357.32 659.92Z" fill="#9c9c9c"/>
<path d="M367.7 659.8 L368.58 662.02 L370.8 662.9 L368.58 663.78 L367.7 666 L366.82 663.78 L364.6 662.9 L366.82 662.02Z" fill="#9c9c9c"/>
<path d="M359.2 669.9 L360.08 672.12 L362.3 673 L360.08 673.88 L359.2 676.1 L358.32 673.88 L356.1 673 L358.32 672.12Z" fill="#9c9c9c"/>
<path d="M370.9 668.8 L371.78 671.02 L374 671.9 L371.78 672.78 L370.9 675 L370.02 672.78 L367.8 671.9 L370.02 671.02Z" fill="#9c9c9c"/>
<path d="M377.2 672 L378.08 674.22 L380.3 675.1 L378.08 675.98 L377.2 678.2 L376.32 675.98 L374.1 675.1 L376.32 674.22Z" fill="#9c9c9c"/>
<path d="M358.2 675.2 L359.08 677.42 L361.3 678.3 L359.08 679.18 L358.2 681.4 L357.32 679.18 L355.1 678.3 L357.32 677.42Z" fill="#9c9c9c"/>
<path d="M369.3 677.3 L370.18 679.52 L372.4 680.4 L370.18 681.28 L369.3 683.5 L368.42 681.28 L366.2 680.4 L368.42 679.52Z" fill="#9c9c9c"/>
<path d="M377.2 676.8 L378.08 679.02 L380.3 679.9 L378.08 680.78 L377.2 683 L376.32 680.78 L374.1 679.9 L376.32 679.02Z" fill="#9c9c9c"/>
<path d="M387.8 675.7 L388.68 677.92 L390.9 678.8 L388.68 679.68 L387.8 681.9 L386.92 679.68 L384.7 678.8 L386.92 677.92Z" fill="#9c9c9c"/>
<path d="M384.6 682.6 L385.48 684.82 L387.7 685.7 L385.48 686.58 L384.6 688.8 L383.72 686.58 L381.5 685.7 L383.72 684.82Z" fill="#9c9c9c"/>
<path d="M386.7 687.9 L387.58 690.12 L389.8 691 L387.58 691.88 L386.7 694.1 L385.82 691.88 L383.6 691 L385.82 690.12Z" fill="#9c9c9c"/>
<path d="M379.3 684.7 L380.18 686.92 L382.4 687.8 L380.18 688.68 L379.3 690.9 L378.42 688.68 L376.2 687.8 L378.42 686.92Z" fill="#9c9c9c"/>
<path d="M370.9 688.9 L371.78 691.12 L374 692 L371.78 692.88 L370.9 695.1 L370.02 692.88 L367.8 692 L370.02 691.12Z" fill="#9c9c9c"/>
<path d="M367.2 692.1 L368.08 694.32 L370.3 695.2 L368.08 696.08 L367.2 698.3 L366.32 696.08 L364.1 695.2 L366.32 694.32Z" fill="#9c9c9c"/>
<path d="M371.9 694.2 L372.78 696.42 L375 697.3 L372.78 698.18 L371.9 700.4 L371.02 698.18 L368.8 697.3 L371.02 696.42Z" fill="#9c9c9c"/>
<path d="M368.8 696.3 L369.68 698.52 L371.9 699.4 L369.68 700.28 L368.8 702.5 L367.92 700.28 L365.7 699.4 L367.92 698.52Z" fill="#9c9c9c"/>
<path d="M381.5 700.6 L382.38 702.82 L384.6 703.7 L382.38 704.58 L381.5 706.8 L380.62 704.58 L378.4 703.7 L380.62 702.82Z" fill="#9c9c9c"/>
<path d="M379.3 703.8 L380.18 706.02 L382.4 706.9 L380.18 707.78 L379.3 710 L378.42 707.78 L376.2 706.9 L378.42 706.02Z" fill="#9c9c9c"/>
<path d="M370.9 701.6 L371.78 703.82 L374 704.7 L371.78 705.58 L370.9 707.8 L370.02 705.58 L367.8 704.7 L370.02 703.82Z" fill="#9c9c9c"/>
<path d="M359.2 706.9 L360.08 709.12 L362.3 710 L360.08 710.88 L359.2 713.1 L358.32 710.88 L356.1 710 L358.32 709.12Z" fill="#9c9c9c"/>
<path d="M393.6 695.3 L394.48 697.52 L396.7 698.4 L394.48 699.28 L393.6 701.5 L392.72 699.28 L390.5 698.4 L392.72 697.52Z" fill="#9c9c9c"/>
<path d="M396.8 705.9 L397.68 708.12 L399.9 709 L397.68 709.88 L396.8 712.1 L395.92 709.88 L393.7 709 L395.92 708.12Z" fill="#9c9c9c"/>
<path d="M405.8 702.7 L406.68 704.92 L408.9 705.8 L406.68 706.68 L405.8 708.9 L404.92 706.68 L402.7 705.8 L404.92 704.92Z" fill="#9c9c9c"/>
<path d="M410 691.6 L410.88 693.82 L413.1 694.7 L410.88 695.58 L410 697.8 L409.12 695.58 L406.9 694.7 L409.12 693.82Z" fill="#9c9c9c"/>
<path d="M412.1 675.2 L412.98 677.42 L415.2 678.3 L412.98 679.18 L412.1 681.4 L411.22 679.18 L409 678.3 L411.22 677.42Z" fill="#9c9c9c"/>
<path d="M412.7 662.5 L413.58 664.72 L415.8 665.6 L413.58 666.48 L412.7 668.7 L411.82 666.48 L409.6 665.6 L411.82 664.72Z" fill="#9c9c9c"/>
<path d="M405.8 667.8 L406.68 670.02 L408.9 670.9 L406.68 671.78 L405.8 674 L404.92 671.78 L402.7 670.9 L404.92 670.02Z" fill="#9c9c9c"/>
<path d="M394.2 677.8 L395.08 680.02 L397.3 680.9 L395.08 681.78 L394.2 684 L393.32 681.78 L391.1 680.9 L393.32 680.02Z" fill="#9c9c9c"/>
<path d="M392 655.1 L392.88 657.32 L395.1 658.2 L392.88 659.08 L392 661.3 L391.12 659.08 L388.9 658.2 L391.12 657.32Z" fill="#9c9c9c"/>
<path d="M380.4 657.2 L381.28 659.42 L383.5 660.3 L381.28 661.18 L380.4 663.4 L379.52 661.18 L377.3 660.3 L379.52 659.42Z" fill="#9c9c9c"/>
<path d="M378.3 664.6 L379.18 666.82 L381.4 667.7 L379.18 668.58 L378.3 670.8 L377.42 668.58 L375.2 667.7 L377.42 666.82Z" fill="#9c9c9c"/>
<path d="M455.8 668.2 L456.68 670.42 L458.9 671.3 L456.68 672.18 L455.8 674.4 L454.92 672.18 L452.7 671.3 L454.92 670.42Z" fill="#9c9c9c"/>
<path d="M411.3 669.8 L412.18 672.02 L414.4 672.9 L412.18 673.78 L411.3 676 L410.42 673.78 L408.2 672.9 L410.42 672.02Z" fill="#9c9c9c"/>
<path d="M412.4 675.7 L413.28 677.92 L415.5 678.8 L413.28 679.68 L412.4 681.9 L411.52 679.68 L409.3 678.8 L411.52 677.92Z" fill="#9c9c9c"/>
<path d="M415.6 677.8 L416.48 680.02 L418.7 680.9 L416.48 681.78 L415.6 684 L414.72 681.78 L412.5 680.9 L414.72 680.02Z" fill="#9c9c9c"/>
<path d="M418.8 681.5 L419.68 683.72 L421.9 684.6 L419.68 685.48 L418.8 687.7 L417.92 685.48 L415.7 684.6 L417.92 683.72Z" fill="#9c9c9c"/>
<path d="M409.2 691.5 L410.08 693.72 L412.3 694.6 L410.08 695.48 L409.2 697.7 L408.32 695.48 L406.1 694.6 L408.32 693.72Z" fill="#9c9c9c"/>
<path d="M415.6 689.9 L416.48 692.12 L418.7 693 L416.48 693.88 L415.6 696.1 L414.72 693.88 L412.5 693 L414.72 692.12Z" fill="#9c9c9c"/>
<path d="M422.5 696.8 L423.38 699.02 L425.6 699.9 L423.38 700.78 L422.5 703 L421.62 700.78 L419.4 699.9 L421.62 699.02Z" fill="#9c9c9c"/>
<path d="M406.1 702.6 L406.98 704.82 L409.2 705.7 L406.98 706.58 L406.1 708.8 L405.22 706.58 L403 705.7 L405.22 704.82Z" fill="#9c9c9c"/>
<path d="M424 705.8 L424.88 708.02 L427.1 708.9 L424.88 709.78 L424 712 L423.12 709.78 L420.9 708.9 L423.12 708.02Z" fill="#9c9c9c"/>
<path d="M424.6 714.3 L425.48 716.52 L427.7 717.4 L425.48 718.28 L424.6 720.5 L423.72 718.28 L421.5 717.4 L423.72 716.52Z" fill="#9c9c9c"/>
<path d="M415.6 720.6 L416.48 722.82 L418.7 723.7 L416.48 724.58 L415.6 726.8 L414.72 724.58 L412.5 723.7 L414.72 722.82Z" fill="#9c9c9c"/>
<path d="M409.2 665.1 L410.08 667.32 L412.3 668.2 L410.08 669.08 L409.2 671.3 L408.32 669.08 L406.1 668.2 L408.32 667.32Z" fill="#9c9c9c"/>
<path d="M351.2 699 L352.08 701.22 L354.3 702.1 L352.08 702.98 L351.2 705.2 L350.32 702.98 L348.1 702.1 L350.32 701.22Z" fill="#9c9c9c"/>
<path d="M359.6 706.8 L360.48 709.02 L362.7 709.9 L360.48 710.78 L359.6 713 L358.72 710.78 L356.5 709.9 L358.72 709.02Z" fill="#9c9c9c"/>
<path d="M370.9 702.3 L371.78 704.52 L374 705.4 L371.78 706.28 L370.9 708.5 L370.02 706.28 L367.8 705.4 L370.02 704.52Z" fill="#9c9c9c"/>
<path d="M378.7 702.8 L379.58 705.02 L381.8 705.9 L379.58 706.78 L378.7 709 L377.82 706.78 L375.6 705.9 L377.82 705.02Z" fill="#9c9c9c"/>
<path d="M382.2 700.4 L383.08 702.62 L385.3 703.5 L383.08 704.38 L382.2 706.6 L381.32 704.38 L379.1 703.5 L381.32 702.62Z" fill="#9c9c9c"/>
<path d="M396.3 705.6 L397.18 707.82 L399.4 708.7 L397.18 709.58 L396.3 711.8 L395.42 709.58 L393.2 708.7 L395.42 707.82Z" fill="#9c9c9c"/>
<path d="M406.2 702.5 L407.08 704.72 L409.3 705.6 L407.08 706.48 L406.2 708.7 L405.32 706.48 L403.1 705.6 L405.32 704.72Z" fill="#9c9c9c"/>
<path d="M398.4 712.4 L399.28 714.62 L401.5 715.5 L399.28 716.38 L398.4 718.6 L397.52 716.38 L395.3 715.5 L397.52 714.62Z" fill="#9c9c9c"/>
<path d="M396.5 705.8 L397.38 708.02 L399.6 708.9 L397.38 709.78 L396.5 712 L395.62 709.78 L393.4 708.9 L395.62 708.02Z" fill="#9c9c9c"/>
<path d="M405.8 702.2 L406.68 704.42 L408.9 705.3 L406.68 706.18 L405.8 708.4 L404.92 706.18 L402.7 705.3 L404.92 704.42Z" fill="#9c9c9c"/>
<path d="M398 712.1 L398.88 714.32 L401.1 715.2 L398.88 716.08 L398 718.3 L397.12 716.08 L394.9 715.2 L397.12 714.32Z" fill="#9c9c9c"/>
<path d="M424 705.8 L424.88 708.02 L427.1 708.9 L424.88 709.78 L424 712 L423.12 709.78 L420.9 708.9 L423.12 708.02Z" fill="#9c9c9c"/>
<path d="M424.4 714.3 L425.28 716.52 L427.5 717.4 L425.28 718.28 L424.4 720.5 L423.52 718.28 L421.3 717.4 L423.52 716.52Z" fill="#9c9c9c"/>
<path d="M415.6 721.2 L416.48 723.42 L418.7 724.3 L416.48 725.18 L415.6 727.4 L414.72 725.18 L412.5 724.3 L414.72 723.42Z" fill="#9c9c9c"/>
<path d="M421.7 725 L422.58 727.22 L424.8 728.1 L422.58 728.98 L421.7 731.2 L420.82 728.98 L418.6 728.1 L420.82 727.22Z" fill="#9c9c9c"/>
<path d="M423 697.3 L423.88 699.52 L426.1 700.4 L423.88 701.28 L423 703.5 L422.12 701.28 L419.9 700.4 L422.12 699.52Z" fill="#9c9c9c"/>
<path d="M387.32 627.23 L388.2 629.45 L390.42 630.33 L388.2 631.2 L387.32 633.43 L386.45 631.2 L384.22 630.33 L386.45 629.45Z" fill="#9c9c9c"/>
<path d="M391.7 626.01 L392.58 628.23 L394.8 629.11 L392.58 629.98 L391.7 632.21 L390.83 629.98 L388.6 629.11 L390.83 628.23Z" fill="#9c9c9c"/>
<path d="M393.77 625.35 L394.65 627.57 L396.87 628.45 L394.65 629.33 L393.77 631.55 L392.9 629.33 L390.67 628.45 L392.9 627.57Z" fill="#9c9c9c"/>
<path d="M384.35 630.92 L385.23 633.14 L387.45 634.02 L385.23 634.89 L384.35 637.12 L383.48 634.89 L381.25 634.02 L383.48 633.14Z" fill="#9c9c9c"/>
<path d="M388.66 630.67 L389.54 632.89 L391.76 633.77 L389.54 634.65 L388.66 636.87 L387.79 634.65 L385.56 633.77 L387.79 632.89Z" fill="#9c9c9c"/>
<path d="M390.42 628.42 L391.3 630.65 L393.52 631.52 L391.3 632.4 L390.42 634.62 L389.55 632.4 L387.32 631.52 L389.55 630.65Z" fill="#9c9c9c"/>
<path d="M393.57 628.76 L394.44 630.99 L396.67 631.86 L394.44 632.74 L393.57 634.96 L392.69 632.74 L390.47 631.86 L392.69 630.99Z" fill="#9c9c9c"/>
<path d="M386.55 632.53 L387.43 634.75 L389.65 635.63 L387.43 636.51 L386.55 638.73 L385.68 636.51 L383.45 635.63 L385.68 634.75Z" fill="#9c9c9c"/>
<path d="M390.46 633.95 L391.33 636.18 L393.56 637.05 L391.33 637.93 L390.46 640.15 L389.58 637.93 L387.36 637.05 L389.58 636.18Z" fill="#9c9c9c"/>
<path d="M392.76 632.07 L393.63 634.3 L395.86 635.17 L393.63 636.05 L392.76 638.27 L391.88 636.05 L389.66 635.17 L391.88 634.3Z" fill="#9c9c9c"/>
<path d="M394.62 629.54 L395.49 631.76 L397.72 632.64 L395.49 633.51 L394.62 635.74 L393.74 633.51 L391.52 632.64 L393.74 631.76Z" fill="#9c9c9c"/>
<path d="M398.73 628.68 L399.61 630.9 L401.83 631.78 L399.61 632.65 L398.73 634.88 L397.86 632.65 L395.63 631.78 L397.86 630.9Z" fill="#9c9c9c"/>
<path d="M386.12 635.89 L387 638.11 L389.22 638.99 L387 639.87 L386.12 642.09 L385.25 639.87 L383.02 638.99 L385.25 638.11Z" fill="#9c9c9c"/>
<path d="M388.86 635.49 L389.74 637.71 L391.96 638.59 L389.74 639.47 L388.86 641.69 L387.98 639.47 L385.76 638.59 L387.98 637.71Z" fill="#9c9c9c"/>
<path d="M393.08 635.5 L393.96 637.72 L396.18 638.6 L393.96 639.48 L393.08 641.7 L392.2 639.48 L389.98 638.6 L392.2 637.72Z" fill="#9c9c9c"/>
<path d="M396.44 634 L397.31 636.22 L399.54 637.1 L397.31 637.98 L396.44 640.2 L395.56 637.98 L393.34 637.1 L395.56 636.22Z" fill="#9c9c9c"/>
<path d="M399.54 633.08 L400.41 635.3 L402.64 636.18 L400.41 637.06 L399.54 639.28 L398.66 637.06 L396.44 636.18 L398.66 635.3Z" fill="#9c9c9c"/>
<path d="M387.69 638.82 L388.57 641.04 L390.79 641.92 L388.57 642.8 L387.69 645.02 L386.82 642.8 L384.59 641.92 L386.82 641.04Z" fill="#9c9c9c"/>
<path d="M392.25 639.71 L393.13 641.93 L395.35 642.81 L393.13 643.69 L392.25 645.91 L391.38 643.69 L389.15 642.81 L391.38 641.93Z" fill="#9c9c9c"/>
<path d="M395 637.99 L395.87 640.21 L398.1 641.09 L395.87 641.96 L395 644.19 L394.12 641.96 L391.9 641.09 L394.12 640.21Z" fill="#9c9c9c"/>
<path d="M396.78 635.77 L397.66 637.99 L399.88 638.87 L397.66 639.74 L396.78 641.97 L395.91 639.74 L393.68 638.87 L395.91 637.99Z" fill="#9c9c9c"/>
<path d="M399.87 634.38 L400.74 636.6 L402.97 637.48 L400.74 638.36 L399.87 640.58 L398.99 638.36 L396.77 637.48 L398.99 636.6Z" fill="#9c9c9c"/>
<path d="M389.38 641.97 L390.25 644.2 L392.48 645.07 L390.25 645.95 L389.38 648.17 L388.5 645.95 L386.28 645.07 L388.5 644.2Z" fill="#9c9c9c"/>
<path d="M392.74 640.96 L393.61 643.19 L395.84 644.06 L393.61 644.94 L392.74 647.16 L391.86 644.94 L389.64 644.06 L391.86 643.19Z" fill="#9c9c9c"/>
<path d="M396.18 641.19 L397.06 643.41 L399.28 644.29 L397.06 645.16 L396.18 647.39 L395.3 645.16 L393.08 644.29 L395.3 643.41Z" fill="#9c9c9c"/>
<path d="M396.84 638.55 L397.72 640.78 L399.94 641.65 L397.72 642.53 L396.84 644.75 L395.97 642.53 L393.74 641.65 L395.97 640.78Z" fill="#9c9c9c"/>
<path d="M402.36 638.25 L403.24 640.48 L405.46 641.35 L403.24 642.23 L402.36 644.45 L401.48 642.23 L399.26 641.35 L401.48 640.48Z" fill="#9c9c9c"/>
<path d="M390.81 644.8 L391.69 647.03 L393.91 647.9 L391.69 648.78 L390.81 651 L389.93 648.78 L387.71 647.9 L389.93 647.03Z" fill="#9c9c9c"/>
<path d="M391.6 644.43 L392.48 646.66 L394.7 647.53 L392.48 648.41 L391.6 650.63 L390.73 648.41 L388.5 647.53 L390.73 646.66Z" fill="#9c9c9c"/>
<path d="M396.59 642.52 L397.47 644.75 L399.69 645.62 L397.47 646.5 L396.59 648.72 L395.71 646.5 L393.49 645.62 L395.71 644.75Z" fill="#9c9c9c"/>
<path d="M397.95 641.71 L398.82 643.93 L401.05 644.81 L398.82 645.69 L397.95 647.91 L397.07 645.69 L394.85 644.81 L397.07 643.93Z" fill="#9c9c9c"/>
<path d="M403.38 641.84 L404.26 644.06 L406.48 644.94 L404.26 645.82 L403.38 648.04 L402.5 645.82 L400.28 644.94 L402.5 644.06Z" fill="#9c9c9c"/>
<path d="M389.45 647.25 L390.32 649.47 L392.55 650.35 L390.32 651.23 L389.45 653.45 L388.57 651.23 L386.35 650.35 L388.57 649.47Z" fill="#9c9c9c"/>
<path d="M392.55 645.79 L393.43 648.01 L395.65 648.89 L393.43 649.77 L392.55 651.99 L391.68 649.77 L389.45 648.89 L391.68 648.01Z" fill="#9c9c9c"/>
<path d="M397.52 645.12 L398.39 647.34 L400.62 648.22 L398.39 649.1 L397.52 651.32 L396.64 649.1 L394.42 648.22 L396.64 647.34Z" fill="#9c9c9c"/>
<path d="M400.05 644.85 L400.93 647.07 L403.15 647.95 L400.93 648.82 L400.05 651.05 L399.17 648.82 L396.95 647.95 L399.17 647.07Z" fill="#9c9c9c"/>
<path d="M393.66 650.37 L394.54 652.6 L396.76 653.47 L394.54 654.35 L393.66 656.57 L392.79 654.35 L390.56 653.47 L392.79 652.6Z" fill="#9c9c9c"/>
<path d="M396.66 649.17 L397.54 651.39 L399.76 652.27 L397.54 653.15 L396.66 655.37 L395.79 653.15 L393.56 652.27 L395.79 651.39Z" fill="#9c9c9c"/>
<path d="M384.91 613.97 L385.79 616.19 L388.01 617.07 L385.79 617.94 L384.91 620.17 L384.03 617.94 L381.81 617.07 L384.03 616.19Z" fill="#9c9c9c"/>
<path d="M390.6 612.11 L391.48 614.34 L393.7 615.21 L391.48 616.09 L390.6 618.31 L389.72 616.09 L387.5 615.21 L389.72 614.34Z" fill="#9c9c9c"/>
<path d="M393.24 612.95 L394.12 615.17 L396.34 616.05 L394.12 616.93 L393.24 619.15 L392.36 616.93 L390.14 616.05 L392.36 615.17Z" fill="#9c9c9c"/>
<path d="M399.19 614.52 L400.06 616.74 L402.29 617.62 L400.06 618.49 L399.19 620.72 L398.31 618.49 L396.09 617.62 L398.31 616.74Z" fill="#9c9c9c"/>
<path d="M380.69 618.27 L381.56 620.49 L383.79 621.37 L381.56 622.24 L380.69 624.47 L379.81 622.24 L377.59 621.37 L379.81 620.49Z" fill="#9c9c9c"/>
<path d="M385.21 618.48 L386.09 620.7 L388.31 621.58 L386.09 622.46 L385.21 624.68 L384.33 622.46 L382.11 621.58 L384.33 620.7Z" fill="#9c9c9c"/>
<path d="M388.72 617.68 L389.6 619.91 L391.82 620.78 L389.6 621.66 L388.72 623.88 L387.85 621.66 L385.62 620.78 L387.85 619.91Z" fill="#9c9c9c"/>
<path d="M393.78 619.36 L394.66 621.58 L396.88 622.46 L394.66 623.34 L393.78 625.56 L392.91 623.34 L390.68 622.46 L392.91 621.58Z" fill="#9c9c9c"/>
<path d="M398.41 619.05 L399.29 621.27 L401.51 622.15 L399.29 623.02 L398.41 625.25 L397.53 623.02 L395.31 622.15 L397.53 621.27Z" fill="#9c9c9c"/>
<path d="M403.47 618.57 L404.35 620.8 L406.57 621.67 L404.35 622.55 L403.47 624.77 L402.59 622.55 L400.37 621.67 L402.59 620.8Z" fill="#9c9c9c"/>
<path d="M379.41 622.06 L380.29 624.28 L382.51 625.16 L380.29 626.03 L379.41 628.26 L378.54 626.03 L376.31 625.16 L378.54 624.28Z" fill="#9c9c9c"/>
<path d="M386.23 620.67 L387.11 622.89 L389.33 623.77 L387.11 624.64 L386.23 626.87 L385.36 624.64 L383.13 623.77 L385.36 622.89Z" fill="#9c9c9c"/>
<path d="M388.42 623.89 L389.3 626.12 L391.52 626.99 L389.3 627.87 L388.42 630.09 L387.54 627.87 L385.32 626.99 L387.54 626.12Z" fill="#9c9c9c"/>
<path d="M395.03 620.93 L395.91 623.15 L398.13 624.03 L395.91 624.9 L395.03 627.13 L394.16 624.9 L391.93 624.03 L394.16 623.15Z" fill="#9c9c9c"/>
<path d="M401.75 624.01 L402.63 626.23 L404.85 627.11 L402.63 627.98 L401.75 630.21 L400.88 627.98 L398.65 627.11 L400.88 626.23Z" fill="#9c9c9c"/>
<path d="M403.61 622.12 L404.48 624.35 L406.71 625.22 L404.48 626.1 L403.61 628.32 L402.73 626.1 L400.51 625.22 L402.73 624.35Z" fill="#9c9c9c"/>
<path d="M378.69 626.23 L379.56 628.45 L381.79 629.33 L379.56 630.2 L378.69 632.43 L377.81 630.2 L375.59 629.33 L377.81 628.45Z" fill="#9c9c9c"/>
<path d="M385.44 625.69 L386.31 627.91 L388.54 628.79 L386.31 629.67 L385.44 631.89 L384.56 629.67 L382.34 628.79 L384.56 627.91Z" fill="#9c9c9c"/>
<path d="M390.71 625.28 L391.59 627.51 L393.81 628.38 L391.59 629.26 L390.71 631.48 L389.83 629.26 L387.61 628.38 L389.83 627.51Z" fill="#9c9c9c"/>
<path d="M393.82 628.04 L394.69 630.26 L396.92 631.14 L394.69 632.01 L393.82 634.24 L392.94 632.01 L390.72 631.14 L392.94 630.26Z" fill="#9c9c9c"/>
<path d="M399.64 626.61 L400.52 628.83 L402.74 629.71 L400.52 630.58 L399.64 632.81 L398.77 630.58 L396.54 629.71 L398.77 628.83Z" fill="#9c9c9c"/>
<path d="M405.35 626.82 L406.22 629.04 L408.45 629.92 L406.22 630.79 L405.35 633.02 L404.47 630.79 L402.25 629.92 L404.47 629.04Z" fill="#9c9c9c"/>
<path d="M379.58 629.71 L380.46 631.93 L382.68 632.81 L380.46 633.69 L379.58 635.91 L378.71 633.69 L376.48 632.81 L378.71 631.93Z" fill="#9c9c9c"/>
<path d="M385.81 633.08 L386.69 635.31 L388.91 636.18 L386.69 637.06 L385.81 639.28 L384.94 637.06 L382.71 636.18 L384.94 635.31Z" fill="#9c9c9c"/>
<path d="M391.71 631.99 L392.59 634.21 L394.81 635.09 L392.59 635.97 L391.71 638.19 L390.84 635.97 L388.61 635.09 L390.84 634.21Z" fill="#9c9c9c"/>
<path d="M394.48 630.91 L395.36 633.13 L397.58 634.01 L395.36 634.88 L394.48 637.11 L393.61 634.88 L391.38 634.01 L393.61 633.13Z" fill="#9c9c9c"/>
<path d="M400.68 632.03 L401.56 634.25 L403.78 635.13 L401.56 636 L400.68 638.23 L399.81 636 L397.58 635.13 L399.81 634.25Z" fill="#9c9c9c"/>
<path d="M403.61 630.45 L404.49 632.67 L406.71 633.55 L404.49 634.42 L403.61 636.65 L402.73 634.42 L400.51 633.55 L402.73 632.67Z" fill="#9c9c9c"/>
<path d="M379.51 635.94 L380.38 638.16 L382.61 639.04 L380.38 639.92 L379.51 642.14 L378.63 639.92 L376.41 639.04 L378.63 638.16Z" fill="#9c9c9c"/>
<path d="M386.12 635.9 L386.99 638.12 L389.22 639 L386.99 639.88 L386.12 642.1 L385.24 639.88 L383.02 639 L385.24 638.12Z" fill="#9c9c9c"/>
<path d="M388.3 637.06 L389.18 639.28 L391.4 640.16 L389.18 641.04 L388.3 643.26 L387.42 641.04 L385.2 640.16 L387.42 639.28Z" fill="#9c9c9c"/>
<path d="M394.75 635.97 L395.63 638.19 L397.85 639.07 L395.63 639.95 L394.75 642.17 L393.87 639.95 L391.65 639.07 L393.87 638.19Z" fill="#9c9c9c"/>
<path d="M399 635.64 L399.88 637.86 L402.1 638.74 L399.88 639.61 L399 641.84 L398.12 639.61 L395.9 638.74 L398.12 637.86Z" fill="#9c9c9c"/>
<path d="M404.6 636.88 L405.47 639.1 L407.7 639.98 L405.47 640.86 L404.6 643.08 L403.72 640.86 L401.5 639.98 L403.72 639.1Z" fill="#9c9c9c"/>
<path d="M378.57 640.58 L379.45 642.8 L381.67 643.68 L379.45 644.56 L378.57 646.78 L377.69 644.56 L375.47 643.68 L377.69 642.8Z" fill="#9c9c9c"/>
<path d="M383.84 641.11 L384.72 643.33 L386.94 644.21 L384.72 645.08 L383.84 647.31 L382.96 645.08 L380.74 644.21 L382.96 643.33Z" fill="#9c9c9c"/>
<path d="M388.33 639.6 L389.21 641.82 L391.43 642.7 L389.21 643.57 L388.33 645.8 L387.46 643.57 L385.23 642.7 L387.46 641.82Z" fill="#9c9c9c"/>
<path d="M394.44 640.89 L395.32 643.12 L397.54 643.99 L395.32 644.87 L394.44 647.09 L393.56 644.87 L391.34 643.99 L393.56 643.12Z" fill="#9c9c9c"/>
<path d="M398.39 640.25 L399.26 642.48 L401.49 643.35 L399.26 644.23 L398.39 646.45 L397.51 644.23 L395.29 643.35 L397.51 642.48Z" fill="#9c9c9c"/>
<path d="M403.95 639.61 L404.83 641.84 L407.05 642.71 L404.83 643.59 L403.95 645.81 L403.07 643.59 L400.85 642.71 L403.07 641.84Z" fill="#9c9c9c"/>
<path d="M379.91 646.55 L380.79 648.77 L383.01 649.65 L380.79 650.53 L379.91 652.75 L379.04 650.53 L376.81 649.65 L379.04 648.77Z" fill="#9c9c9c"/>
<path d="M384.93 646.54 L385.81 648.76 L388.03 649.64 L385.81 650.52 L384.93 652.74 L384.05 650.52 L381.83 649.64 L384.05 648.76Z" fill="#9c9c9c"/>
<path d="M388.8 646.43 L389.68 648.65 L391.9 649.53 L389.68 650.4 L388.8 652.63 L387.93 650.4 L385.7 649.53 L387.93 648.65Z" fill="#9c9c9c"/>
<path d="M394.51 643.78 L395.39 646 L397.61 646.88 L395.39 647.76 L394.51 649.98 L393.63 647.76 L391.41 646.88 L393.63 646Z" fill="#9c9c9c"/>
<path d="M400.89 646.38 L401.77 648.61 L403.99 649.48 L401.77 650.36 L400.89 652.58 L400.02 650.36 L397.79 649.48 L400.02 648.61Z" fill="#9c9c9c"/>
<path d="M403.22 644.07 L404.1 646.29 L406.32 647.17 L404.1 648.04 L403.22 650.27 L402.35 648.04 L400.12 647.17 L402.35 646.29Z" fill="#9c9c9c"/>
<path d="M380.97 648.83 L381.85 651.05 L384.07 651.93 L381.85 652.81 L380.97 655.03 L380.1 652.81 L377.87 651.93 L380.1 651.05Z" fill="#9c9c9c"/>
<path d="M384.07 647.63 L384.95 649.85 L387.17 650.73 L384.95 651.61 L384.07 653.83 L383.19 651.61 L380.97 650.73 L383.19 649.85Z" fill="#9c9c9c"/>
<path d="M388.34 649.83 L389.22 652.05 L391.44 652.93 L389.22 653.81 L388.34 656.03 L387.47 653.81 L385.24 652.93 L387.47 652.05Z" fill="#9c9c9c"/>
<path d="M396.74 651.19 L397.62 653.42 L399.84 654.29 L397.62 655.17 L396.74 657.39 L395.86 655.17 L393.64 654.29 L395.86 653.42Z" fill="#9c9c9c"/>
<path d="M400.01 647.69 L400.89 649.91 L403.11 650.79 L400.89 651.66 L400.01 653.89 L399.14 651.66 L396.91 650.79 L399.14 649.91Z" fill="#9c9c9c"/>
<path d="M404.36 650.43 L405.24 652.66 L407.46 653.53 L405.24 654.41 L404.36 656.63 L403.48 654.41 L401.26 653.53 L403.48 652.66Z" fill="#9c9c9c"/>
<path d="M386.2 654.4 L387.07 656.63 L389.3 657.5 L387.07 658.38 L386.2 660.6 L385.32 658.38 L383.1 657.5 L385.32 656.63Z" fill="#9c9c9c"/>
<path d="M389.03 654 L389.9 656.22 L392.13 657.1 L389.9 657.97 L389.03 660.2 L388.15 657.97 L385.93 657.1 L388.15 656.22Z" fill="#9c9c9c"/>
<path d="M394.92 654.36 L395.8 656.58 L398.02 657.46 L395.8 658.33 L394.92 660.56 L394.04 658.33 L391.82 657.46 L394.04 656.58Z" fill="#9c9c9c"/>
<path d="M399.15 655.51 L400.02 657.73 L402.25 658.61 L400.02 659.48 L399.15 661.71 L398.27 659.48 L396.05 658.61 L398.27 657.73Z" fill="#9c9c9c"/>
<path d="M391.42 657.18 L392.3 659.41 L394.52 660.28 L392.3 661.16 L391.42 663.38 L390.54 661.16 L388.32 660.28 L390.54 659.41Z" fill="#9c9c9c"/>
<path d="M394.25 659.74 L395.13 661.97 L397.35 662.84 L395.13 663.72 L394.25 665.94 L393.37 663.72 L391.15 662.84 L393.37 661.97Z" fill="#9c9c9c"/>
<circle cx="495.4" cy="18.3" r="4.2" fill="#ffff00" stroke="#000" stroke-width="1"/>
<text x="485.4" y="21.2" font-size="9.6" font-family="Liberation Serif" text-anchor="end" fill="#111" stroke="#111" stroke-width="0.18" >CS</text>
<circle cx="295.5" cy="216.3" r="4.2" fill="#ffff00" stroke="#000" stroke-width="1"/>
<text x="305" y="219.5" font-size="9.6" font-family="Liberation Serif" text-anchor="start" fill="#111" stroke="#111" stroke-width="0.18" >BA</text>
<circle cx="475.1" cy="279.7" r="4.2" fill="#22e2e2" stroke="#000" stroke-width="1"/>
<text x="465.6" y="283" font-size="9.6" font-family="Liberation Serif" text-anchor="end" fill="#111" stroke="#111" stroke-width="0.18" >PM</text>
<circle cx="315.6" cy="476" r="4.2" fill="#22e2e2" stroke="#000" stroke-width="1"/>
<text x="324" y="479.3" font-size="9.6" font-family="Liberation Serif" text-anchor="start" fill="#111" stroke="#111" stroke-width="0.18" >AM</text>
<circle cx="447.9" cy="557.4" r="4.2" fill="#ff00ff" stroke="#000" stroke-width="1"/>
<text x="457.4" y="560.7" font-size="9.6" font-family="Liberation Serif" text-anchor="start" fill="#111" stroke="#111" stroke-width="0.18" >BM</text>
<circle cx="290.2" cy="635.1" r="4.2" fill="#ff00ff" stroke="#000" stroke-width="1"/>
<text x="299.5" y="638.4" font-size="9.6" font-family="Liberation Serif" text-anchor="start" fill="#111" stroke="#111" stroke-width="0.18" >MN</text>
<circle cx="436.1" cy="731.7" r="4.2" fill="#ff00ff" stroke="#000" stroke-width="1"/>
<text x="444.6" y="735" font-size="9.6" font-family="Liberation Serif" text-anchor="start" fill="#111" stroke="#111" stroke-width="0.18" >FA</text>
</svg>
</body></html>
